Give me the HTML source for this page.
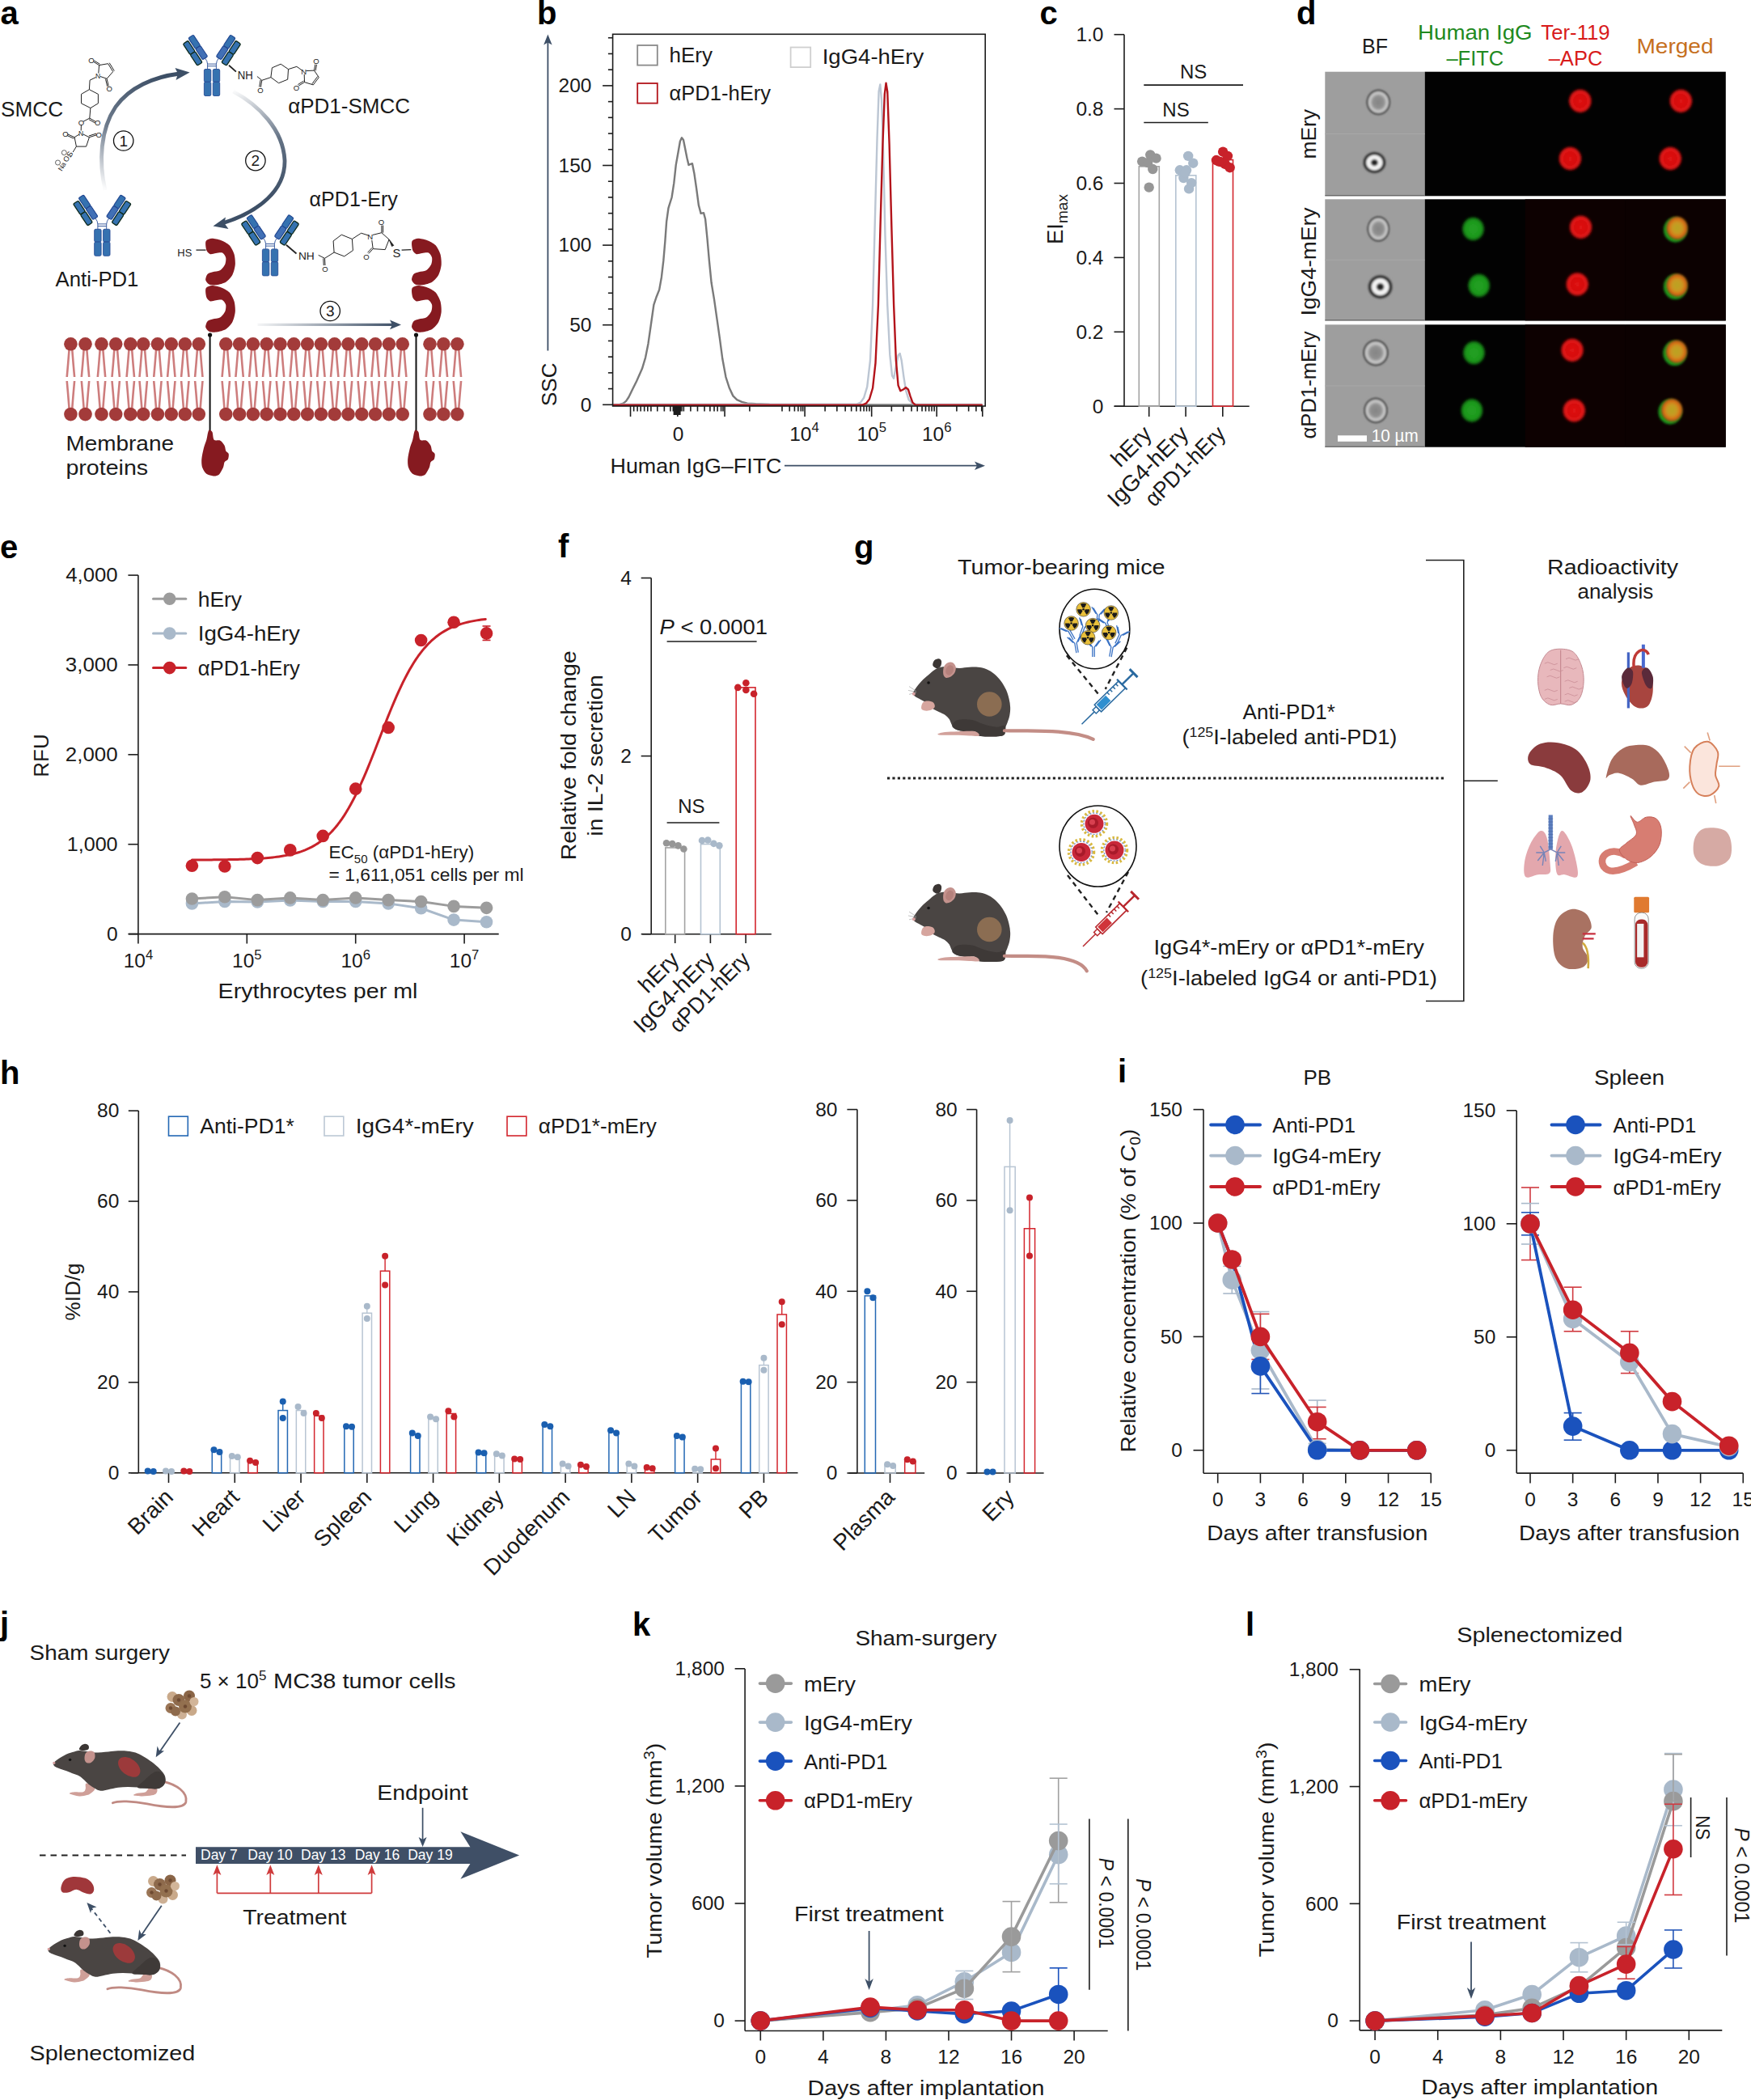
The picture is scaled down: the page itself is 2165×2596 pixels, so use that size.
<!DOCTYPE html>
<html><head><meta charset="utf-8"><title>Figure</title>
<style>html,body{margin:0;padding:0;background:#fff;}svg{display:block;}</style></head>
<body><svg width="2165" height="2596" viewBox="0 0 2165 2596" font-family="'Liberation Sans', Arial, sans-serif" fill="#1a1a1a">
<rect width="2165" height="2596" fill="#fff"/>
<text x="664" y="29.5" font-size="40" fill="#000" font-weight="bold">b</text>
<polyline points="758.98,500.34 766.52,500 770.63,498.63 774.06,495.89 777.48,490.75 781.94,481.49 787.08,471.21 793.93,455.79 798.05,442.08 801.47,424.95 804.9,400.96 808.33,376.97 811.75,366.69 815.18,358.12 817.92,342.7 820.32,322.14 822.38,298.15 824.09,274.16 826.49,257.03 830.6,244 833.34,226.18 835.74,203.91 838.49,188.49 840.88,174.78 842.94,170.32 845,173.06 847.05,183.34 849.45,195.34 851.51,203.91 853.91,202.88 855.96,202.19 858.36,214.19 861.1,233.04 863.85,253.6 866.59,263.88 870.01,263.19 872.07,270.73 874.47,294.72 876.87,322.14 879.61,349.55 883.04,370.12 886.46,394.11 889.89,418.09 893.32,443.8 897.43,466.07 901.88,479.78 906.34,489.38 911.14,494.17 917.31,496.92 924.16,498.63 934.44,499.31 951.58,500 1026.97,500.34 1213.74,500.34" fill="none" stroke="#7a7a7a" stroke-width="2.4" stroke-linejoin="round" stroke-linecap="round" />
<polyline points="758.98,500 1059.53,499.66 1063.98,497.6 1068.09,491.78 1072.21,478.07 1075.98,445.51 1079.06,376.97 1081.8,274.16 1084.54,171.35 1086.6,113.09 1088.31,104.52 1090.03,123.37 1092.08,188.49 1094.48,291.3 1097.22,376.97 1100.31,438.66 1103.05,464.36 1105.11,467.79 1107.85,452.36 1110.59,439.34 1112.65,436.94 1114.7,445.51 1117.44,466.07 1120.19,483.21 1123.61,494.17 1128.07,498.63 1133.21,500 1213.74,500" fill="none" stroke="#bcc6d3" stroke-width="2.4" stroke-linejoin="round" stroke-linecap="round" />
<polyline points="758.98,500.69 1066.38,500.69 1070.84,498.63 1074.95,493.49 1079.06,479.78 1082.49,448.94 1085.92,376.97 1088.66,274.16 1091.4,178.2 1093.8,116.52 1095.51,102.81 1097.22,113.09 1099.62,178.2 1102.36,281.01 1105.11,376.97 1107.85,445.51 1110.59,476.35 1113.33,483.21 1116.76,481.49 1120.19,479.1 1122.93,481.49 1125.67,490.06 1128.41,497.6 1131.49,500.34 1213.74,500.69" fill="none" stroke="#b3141b" stroke-width="2.4" stroke-linejoin="round" stroke-linecap="round" />
<rect x="757.6" y="42.3" width="460.6" height="459.7" fill="none" stroke="#1c1c1c" stroke-width="1.6" />
<line x1="745.1" y1="500.3" x2="757.6" y2="500.3" stroke="#1c1c1c" stroke-width="1.6" />
<text x="731.5" y="508.5" font-size="24.5" text-anchor="end">0</text>
<line x1="751.9" y1="480.58" x2="757.6" y2="480.58" stroke="#1c1c1c" stroke-width="1.6" />
<line x1="751.9" y1="460.86" x2="757.6" y2="460.86" stroke="#1c1c1c" stroke-width="1.6" />
<line x1="751.9" y1="441.14" x2="757.6" y2="441.14" stroke="#1c1c1c" stroke-width="1.6" />
<line x1="751.9" y1="421.42" x2="757.6" y2="421.42" stroke="#1c1c1c" stroke-width="1.6" />
<line x1="745.1" y1="401.7" x2="757.6" y2="401.7" stroke="#1c1c1c" stroke-width="1.6" />
<text x="731.5" y="409.9" font-size="24.5" text-anchor="end">50</text>
<line x1="751.9" y1="381.98" x2="757.6" y2="381.98" stroke="#1c1c1c" stroke-width="1.6" />
<line x1="751.9" y1="362.26" x2="757.6" y2="362.26" stroke="#1c1c1c" stroke-width="1.6" />
<line x1="751.9" y1="342.54" x2="757.6" y2="342.54" stroke="#1c1c1c" stroke-width="1.6" />
<line x1="751.9" y1="322.82" x2="757.6" y2="322.82" stroke="#1c1c1c" stroke-width="1.6" />
<line x1="745.1" y1="303.1" x2="757.6" y2="303.1" stroke="#1c1c1c" stroke-width="1.6" />
<text x="731.5" y="311.3" font-size="24.5" text-anchor="end">100</text>
<line x1="751.9" y1="283.38" x2="757.6" y2="283.38" stroke="#1c1c1c" stroke-width="1.6" />
<line x1="751.9" y1="263.66" x2="757.6" y2="263.66" stroke="#1c1c1c" stroke-width="1.6" />
<line x1="751.9" y1="243.94" x2="757.6" y2="243.94" stroke="#1c1c1c" stroke-width="1.6" />
<line x1="751.9" y1="224.22" x2="757.6" y2="224.22" stroke="#1c1c1c" stroke-width="1.6" />
<line x1="745.1" y1="204.5" x2="757.6" y2="204.5" stroke="#1c1c1c" stroke-width="1.6" />
<text x="731.5" y="212.7" font-size="24.5" text-anchor="end">150</text>
<line x1="751.9" y1="184.78" x2="757.6" y2="184.78" stroke="#1c1c1c" stroke-width="1.6" />
<line x1="751.9" y1="165.06" x2="757.6" y2="165.06" stroke="#1c1c1c" stroke-width="1.6" />
<line x1="751.9" y1="145.34" x2="757.6" y2="145.34" stroke="#1c1c1c" stroke-width="1.6" />
<line x1="751.9" y1="125.62" x2="757.6" y2="125.62" stroke="#1c1c1c" stroke-width="1.6" />
<line x1="745.1" y1="105.9" x2="757.6" y2="105.9" stroke="#1c1c1c" stroke-width="1.6" />
<text x="731.5" y="114.1" font-size="24.5" text-anchor="end">200</text>
<line x1="751.9" y1="86.18" x2="757.6" y2="86.18" stroke="#1c1c1c" stroke-width="1.6" />
<line x1="751.9" y1="66.46" x2="757.6" y2="66.46" stroke="#1c1c1c" stroke-width="1.6" />
<line x1="751.9" y1="46.74" x2="757.6" y2="46.74" stroke="#1c1c1c" stroke-width="1.6" />
<line x1="779.54" y1="502" x2="779.54" y2="515" stroke="#1c1c1c" stroke-width="1.6" />
<line x1="837.8" y1="502" x2="837.8" y2="515" stroke="#1c1c1c" stroke-width="1.6" />
<line x1="896.06" y1="502" x2="896.06" y2="515" stroke="#1c1c1c" stroke-width="1.6" />
<line x1="995.1" y1="502" x2="995.1" y2="515" stroke="#1c1c1c" stroke-width="1.6" />
<line x1="1077.69" y1="502" x2="1077.69" y2="515" stroke="#1c1c1c" stroke-width="1.6" />
<line x1="1158.22" y1="502" x2="1158.22" y2="515" stroke="#1c1c1c" stroke-width="1.6" />
<line x1="1214.77" y1="502" x2="1214.77" y2="515" stroke="#1c1c1c" stroke-width="1.6" />
<line x1="783.65" y1="502" x2="783.65" y2="508.5" stroke="#1c1c1c" stroke-width="1.6" />
<line x1="788.11" y1="502" x2="788.11" y2="508.5" stroke="#1c1c1c" stroke-width="1.6" />
<line x1="792.22" y1="502" x2="792.22" y2="508.5" stroke="#1c1c1c" stroke-width="1.6" />
<line x1="796.68" y1="502" x2="796.68" y2="508.5" stroke="#1c1c1c" stroke-width="1.6" />
<line x1="800.79" y1="502" x2="800.79" y2="508.5" stroke="#1c1c1c" stroke-width="1.6" />
<line x1="804.9" y1="502" x2="804.9" y2="508.5" stroke="#1c1c1c" stroke-width="1.6" />
<line x1="812.78" y1="502" x2="812.78" y2="508.5" stroke="#1c1c1c" stroke-width="1.6" />
<line x1="821.35" y1="502" x2="821.35" y2="508.5" stroke="#1c1c1c" stroke-width="1.6" />
<line x1="828.89" y1="502" x2="828.89" y2="508.5" stroke="#1c1c1c" stroke-width="1.6" />
<line x1="832.32" y1="502" x2="832.32" y2="508.5" stroke="#1c1c1c" stroke-width="1.6" />
<line x1="834.37" y1="502" x2="834.37" y2="508.5" stroke="#1c1c1c" stroke-width="1.6" />
<line x1="836.09" y1="502" x2="836.09" y2="508.5" stroke="#1c1c1c" stroke-width="1.6" />
<line x1="839.51" y1="502" x2="839.51" y2="508.5" stroke="#1c1c1c" stroke-width="1.6" />
<line x1="841.23" y1="502" x2="841.23" y2="508.5" stroke="#1c1c1c" stroke-width="1.6" />
<line x1="842.94" y1="502" x2="842.94" y2="508.5" stroke="#1c1c1c" stroke-width="1.6" />
<line x1="845.34" y1="502" x2="845.34" y2="508.5" stroke="#1c1c1c" stroke-width="1.6" />
<line x1="853.91" y1="502" x2="853.91" y2="508.5" stroke="#1c1c1c" stroke-width="1.6" />
<line x1="862.47" y1="502" x2="862.47" y2="508.5" stroke="#1c1c1c" stroke-width="1.6" />
<line x1="871.04" y1="502" x2="871.04" y2="508.5" stroke="#1c1c1c" stroke-width="1.6" />
<line x1="877.9" y1="502" x2="877.9" y2="508.5" stroke="#1c1c1c" stroke-width="1.6" />
<line x1="883.04" y1="502" x2="883.04" y2="508.5" stroke="#1c1c1c" stroke-width="1.6" />
<line x1="887.15" y1="502" x2="887.15" y2="508.5" stroke="#1c1c1c" stroke-width="1.6" />
<line x1="891.6" y1="502" x2="891.6" y2="508.5" stroke="#1c1c1c" stroke-width="1.6" />
<line x1="894" y1="502" x2="894" y2="508.5" stroke="#1c1c1c" stroke-width="1.6" />
<line x1="926.9" y1="502" x2="926.9" y2="508.5" stroke="#1c1c1c" stroke-width="1.6" />
<line x1="967" y1="502" x2="967" y2="508.5" stroke="#1c1c1c" stroke-width="1.6" />
<line x1="976.25" y1="502" x2="976.25" y2="508.5" stroke="#1c1c1c" stroke-width="1.6" />
<line x1="982.42" y1="502" x2="982.42" y2="508.5" stroke="#1c1c1c" stroke-width="1.6" />
<line x1="986.87" y1="502" x2="986.87" y2="508.5" stroke="#1c1c1c" stroke-width="1.6" />
<line x1="990.3" y1="502" x2="990.3" y2="508.5" stroke="#1c1c1c" stroke-width="1.6" />
<line x1="992.7" y1="502" x2="992.7" y2="508.5" stroke="#1c1c1c" stroke-width="1.6" />
<line x1="1020.12" y1="502" x2="1020.12" y2="508.5" stroke="#1c1c1c" stroke-width="1.6" />
<line x1="1034.85" y1="502" x2="1034.85" y2="508.5" stroke="#1c1c1c" stroke-width="1.6" />
<line x1="1045.13" y1="502" x2="1045.13" y2="508.5" stroke="#1c1c1c" stroke-width="1.6" />
<line x1="1052.67" y1="502" x2="1052.67" y2="508.5" stroke="#1c1c1c" stroke-width="1.6" />
<line x1="1058.84" y1="502" x2="1058.84" y2="508.5" stroke="#1c1c1c" stroke-width="1.6" />
<line x1="1063.98" y1="502" x2="1063.98" y2="508.5" stroke="#1c1c1c" stroke-width="1.6" />
<line x1="1068.09" y1="502" x2="1068.09" y2="508.5" stroke="#1c1c1c" stroke-width="1.6" />
<line x1="1071.52" y1="502" x2="1071.52" y2="508.5" stroke="#1c1c1c" stroke-width="1.6" />
<line x1="1074.95" y1="502" x2="1074.95" y2="508.5" stroke="#1c1c1c" stroke-width="1.6" />
<line x1="1102.36" y1="502" x2="1102.36" y2="508.5" stroke="#1c1c1c" stroke-width="1.6" />
<line x1="1117.1" y1="502" x2="1117.1" y2="508.5" stroke="#1c1c1c" stroke-width="1.6" />
<line x1="1127.04" y1="502" x2="1127.04" y2="508.5" stroke="#1c1c1c" stroke-width="1.6" />
<line x1="1134.24" y1="502" x2="1134.24" y2="508.5" stroke="#1c1c1c" stroke-width="1.6" />
<line x1="1140.06" y1="502" x2="1140.06" y2="508.5" stroke="#1c1c1c" stroke-width="1.6" />
<line x1="1144.52" y1="502" x2="1144.52" y2="508.5" stroke="#1c1c1c" stroke-width="1.6" />
<line x1="1148.63" y1="502" x2="1148.63" y2="508.5" stroke="#1c1c1c" stroke-width="1.6" />
<line x1="1152.06" y1="502" x2="1152.06" y2="508.5" stroke="#1c1c1c" stroke-width="1.6" />
<line x1="1155.14" y1="502" x2="1155.14" y2="508.5" stroke="#1c1c1c" stroke-width="1.6" />
<line x1="1182.9" y1="502" x2="1182.9" y2="508.5" stroke="#1c1c1c" stroke-width="1.6" />
<line x1="1197.64" y1="502" x2="1197.64" y2="508.5" stroke="#1c1c1c" stroke-width="1.6" />
<line x1="1206.89" y1="502" x2="1206.89" y2="508.5" stroke="#1c1c1c" stroke-width="1.6" />
<line x1="1213.74" y1="502" x2="1213.74" y2="508.5" stroke="#1c1c1c" stroke-width="1.6" />
<line x1="833.69" y1="502" x2="833.69" y2="513" stroke="#1c1c1c" stroke-width="2.2" />
<line x1="835.06" y1="502" x2="835.06" y2="513" stroke="#1c1c1c" stroke-width="2.2" />
<line x1="836.43" y1="502" x2="836.43" y2="513" stroke="#1c1c1c" stroke-width="2.2" />
<line x1="837.8" y1="502" x2="837.8" y2="513" stroke="#1c1c1c" stroke-width="2.2" />
<line x1="839.17" y1="502" x2="839.17" y2="513" stroke="#1c1c1c" stroke-width="2.2" />
<line x1="840.54" y1="502" x2="840.54" y2="513" stroke="#1c1c1c" stroke-width="2.2" />
<text x="838.5" y="544.5" font-size="24.5" text-anchor="middle">0</text>
<text x="994.4" y="544.5" font-size="24.5" text-anchor="middle">10<tspan font-size="16.66" dy="-10.29">4</tspan></text>
<text x="1077.7" y="544.5" font-size="24.5" text-anchor="middle">10<tspan font-size="16.66" dy="-10.29">5</tspan></text>
<text x="1158.2" y="544.5" font-size="24.5" text-anchor="middle">10<tspan font-size="16.66" dy="-10.29">6</tspan></text>
<text x="754.5" y="584.5" font-size="26" textLength="212" lengthAdjust="spacingAndGlyphs">Human IgG–FITC</text>
<line x1="970" y1="575.7" x2="1210" y2="575.7" stroke="#3d4f66" stroke-width="1.8" />
<path d="M1218,575.7 L1205,570.5 L1208,575.7 L1205,581 Z" fill="#3d4f66" />
<line x1="677.4" y1="433.5" x2="677.4" y2="52" stroke="#3d4f66" stroke-width="1.8" />
<path d="M677.4,42.5 L672.2,55.5 L677.4,52.5 L682.6,55.5 Z" fill="#3d4f66" />
<text x="687.5" y="502" font-size="26" transform="rotate(-90 687.5 502)">SSC</text>
<rect x="788.2" y="56" width="24.6" height="24.6" fill="none" stroke="#8a8a8a" stroke-width="1.8" />
<rect x="977.6" y="58.5" width="24.6" height="24.6" fill="none" stroke="#cfcfcf" stroke-width="1.8" />
<rect x="788.2" y="103" width="24.6" height="24.6" fill="none" stroke="#b3141b" stroke-width="1.8" />
<text x="827.5" y="76.5" font-size="26">hEry</text>
<text x="1016.7" y="78.5" font-size="26" textLength="125.5" lengthAdjust="spacingAndGlyphs">IgG4-hEry</text>
<text x="827.5" y="123.5" font-size="26" textLength="125.5" lengthAdjust="spacingAndGlyphs">αPD1-hEry</text>
<text x="1285.5" y="29.5" font-size="40" fill="#000" font-weight="bold">c</text>
<line x1="1390" y1="42.7" x2="1390" y2="502.2" stroke="#1c1c1c" stroke-width="1.6" />
<line x1="1377.5" y1="502.2" x2="1390" y2="502.2" stroke="#1c1c1c" stroke-width="1.6" />
<text x="1364.5" y="510.53" font-size="24.5" text-anchor="end">0</text>
<line x1="1377.5" y1="410.3" x2="1390" y2="410.3" stroke="#1c1c1c" stroke-width="1.6" />
<text x="1364.5" y="418.63" font-size="24.5" text-anchor="end">0.2</text>
<line x1="1377.5" y1="318.4" x2="1390" y2="318.4" stroke="#1c1c1c" stroke-width="1.6" />
<text x="1364.5" y="326.73" font-size="24.5" text-anchor="end">0.4</text>
<line x1="1377.5" y1="226.5" x2="1390" y2="226.5" stroke="#1c1c1c" stroke-width="1.6" />
<text x="1364.5" y="234.83" font-size="24.5" text-anchor="end">0.6</text>
<line x1="1377.5" y1="134.6" x2="1390" y2="134.6" stroke="#1c1c1c" stroke-width="1.6" />
<text x="1364.5" y="142.93" font-size="24.5" text-anchor="end">0.8</text>
<line x1="1377.5" y1="42.7" x2="1390" y2="42.7" stroke="#1c1c1c" stroke-width="1.6" />
<text x="1364.5" y="51.03" font-size="24.5" text-anchor="end">1.0</text>
<line x1="1377.7" y1="502.2" x2="1544.7" y2="502.2" stroke="#1c1c1c" stroke-width="1.6" />
<line x1="1420.7" y1="502.2" x2="1420.7" y2="515" stroke="#1c1c1c" stroke-width="1.6" />
<line x1="1466.1" y1="502.2" x2="1466.1" y2="515" stroke="#1c1c1c" stroke-width="1.6" />
<line x1="1511.8" y1="502.2" x2="1511.8" y2="515" stroke="#1c1c1c" stroke-width="1.6" />
<rect x="1408.3" y="205.82" width="25" height="296.38" fill="none" stroke="#a3a3a3" stroke-width="1.6" />
<rect x="1453.8" y="216.85" width="25" height="285.35" fill="none" stroke="#b4c3d2" stroke-width="1.6" />
<rect x="1499.5" y="197.55" width="25" height="304.65" fill="none" stroke="#d3262e" stroke-width="1.6" />
<circle cx="1412.17" cy="199.6" r="6.2" fill="#969696" />
<circle cx="1422.23" cy="191.37" r="6.2" fill="#969696" />
<circle cx="1429.54" cy="195.64" r="6.2" fill="#969696" />
<circle cx="1425.28" cy="209.04" r="6.2" fill="#969696" />
<circle cx="1420.7" cy="231.59" r="6.2" fill="#969696" />
<circle cx="1419.18" cy="201.12" r="6.2" fill="#969696" />
<circle cx="1469.16" cy="192.89" r="6.2" fill="#a9b9ca" />
<circle cx="1475.25" cy="201.73" r="6.2" fill="#a9b9ca" />
<circle cx="1458.8" cy="210.26" r="6.2" fill="#a9b9ca" />
<circle cx="1467.02" cy="210.26" r="6.2" fill="#a9b9ca" />
<circle cx="1463.37" cy="220.01" r="6.2" fill="#a9b9ca" />
<circle cx="1470.07" cy="233.42" r="6.2" fill="#a9b9ca" />
<circle cx="1473.12" cy="226.11" r="6.2" fill="#a9b9ca" />
<circle cx="1465.5" cy="213.31" r="6.2" fill="#a9b9ca" />
<circle cx="1503.9" cy="198.07" r="6.2" fill="#c8222a" />
<circle cx="1512.12" cy="187.71" r="6.2" fill="#c8222a" />
<circle cx="1517.91" cy="192.89" r="6.2" fill="#c8222a" />
<circle cx="1514.87" cy="202.95" r="6.2" fill="#c8222a" />
<circle cx="1520.66" cy="207.22" r="6.2" fill="#c8222a" />
<circle cx="1509.69" cy="200.21" r="6.2" fill="#c8222a" />
<circle cx="1506.94" cy="199.6" r="6.2" fill="#c8222a" />
<line x1="1414.3" y1="105.1" x2="1537" y2="105.1" stroke="#1c1c1c" stroke-width="1.6" />
<text x="1475.6" y="96.5" font-size="24" text-anchor="middle">NS</text>
<line x1="1414.3" y1="151.5" x2="1493.8" y2="151.5" stroke="#1c1c1c" stroke-width="1.6" />
<text x="1454" y="144.3" font-size="24" text-anchor="middle">NS</text>
<text x="1314" y="302" font-size="27.5" transform="rotate(-90 1314 302)">EI<tspan font-size="19" dy="6">max</tspan></text>
<text x="1425.7" y="538" font-size="28" text-anchor="end" transform="rotate(-45 1425.7 538)">hEry</text>
<text x="1471.1" y="538" font-size="28" text-anchor="end" transform="rotate(-45 1471.1 538)">IgG4-hEry</text>
<text x="1516.8" y="538" font-size="28" text-anchor="end" transform="rotate(-45 1516.8 538)" textLength="127" lengthAdjust="spacingAndGlyphs">αPD1-hEry</text>
<text x="0" y="690" font-size="40" fill="#000" font-weight="bold">e</text>
<line x1="170.9" y1="711.1" x2="170.9" y2="1154.6" stroke="#1c1c1c" stroke-width="1.6" />
<line x1="158.4" y1="1154.6" x2="170.9" y2="1154.6" stroke="#1c1c1c" stroke-width="1.6" />
<text x="145.6" y="1162.93" font-size="24.5" text-anchor="end">0</text>
<line x1="158.4" y1="1043.72" x2="170.9" y2="1043.72" stroke="#1c1c1c" stroke-width="1.6" />
<text x="145.6" y="1052.05" font-size="24.5" text-anchor="end" textLength="62.9" lengthAdjust="spacingAndGlyphs">1,000</text>
<line x1="158.4" y1="932.84" x2="170.9" y2="932.84" stroke="#1c1c1c" stroke-width="1.6" />
<text x="145.6" y="941.17" font-size="24.5" text-anchor="end" textLength="64.8" lengthAdjust="spacingAndGlyphs">2,000</text>
<line x1="158.4" y1="821.96" x2="170.9" y2="821.96" stroke="#1c1c1c" stroke-width="1.6" />
<text x="145.6" y="830.29" font-size="24.5" text-anchor="end" textLength="64.8" lengthAdjust="spacingAndGlyphs">3,000</text>
<line x1="158.4" y1="711.08" x2="170.9" y2="711.08" stroke="#1c1c1c" stroke-width="1.6" />
<text x="145.6" y="719.41" font-size="24.5" text-anchor="end" textLength="64.4" lengthAdjust="spacingAndGlyphs">4,000</text>
<line x1="159.2" y1="1154.6" x2="616.7" y2="1154.6" stroke="#1c1c1c" stroke-width="1.6" />
<line x1="170.9" y1="1154.6" x2="170.9" y2="1166.5" stroke="#1c1c1c" stroke-width="1.6" />
<text x="170.9" y="1196" font-size="24.5" text-anchor="middle">10<tspan font-size="16.66" dy="-10.29">4</tspan></text>
<line x1="305.3" y1="1154.6" x2="305.3" y2="1166.5" stroke="#1c1c1c" stroke-width="1.6" />
<text x="305.3" y="1196" font-size="24.5" text-anchor="middle">10<tspan font-size="16.66" dy="-10.29">5</tspan></text>
<line x1="439.7" y1="1154.6" x2="439.7" y2="1166.5" stroke="#1c1c1c" stroke-width="1.6" />
<text x="439.7" y="1196" font-size="24.5" text-anchor="middle">10<tspan font-size="16.66" dy="-10.29">6</tspan></text>
<line x1="574.1" y1="1154.6" x2="574.1" y2="1166.5" stroke="#1c1c1c" stroke-width="1.6" />
<text x="574.1" y="1196" font-size="24.5" text-anchor="middle">10<tspan font-size="16.66" dy="-10.29">7</tspan></text>
<text x="50.5" y="934" font-size="26" text-anchor="middle" transform="rotate(-90 50.5 934)" dy="9">RFU</text>
<text x="393" y="1234" font-size="26" text-anchor="middle" textLength="247" lengthAdjust="spacingAndGlyphs">Erythrocytes per ml</text>
<polyline points="237.41,1116.89 277.87,1114.56 318.32,1114.95 358.78,1113.01 399.24,1114.56 439.7,1114.56 480.16,1116.89 520.62,1122.72 561.08,1137.09 601.53,1139.81" fill="none" stroke="#a9b9ca" stroke-width="3" stroke-linejoin="round" stroke-linecap="round" />
<polyline points="237.41,1111.07 277.87,1108.74 318.32,1112.62 358.78,1109.9 399.24,1112.62 439.7,1109.9 480.16,1112.62 520.62,1114.56 561.08,1120.39 601.53,1122.33" fill="none" stroke="#9c9c9c" stroke-width="3" stroke-linejoin="round" stroke-linecap="round" />
<circle cx="237.41" cy="1116.89" r="7.8" fill="#a9b9ca" />
<circle cx="277.87" cy="1114.56" r="7.8" fill="#a9b9ca" />
<circle cx="318.32" cy="1114.95" r="7.8" fill="#a9b9ca" />
<circle cx="358.78" cy="1113.01" r="7.8" fill="#a9b9ca" />
<circle cx="399.24" cy="1114.56" r="7.8" fill="#a9b9ca" />
<circle cx="439.7" cy="1114.56" r="7.8" fill="#a9b9ca" />
<circle cx="480.16" cy="1116.89" r="7.8" fill="#a9b9ca" />
<circle cx="520.62" cy="1122.72" r="7.8" fill="#a9b9ca" />
<circle cx="561.08" cy="1137.09" r="7.8" fill="#a9b9ca" />
<circle cx="601.53" cy="1139.81" r="7.8" fill="#a9b9ca" />
<circle cx="237.41" cy="1111.07" r="7.8" fill="#9c9c9c" />
<circle cx="277.87" cy="1108.74" r="7.8" fill="#9c9c9c" />
<circle cx="318.32" cy="1112.62" r="7.8" fill="#9c9c9c" />
<circle cx="358.78" cy="1109.9" r="7.8" fill="#9c9c9c" />
<circle cx="399.24" cy="1112.62" r="7.8" fill="#9c9c9c" />
<circle cx="439.7" cy="1109.9" r="7.8" fill="#9c9c9c" />
<circle cx="480.16" cy="1112.62" r="7.8" fill="#9c9c9c" />
<circle cx="520.62" cy="1114.56" r="7.8" fill="#9c9c9c" />
<circle cx="561.08" cy="1120.39" r="7.8" fill="#9c9c9c" />
<circle cx="601.53" cy="1122.33" r="7.8" fill="#9c9c9c" />
<polyline points="237.41,1063.02 240.1,1063.01 242.78,1063 245.47,1062.98 248.16,1062.97 250.85,1062.95 253.54,1062.94 256.22,1062.92 258.91,1062.9 261.6,1062.88 264.29,1062.86 266.98,1062.83 269.66,1062.8 272.35,1062.77 275.04,1062.74 277.73,1062.7 280.42,1062.66 283.1,1062.61 285.79,1062.56 288.48,1062.51 291.17,1062.45 293.86,1062.39 296.54,1062.32 299.23,1062.24 301.92,1062.15 304.61,1062.06 307.3,1061.96 309.98,1061.85 312.67,1061.72 315.36,1061.59 318.05,1061.44 320.74,1061.28 323.42,1061.1 326.11,1060.91 328.8,1060.7 331.49,1060.47 334.18,1060.21 336.86,1059.93 339.55,1059.63 342.24,1059.3 344.93,1058.93 347.62,1058.54 350.3,1058.1 352.99,1057.62 355.68,1057.1 358.37,1056.54 361.06,1055.92 363.74,1055.24 366.43,1054.5 369.12,1053.69 371.81,1052.82 374.5,1051.86 377.18,1050.82 379.87,1049.68 382.56,1048.45 385.25,1047.11 387.94,1045.65 390.62,1044.07 393.31,1042.36 396,1040.51 398.69,1038.51 401.38,1036.34 404.06,1034.01 406.75,1031.49 409.44,1028.79 412.13,1025.89 414.82,1022.78 417.5,1019.45 420.19,1015.89 422.88,1012.11 425.57,1008.09 428.26,1003.82 430.94,999.32 433.63,994.56 436.32,989.56 439.01,984.32 441.7,978.85 444.38,973.15 447.07,967.23 449.76,961.12 452.45,954.82 455.14,948.35 457.82,941.74 460.51,935.02 463.2,928.2 465.89,921.31 468.58,914.39 471.26,907.46 473.95,900.55 476.64,893.69 479.33,886.92 482.02,880.24 484.7,873.7 487.39,867.31 490.08,861.1 492.77,855.08 495.46,849.27 498.14,843.67 500.83,838.31 503.52,833.19 506.21,828.31 508.9,823.68 511.58,819.29 514.27,815.14 516.96,811.23 519.65,807.56 522.34,804.12 525.02,800.9 527.71,797.89 530.4,795.08 533.09,792.47 535.78,790.05 538.46,787.8 541.15,785.71 543.84,783.78 546.53,782 549.22,780.35 551.9,778.84 554.59,777.44 557.28,776.15 559.97,774.97 562.66,773.88 565.34,772.88 568.03,771.96 570.72,771.11 573.41,770.34 576.1,769.63 578.78,768.98 581.47,768.39 584.16,767.85 586.85,767.35 589.54,766.89 592.22,766.48 594.91,766.09 597.6,765.75 600.29,765.43" fill="none" stroke="#c8222a" stroke-width="3" stroke-linejoin="round" stroke-linecap="round" />
<line x1="601.53" y1="773.98" x2="601.53" y2="791.46" stroke="#c8222a" stroke-width="1.6" />
<line x1="596.53" y1="773.98" x2="606.53" y2="773.98" stroke="#c8222a" stroke-width="1.6" />
<line x1="596.53" y1="791.46" x2="606.53" y2="791.46" stroke="#c8222a" stroke-width="1.6" />
<circle cx="237.41" cy="1070.29" r="7.8" fill="#c8222a" />
<circle cx="277.87" cy="1071.07" r="7.8" fill="#c8222a" />
<circle cx="318.32" cy="1060.58" r="7.8" fill="#c8222a" />
<circle cx="358.78" cy="1050.87" r="7.8" fill="#c8222a" />
<circle cx="399.24" cy="1033.4" r="7.8" fill="#c8222a" />
<circle cx="439.7" cy="975.15" r="7.8" fill="#c8222a" />
<circle cx="480.16" cy="899.42" r="7.8" fill="#c8222a" />
<circle cx="520.62" cy="791.46" r="7.8" fill="#c8222a" />
<circle cx="561.08" cy="769.32" r="7.8" fill="#c8222a" />
<circle cx="601.53" cy="782.91" r="7.8" fill="#c8222a" />
<line x1="189.5" y1="740.2" x2="229.8" y2="740.2" stroke="#9c9c9c" stroke-width="3" stroke-linecap="round"/>
<circle cx="209.7" cy="740.2" r="7.8" fill="#9c9c9c" />
<text x="244.7" y="749.5" font-size="26" textLength="54.4" lengthAdjust="spacingAndGlyphs">hEry</text>
<line x1="189.5" y1="783" x2="229.8" y2="783" stroke="#a9b9ca" stroke-width="3" stroke-linecap="round"/>
<circle cx="209.7" cy="783" r="7.8" fill="#a9b9ca" />
<text x="244.7" y="792.3" font-size="26" textLength="126.2" lengthAdjust="spacingAndGlyphs">IgG4-hEry</text>
<line x1="189.5" y1="825.6" x2="229.8" y2="825.6" stroke="#c8222a" stroke-width="3" stroke-linecap="round"/>
<circle cx="209.7" cy="825.6" r="7.8" fill="#c8222a" />
<text x="244.7" y="834.9" font-size="26" textLength="126.2" lengthAdjust="spacingAndGlyphs">αPD1-hEry</text>
<text x="406.6" y="1061.4" font-size="22.5">EC<tspan font-size="15" dy="6">50</tspan><tspan dy="-6"> (αPD1-hEry)</tspan></text>
<text x="406.6" y="1088.5" font-size="22.5" textLength="241" lengthAdjust="spacingAndGlyphs">= 1,611,051 cells per ml</text>
<text x="690" y="688.7" font-size="40" fill="#000" font-weight="bold">f</text>
<line x1="805.2" y1="714.5" x2="805.2" y2="1154.7" stroke="#1c1c1c" stroke-width="1.6" />
<line x1="792.7" y1="1154.7" x2="805.2" y2="1154.7" stroke="#1c1c1c" stroke-width="1.6" />
<text x="781" y="1163.03" font-size="24.5" text-anchor="end">0</text>
<line x1="792.7" y1="934.6" x2="805.2" y2="934.6" stroke="#1c1c1c" stroke-width="1.6" />
<text x="781" y="942.93" font-size="24.5" text-anchor="end">2</text>
<line x1="792.7" y1="714.5" x2="805.2" y2="714.5" stroke="#1c1c1c" stroke-width="1.6" />
<text x="781" y="722.83" font-size="24.5" text-anchor="end">4</text>
<line x1="794.2" y1="1154.7" x2="953.8" y2="1154.7" stroke="#1c1c1c" stroke-width="1.6" />
<line x1="834.7" y1="1154.7" x2="834.7" y2="1166" stroke="#1c1c1c" stroke-width="1.6" />
<line x1="878.4" y1="1154.7" x2="878.4" y2="1166" stroke="#1c1c1c" stroke-width="1.6" />
<line x1="922.1" y1="1154.7" x2="922.1" y2="1166" stroke="#1c1c1c" stroke-width="1.6" />
<rect x="822.8" y="1047.95" width="23.8" height="106.75" fill="none" stroke="#a3a3a3" stroke-width="1.6" />
<rect x="866.5" y="1043.55" width="23.8" height="111.15" fill="none" stroke="#b4c3d2" stroke-width="1.6" />
<rect x="910.2" y="849.86" width="23.8" height="304.84" fill="none" stroke="#d3262e" stroke-width="1.6" />
<circle cx="824.02" cy="1042.2" r="4.3" fill="#969696" />
<circle cx="831.25" cy="1043.14" r="4.3" fill="#969696" />
<circle cx="838.48" cy="1045.34" r="4.3" fill="#969696" />
<circle cx="845.39" cy="1049.43" r="4.3" fill="#969696" />
<circle cx="868.01" cy="1039.06" r="4.3" fill="#a9b9ca" />
<circle cx="875.24" cy="1038.43" r="4.3" fill="#a9b9ca" />
<circle cx="882.47" cy="1042.83" r="4.3" fill="#a9b9ca" />
<circle cx="889.38" cy="1045.34" r="4.3" fill="#a9b9ca" />
<circle cx="912.32" cy="849.9" r="4.3" fill="#c8222a" />
<circle cx="922.37" cy="844.24" r="4.3" fill="#c8222a" />
<circle cx="922.37" cy="853.04" r="4.3" fill="#c8222a" />
<circle cx="932.11" cy="857.75" r="4.3" fill="#c8222a" />
<text x="815.5" y="784" font-size="26" textLength="133.5" lengthAdjust="spacingAndGlyphs"><tspan font-style="italic">P</tspan> &lt; 0.0001</text>
<line x1="824.6" y1="793" x2="935.6" y2="793" stroke="#1c1c1c" stroke-width="1.6" />
<text x="854.8" y="1004.5" font-size="24" text-anchor="middle">NS</text>
<line x1="824.6" y1="1017" x2="889.4" y2="1017" stroke="#1c1c1c" stroke-width="1.6" />
<text x="712.5" y="933.8" font-size="26" text-anchor="middle" transform="rotate(-90 712.5 933.8)" textLength="259" lengthAdjust="spacingAndGlyphs">Relative fold change</text>
<text x="745" y="933.8" font-size="26" text-anchor="middle" transform="rotate(-90 745 933.8)" textLength="199.5" lengthAdjust="spacingAndGlyphs">in IL-2 secretion</text>
<text x="841.4" y="1188.2" font-size="28" text-anchor="end" transform="rotate(-45 841.4 1188.2)">hEry</text>
<text x="885.1" y="1188.2" font-size="28" text-anchor="end" transform="rotate(-45 885.1 1188.2)">IgG4-hEry</text>
<text x="928.8" y="1188.2" font-size="28" text-anchor="end" transform="rotate(-45 928.8 1188.2)" textLength="127" lengthAdjust="spacingAndGlyphs">αPD1-hEry</text>
<text x="0" y="1340" font-size="40" fill="#000" font-weight="bold">h</text>
<line x1="171.3" y1="1373.1" x2="171.3" y2="1820.8" stroke="#1c1c1c" stroke-width="1.6" />
<line x1="158.8" y1="1820.8" x2="171.3" y2="1820.8" stroke="#1c1c1c" stroke-width="1.6" />
<text x="147.3" y="1829.13" font-size="24.5" text-anchor="end">0</text>
<line x1="158.8" y1="1708.88" x2="171.3" y2="1708.88" stroke="#1c1c1c" stroke-width="1.6" />
<text x="147.3" y="1717.21" font-size="24.5" text-anchor="end">20</text>
<line x1="158.8" y1="1596.96" x2="171.3" y2="1596.96" stroke="#1c1c1c" stroke-width="1.6" />
<text x="147.3" y="1605.29" font-size="24.5" text-anchor="end">40</text>
<line x1="158.8" y1="1485.04" x2="171.3" y2="1485.04" stroke="#1c1c1c" stroke-width="1.6" />
<text x="147.3" y="1493.37" font-size="24.5" text-anchor="end">60</text>
<line x1="158.8" y1="1373.12" x2="171.3" y2="1373.12" stroke="#1c1c1c" stroke-width="1.6" />
<text x="147.3" y="1381.45" font-size="24.5" text-anchor="end">80</text>
<line x1="161.6" y1="1820.8" x2="986.5" y2="1820.8" stroke="#1c1c1c" stroke-width="1.6" />
<line x1="208.5" y1="1820.8" x2="208.5" y2="1833" stroke="#1c1c1c" stroke-width="1.6" />
<circle cx="182.7" cy="1818.56" r="4" fill="#1a5fb0" />
<circle cx="189.7" cy="1819.12" r="4" fill="#1a5fb0" />
<circle cx="205" cy="1818.56" r="4" fill="#a9b9ca" />
<circle cx="212" cy="1819.12" r="4" fill="#a9b9ca" />
<circle cx="227.3" cy="1818.56" r="4" fill="#c8222a" />
<circle cx="234.3" cy="1819.12" r="4" fill="#c8222a" />
<text x="215.7" y="1852.5" font-size="28" text-anchor="end" transform="rotate(-45 215.7 1852.5)">Brain</text>
<line x1="290.27" y1="1820.8" x2="290.27" y2="1833" stroke="#1c1c1c" stroke-width="1.6" />
<rect x="262.27" y="1793.38" width="11.4" height="27.42" fill="none" stroke="#2468b4" stroke-width="1.5" />
<circle cx="264.47" cy="1792.26" r="4" fill="#1a5fb0" />
<circle cx="271.47" cy="1795.06" r="4" fill="#1a5fb0" />
<rect x="284.57" y="1800.65" width="11.4" height="20.15" fill="none" stroke="#b8c5d3" stroke-width="1.5" />
<circle cx="286.77" cy="1800.09" r="4" fill="#a9b9ca" />
<circle cx="293.77" cy="1801.21" r="4" fill="#a9b9ca" />
<rect x="306.87" y="1806.81" width="11.4" height="13.99" fill="none" stroke="#d3262e" stroke-width="1.5" />
<circle cx="309.07" cy="1805.69" r="4" fill="#c8222a" />
<circle cx="316.07" cy="1807.93" r="4" fill="#c8222a" />
<text x="297.47" y="1852.5" font-size="28" text-anchor="end" transform="rotate(-45 297.47 1852.5)">Heart</text>
<line x1="372.04" y1="1820.8" x2="372.04" y2="1833" stroke="#1c1c1c" stroke-width="1.6" />
<rect x="344.04" y="1743.58" width="11.4" height="77.22" fill="none" stroke="#2468b4" stroke-width="1.5" />
<line x1="349.74" y1="1732.38" x2="349.74" y2="1743.58" stroke="#2468b4" stroke-width="1.4" />
<circle cx="349.74" cy="1732.38" r="4" fill="#1a5fb0" />
<circle cx="349.74" cy="1753.09" r="4" fill="#1a5fb0" />
<rect x="366.34" y="1743.58" width="11.4" height="77.22" fill="none" stroke="#b8c5d3" stroke-width="1.5" />
<circle cx="368.54" cy="1739.1" r="4" fill="#a9b9ca" />
<circle cx="375.54" cy="1746.93" r="4" fill="#a9b9ca" />
<rect x="388.64" y="1750.29" width="11.4" height="70.51" fill="none" stroke="#d3262e" stroke-width="1.5" />
<circle cx="390.84" cy="1746.93" r="4" fill="#c8222a" />
<circle cx="397.84" cy="1753.09" r="4" fill="#c8222a" />
<text x="379.24" y="1852.5" font-size="28" text-anchor="end" transform="rotate(-45 379.24 1852.5)">Liver</text>
<line x1="453.81" y1="1820.8" x2="453.81" y2="1833" stroke="#1c1c1c" stroke-width="1.6" />
<rect x="425.81" y="1763.72" width="11.4" height="57.08" fill="none" stroke="#2468b4" stroke-width="1.5" />
<circle cx="428.01" cy="1763.16" r="4" fill="#1a5fb0" />
<circle cx="435.01" cy="1763.72" r="4" fill="#1a5fb0" />
<rect x="448.11" y="1623.26" width="11.4" height="197.54" fill="none" stroke="#b8c5d3" stroke-width="1.5" />
<line x1="453.81" y1="1614.87" x2="453.81" y2="1623.26" stroke="#b8c5d3" stroke-width="1.4" />
<circle cx="453.81" cy="1614.87" r="4" fill="#a9b9ca" />
<circle cx="453.81" cy="1629.98" r="4" fill="#a9b9ca" />
<rect x="470.41" y="1571.22" width="11.4" height="249.58" fill="none" stroke="#d3262e" stroke-width="1.5" />
<line x1="476.11" y1="1552.75" x2="476.11" y2="1571.22" stroke="#d3262e" stroke-width="1.4" />
<circle cx="476.11" cy="1552.75" r="4" fill="#c8222a" />
<circle cx="476.11" cy="1588.57" r="4" fill="#c8222a" />
<text x="461.01" y="1852.5" font-size="28" text-anchor="end" transform="rotate(-45 461.01 1852.5)">Spleen</text>
<line x1="535.58" y1="1820.8" x2="535.58" y2="1833" stroke="#1c1c1c" stroke-width="1.6" />
<rect x="507.58" y="1773.23" width="11.4" height="47.57" fill="none" stroke="#2468b4" stroke-width="1.5" />
<circle cx="509.78" cy="1771.56" r="4" fill="#1a5fb0" />
<circle cx="516.78" cy="1774.91" r="4" fill="#1a5fb0" />
<rect x="529.88" y="1752.53" width="11.4" height="68.27" fill="none" stroke="#b8c5d3" stroke-width="1.5" />
<circle cx="532.08" cy="1751.41" r="4" fill="#a9b9ca" />
<circle cx="539.08" cy="1754.21" r="4" fill="#a9b9ca" />
<rect x="552.18" y="1747.49" width="11.4" height="73.31" fill="none" stroke="#d3262e" stroke-width="1.5" />
<circle cx="554.38" cy="1744.13" r="4" fill="#c8222a" />
<circle cx="561.38" cy="1751.41" r="4" fill="#c8222a" />
<text x="542.78" y="1852.5" font-size="28" text-anchor="end" transform="rotate(-45 542.78 1852.5)">Lung</text>
<line x1="617.35" y1="1820.8" x2="617.35" y2="1833" stroke="#1c1c1c" stroke-width="1.6" />
<rect x="589.35" y="1796.18" width="11.4" height="24.62" fill="none" stroke="#2468b4" stroke-width="1.5" />
<circle cx="591.55" cy="1795.62" r="4" fill="#1a5fb0" />
<circle cx="598.55" cy="1796.18" r="4" fill="#1a5fb0" />
<rect x="611.65" y="1798.42" width="11.4" height="22.38" fill="none" stroke="#b8c5d3" stroke-width="1.5" />
<circle cx="613.85" cy="1797.3" r="4" fill="#a9b9ca" />
<circle cx="620.85" cy="1799.54" r="4" fill="#a9b9ca" />
<rect x="633.95" y="1804.01" width="11.4" height="16.79" fill="none" stroke="#d3262e" stroke-width="1.5" />
<circle cx="636.15" cy="1803.45" r="4" fill="#c8222a" />
<circle cx="643.15" cy="1804.01" r="4" fill="#c8222a" />
<text x="624.55" y="1852.5" font-size="28" text-anchor="end" transform="rotate(-45 624.55 1852.5)">Kidney</text>
<line x1="699.12" y1="1820.8" x2="699.12" y2="1833" stroke="#1c1c1c" stroke-width="1.6" />
<rect x="671.12" y="1762.04" width="11.4" height="58.76" fill="none" stroke="#2468b4" stroke-width="1.5" />
<circle cx="673.32" cy="1760.92" r="4" fill="#1a5fb0" />
<circle cx="680.32" cy="1763.16" r="4" fill="#1a5fb0" />
<rect x="693.42" y="1810.73" width="11.4" height="10.07" fill="none" stroke="#b8c5d3" stroke-width="1.5" />
<circle cx="695.62" cy="1809.61" r="4" fill="#a9b9ca" />
<circle cx="702.62" cy="1812.41" r="4" fill="#a9b9ca" />
<rect x="715.72" y="1811.85" width="11.4" height="8.95" fill="none" stroke="#d3262e" stroke-width="1.5" />
<circle cx="717.92" cy="1810.73" r="4" fill="#c8222a" />
<circle cx="724.92" cy="1812.97" r="4" fill="#c8222a" />
<text x="706.32" y="1852.5" font-size="28" text-anchor="end" transform="rotate(-45 706.32 1852.5)">Duodenum</text>
<line x1="780.89" y1="1820.8" x2="780.89" y2="1833" stroke="#1c1c1c" stroke-width="1.6" />
<rect x="752.89" y="1769.88" width="11.4" height="50.92" fill="none" stroke="#2468b4" stroke-width="1.5" />
<circle cx="755.09" cy="1768.2" r="4" fill="#1a5fb0" />
<circle cx="762.09" cy="1771.56" r="4" fill="#1a5fb0" />
<rect x="775.19" y="1810.73" width="11.4" height="10.07" fill="none" stroke="#b8c5d3" stroke-width="1.5" />
<circle cx="777.39" cy="1809.61" r="4" fill="#a9b9ca" />
<circle cx="784.39" cy="1812.41" r="4" fill="#a9b9ca" />
<rect x="797.49" y="1814.64" width="11.4" height="6.16" fill="none" stroke="#d3262e" stroke-width="1.5" />
<circle cx="799.69" cy="1814.08" r="4" fill="#c8222a" />
<circle cx="806.69" cy="1815.2" r="4" fill="#c8222a" />
<text x="788.09" y="1852.5" font-size="28" text-anchor="end" transform="rotate(-45 788.09 1852.5)">LN</text>
<line x1="862.66" y1="1820.8" x2="862.66" y2="1833" stroke="#1c1c1c" stroke-width="1.6" />
<rect x="834.66" y="1776.03" width="11.4" height="44.77" fill="none" stroke="#2468b4" stroke-width="1.5" />
<circle cx="836.86" cy="1774.91" r="4" fill="#1a5fb0" />
<circle cx="843.86" cy="1776.59" r="4" fill="#1a5fb0" />
<rect x="856.96" y="1816.32" width="11.4" height="4.48" fill="none" stroke="#b8c5d3" stroke-width="1.5" />
<circle cx="859.16" cy="1815.76" r="4" fill="#a9b9ca" />
<circle cx="866.16" cy="1816.32" r="4" fill="#a9b9ca" />
<rect x="879.26" y="1804.01" width="11.4" height="16.79" fill="none" stroke="#d3262e" stroke-width="1.5" />
<line x1="884.96" y1="1790.58" x2="884.96" y2="1804.01" stroke="#d3262e" stroke-width="1.4" />
<circle cx="884.96" cy="1790.58" r="4" fill="#c8222a" />
<circle cx="884.96" cy="1815.2" r="4" fill="#c8222a" />
<text x="869.86" y="1852.5" font-size="28" text-anchor="end" transform="rotate(-45 869.86 1852.5)">Tumor</text>
<line x1="944.43" y1="1820.8" x2="944.43" y2="1833" stroke="#1c1c1c" stroke-width="1.6" />
<rect x="916.43" y="1708.32" width="11.4" height="112.48" fill="none" stroke="#2468b4" stroke-width="1.5" />
<circle cx="918.63" cy="1707.76" r="4" fill="#1a5fb0" />
<circle cx="925.63" cy="1708.32" r="4" fill="#1a5fb0" />
<rect x="938.73" y="1687.62" width="11.4" height="133.18" fill="none" stroke="#b8c5d3" stroke-width="1.5" />
<line x1="944.43" y1="1678.66" x2="944.43" y2="1687.62" stroke="#b8c5d3" stroke-width="1.4" />
<circle cx="944.43" cy="1678.66" r="4" fill="#a9b9ca" />
<circle cx="944.43" cy="1693.77" r="4" fill="#a9b9ca" />
<rect x="961.03" y="1624.94" width="11.4" height="195.86" fill="none" stroke="#d3262e" stroke-width="1.5" />
<line x1="966.73" y1="1609.27" x2="966.73" y2="1624.94" stroke="#d3262e" stroke-width="1.4" />
<circle cx="966.73" cy="1609.27" r="4" fill="#c8222a" />
<circle cx="966.73" cy="1637.25" r="4" fill="#c8222a" />
<text x="951.63" y="1852.5" font-size="28" text-anchor="end" transform="rotate(-45 951.63 1852.5)">PB</text>
<text x="90.2" y="1597" font-size="26" text-anchor="middle" transform="rotate(-90 90.2 1597)" dy="9">%ID/g</text>
<rect x="208.5" y="1380.2" width="23.8" height="23.8" fill="none" stroke="#2468b4" stroke-width="1.6" />
<text x="247.3" y="1400.5" font-size="26" textLength="116.5" lengthAdjust="spacingAndGlyphs">Anti-PD1*</text>
<rect x="401" y="1380.2" width="23.8" height="23.8" fill="none" stroke="#bcc8d5" stroke-width="1.6" />
<text x="439.8" y="1400.5" font-size="26" textLength="146" lengthAdjust="spacingAndGlyphs">IgG4*-mEry</text>
<rect x="627" y="1380.2" width="23.8" height="23.8" fill="none" stroke="#d3262e" stroke-width="1.6" />
<text x="665.8" y="1400.5" font-size="26" textLength="146" lengthAdjust="spacingAndGlyphs">αPD1*-mEry</text>
<line x1="1059.9" y1="1371.6" x2="1059.9" y2="1821" stroke="#1c1c1c" stroke-width="1.6" />
<line x1="1047.4" y1="1821" x2="1059.9" y2="1821" stroke="#1c1c1c" stroke-width="1.6" />
<text x="1035.4" y="1829.33" font-size="24.5" text-anchor="end">0</text>
<line x1="1047.4" y1="1708.64" x2="1059.9" y2="1708.64" stroke="#1c1c1c" stroke-width="1.6" />
<text x="1035.4" y="1716.97" font-size="24.5" text-anchor="end">20</text>
<line x1="1047.4" y1="1596.28" x2="1059.9" y2="1596.28" stroke="#1c1c1c" stroke-width="1.6" />
<text x="1035.4" y="1604.61" font-size="24.5" text-anchor="end">40</text>
<line x1="1047.4" y1="1483.92" x2="1059.9" y2="1483.92" stroke="#1c1c1c" stroke-width="1.6" />
<text x="1035.4" y="1492.25" font-size="24.5" text-anchor="end">60</text>
<line x1="1047.4" y1="1371.56" x2="1059.9" y2="1371.56" stroke="#1c1c1c" stroke-width="1.6" />
<text x="1035.4" y="1379.89" font-size="24.5" text-anchor="end">80</text>
<line x1="1049.6" y1="1821" x2="1143.2" y2="1821" stroke="#1c1c1c" stroke-width="1.6" />
<line x1="1100.5" y1="1821" x2="1100.5" y2="1833" stroke="#1c1c1c" stroke-width="1.6" />
<rect x="1069.3" y="1601.9" width="13.2" height="219.1" fill="none" stroke="#2468b4" stroke-width="1.5" />
<circle cx="1072.4" cy="1596.28" r="4" fill="#1a5fb0" />
<circle cx="1079.4" cy="1604.15" r="4" fill="#1a5fb0" />
<rect x="1094" y="1812.01" width="13.2" height="8.99" fill="none" stroke="#b8c5d3" stroke-width="1.5" />
<circle cx="1097.1" cy="1810.33" r="4" fill="#a9b9ca" />
<circle cx="1104.1" cy="1812.01" r="4" fill="#a9b9ca" />
<rect x="1118.7" y="1806.39" width="13.2" height="14.61" fill="none" stroke="#d3262e" stroke-width="1.5" />
<circle cx="1121.8" cy="1804.15" r="4" fill="#c8222a" />
<circle cx="1128.8" cy="1806.39" r="4" fill="#c8222a" />
<text x="1107.7" y="1852.5" font-size="28" text-anchor="end" transform="rotate(-45 1107.7 1852.5)">Plasma</text>
<line x1="1207.6" y1="1371.6" x2="1207.6" y2="1821" stroke="#1c1c1c" stroke-width="1.6" />
<line x1="1195.1" y1="1821" x2="1207.6" y2="1821" stroke="#1c1c1c" stroke-width="1.6" />
<text x="1183.7" y="1829.33" font-size="24.5" text-anchor="end">0</text>
<line x1="1195.1" y1="1708.64" x2="1207.6" y2="1708.64" stroke="#1c1c1c" stroke-width="1.6" />
<text x="1183.7" y="1716.97" font-size="24.5" text-anchor="end">20</text>
<line x1="1195.1" y1="1596.28" x2="1207.6" y2="1596.28" stroke="#1c1c1c" stroke-width="1.6" />
<text x="1183.7" y="1604.61" font-size="24.5" text-anchor="end">40</text>
<line x1="1195.1" y1="1483.92" x2="1207.6" y2="1483.92" stroke="#1c1c1c" stroke-width="1.6" />
<text x="1183.7" y="1492.25" font-size="24.5" text-anchor="end">60</text>
<line x1="1195.1" y1="1371.56" x2="1207.6" y2="1371.56" stroke="#1c1c1c" stroke-width="1.6" />
<text x="1183.7" y="1379.89" font-size="24.5" text-anchor="end">80</text>
<line x1="1197.2" y1="1821" x2="1290.6" y2="1821" stroke="#1c1c1c" stroke-width="1.6" />
<line x1="1248.5" y1="1821" x2="1248.5" y2="1833" stroke="#1c1c1c" stroke-width="1.6" />
<circle cx="1220.5" cy="1819.5" r="4" fill="#1a5fb0" />
<circle cx="1227.5" cy="1819.5" r="4" fill="#1a5fb0" />
<rect x="1242" y="1442.35" width="13.2" height="378.65" fill="none" stroke="#b8c5d3" stroke-width="1.5" />
<line x1="1248.6" y1="1385.04" x2="1248.6" y2="1496.28" stroke="#b8c5d3" stroke-width="1.5" />
<circle cx="1248.6" cy="1385.04" r="4" fill="#a9b9ca" />
<circle cx="1248.6" cy="1496.28" r="4" fill="#a9b9ca" />
<rect x="1266.4" y="1518.75" width="13.2" height="302.25" fill="none" stroke="#d3262e" stroke-width="1.5" />
<line x1="1273" y1="1480.55" x2="1273" y2="1552.46" stroke="#d3262e" stroke-width="1.5" />
<circle cx="1273" cy="1480.55" r="4" fill="#c8222a" />
<circle cx="1273" cy="1552.46" r="4" fill="#c8222a" />
<text x="1255.7" y="1852.5" font-size="28" text-anchor="end" transform="rotate(-45 1255.7 1852.5)">Ery</text>
<text x="1382" y="1338" font-size="40" fill="#000" font-weight="bold">i</text>
<line x1="1488" y1="1371.6" x2="1488" y2="1821.2" stroke="#1c1c1c" stroke-width="1.6" />
<line x1="1475.5" y1="1792.8" x2="1488" y2="1792.8" stroke="#1c1c1c" stroke-width="1.6" />
<text x="1462" y="1801.13" font-size="24.5" text-anchor="end">0</text>
<line x1="1475.5" y1="1652.4" x2="1488" y2="1652.4" stroke="#1c1c1c" stroke-width="1.6" />
<text x="1462" y="1660.73" font-size="24.5" text-anchor="end">50</text>
<line x1="1475.5" y1="1512" x2="1488" y2="1512" stroke="#1c1c1c" stroke-width="1.6" />
<text x="1462" y="1520.33" font-size="24.5" text-anchor="end">100</text>
<line x1="1475.5" y1="1371.6" x2="1488" y2="1371.6" stroke="#1c1c1c" stroke-width="1.6" />
<text x="1462" y="1379.93" font-size="24.5" text-anchor="end">150</text>
<line x1="1488" y1="1821.2" x2="1769.3" y2="1821.2" stroke="#1c1c1c" stroke-width="1.6" />
<line x1="1505.7" y1="1821.2" x2="1505.7" y2="1833.4" stroke="#1c1c1c" stroke-width="1.6" />
<text x="1505.7" y="1862.3" font-size="24.5" text-anchor="middle">0</text>
<line x1="1558.41" y1="1821.2" x2="1558.41" y2="1833.4" stroke="#1c1c1c" stroke-width="1.6" />
<text x="1558.41" y="1862.3" font-size="24.5" text-anchor="middle">3</text>
<line x1="1611.12" y1="1821.2" x2="1611.12" y2="1833.4" stroke="#1c1c1c" stroke-width="1.6" />
<text x="1611.12" y="1862.3" font-size="24.5" text-anchor="middle">6</text>
<line x1="1663.83" y1="1821.2" x2="1663.83" y2="1833.4" stroke="#1c1c1c" stroke-width="1.6" />
<text x="1663.83" y="1862.3" font-size="24.5" text-anchor="middle">9</text>
<line x1="1716.54" y1="1821.2" x2="1716.54" y2="1833.4" stroke="#1c1c1c" stroke-width="1.6" />
<text x="1716.54" y="1862.3" font-size="24.5" text-anchor="middle">12</text>
<line x1="1769.25" y1="1821.2" x2="1769.25" y2="1833.4" stroke="#1c1c1c" stroke-width="1.6" />
<text x="1769.25" y="1862.3" font-size="24.5" text-anchor="middle">15</text>
<text x="1628.8" y="1903.5" font-size="26" text-anchor="middle" textLength="273" lengthAdjust="spacingAndGlyphs">Days after transfusion</text>
<text x="1628.8" y="1341.1" font-size="26" text-anchor="middle">PB</text>
<line x1="1875.2" y1="1373.1" x2="1875.2" y2="1821.1" stroke="#1c1c1c" stroke-width="1.6" />
<line x1="1862.7" y1="1792.8" x2="1875.2" y2="1792.8" stroke="#1c1c1c" stroke-width="1.6" />
<text x="1849.3" y="1801.13" font-size="24.5" text-anchor="end">0</text>
<line x1="1862.7" y1="1652.8" x2="1875.2" y2="1652.8" stroke="#1c1c1c" stroke-width="1.6" />
<text x="1849.3" y="1661.13" font-size="24.5" text-anchor="end">50</text>
<line x1="1862.7" y1="1512.8" x2="1875.2" y2="1512.8" stroke="#1c1c1c" stroke-width="1.6" />
<text x="1849.3" y="1521.13" font-size="24.5" text-anchor="end">100</text>
<line x1="1862.7" y1="1372.8" x2="1875.2" y2="1372.8" stroke="#1c1c1c" stroke-width="1.6" />
<text x="1849.3" y="1381.13" font-size="24.5" text-anchor="end">150</text>
<line x1="1875.2" y1="1821.1" x2="2155.2" y2="1821.1" stroke="#1c1c1c" stroke-width="1.6" />
<line x1="1892" y1="1821.1" x2="1892" y2="1833.4" stroke="#1c1c1c" stroke-width="1.6" />
<text x="1892" y="1862.3" font-size="24.5" text-anchor="middle">0</text>
<line x1="1944.65" y1="1821.1" x2="1944.65" y2="1833.4" stroke="#1c1c1c" stroke-width="1.6" />
<text x="1944.65" y="1862.3" font-size="24.5" text-anchor="middle">3</text>
<line x1="1997.3" y1="1821.1" x2="1997.3" y2="1833.4" stroke="#1c1c1c" stroke-width="1.6" />
<text x="1997.3" y="1862.3" font-size="24.5" text-anchor="middle">6</text>
<line x1="2049.95" y1="1821.1" x2="2049.95" y2="1833.4" stroke="#1c1c1c" stroke-width="1.6" />
<text x="2049.95" y="1862.3" font-size="24.5" text-anchor="middle">9</text>
<line x1="2102.6" y1="1821.1" x2="2102.6" y2="1833.4" stroke="#1c1c1c" stroke-width="1.6" />
<text x="2102.6" y="1862.3" font-size="24.5" text-anchor="middle">12</text>
<line x1="2155.25" y1="1821.1" x2="2155.25" y2="1833.4" stroke="#1c1c1c" stroke-width="1.6" />
<text x="2155.25" y="1862.3" font-size="24.5" text-anchor="middle">15</text>
<text x="2014.5" y="1903.5" font-size="26" text-anchor="middle" textLength="273" lengthAdjust="spacingAndGlyphs">Days after transfusion</text>
<text x="2014.5" y="1341.1" font-size="26" text-anchor="middle" textLength="87.2" lengthAdjust="spacingAndGlyphs">Spleen</text>
<text x="1404" y="1595.6" font-size="26" text-anchor="middle" transform="rotate(-90 1404 1595.6)" textLength="400" lengthAdjust="spacingAndGlyphs">Relative concentration (% of <tspan font-style="italic">C</tspan><tspan font-size="18" dy="6">0</tspan><tspan dy="-6">)</tspan></text>
<line x1="1523.27" y1="1565.35" x2="1523.27" y2="1599.05" stroke="#a9b9ca" stroke-width="1.6" />
<line x1="1512.27" y1="1565.35" x2="1534.27" y2="1565.35" stroke="#a9b9ca" stroke-width="1.6" />
<line x1="1512.27" y1="1599.05" x2="1534.27" y2="1599.05" stroke="#a9b9ca" stroke-width="1.6" />
<line x1="1558.41" y1="1621.51" x2="1558.41" y2="1716.98" stroke="#a9b9ca" stroke-width="1.6" />
<line x1="1547.41" y1="1621.51" x2="1569.41" y2="1621.51" stroke="#a9b9ca" stroke-width="1.6" />
<line x1="1547.41" y1="1716.98" x2="1569.41" y2="1716.98" stroke="#a9b9ca" stroke-width="1.6" />
<line x1="1558.41" y1="1722.6" x2="1558.41" y2="1655.21" stroke="#2456b8" stroke-width="1.6" />
<line x1="1547.41" y1="1722.6" x2="1569.41" y2="1722.6" stroke="#2456b8" stroke-width="1.6" />
<line x1="1547.41" y1="1655.21" x2="1569.41" y2="1655.21" stroke="#2456b8" stroke-width="1.6" />
<line x1="1558.41" y1="1624.32" x2="1558.41" y2="1680.48" stroke="#d03a40" stroke-width="1.6" />
<line x1="1547.41" y1="1624.32" x2="1569.41" y2="1624.32" stroke="#d03a40" stroke-width="1.6" />
<line x1="1547.41" y1="1680.48" x2="1569.41" y2="1680.48" stroke="#d03a40" stroke-width="1.6" />
<line x1="1628.69" y1="1731.02" x2="1628.69" y2="1784.38" stroke="#a9b9ca" stroke-width="1.6" />
<line x1="1617.69" y1="1731.02" x2="1639.69" y2="1731.02" stroke="#a9b9ca" stroke-width="1.6" />
<line x1="1617.69" y1="1784.38" x2="1639.69" y2="1784.38" stroke="#a9b9ca" stroke-width="1.6" />
<line x1="1628.69" y1="1739.45" x2="1628.69" y2="1778.76" stroke="#d03a40" stroke-width="1.6" />
<line x1="1617.69" y1="1739.45" x2="1639.69" y2="1739.45" stroke="#d03a40" stroke-width="1.6" />
<line x1="1617.69" y1="1778.76" x2="1639.69" y2="1778.76" stroke="#d03a40" stroke-width="1.6" />
<polyline points="1505.7,1512 1523.27,1582.2 1558.41,1669.25 1628.69,1791.4 1681.4,1792.8 1751.68,1792.8" fill="none" stroke="#a9b9ca" stroke-width="3.8" stroke-linejoin="round" stroke-linecap="round" />
<polyline points="1505.7,1512 1523.27,1556.93 1558.41,1688.9 1628.69,1792.8 1681.4,1792.8 1751.68,1792.8" fill="none" stroke="#1a52bd" stroke-width="3.8" stroke-linejoin="round" stroke-linecap="round" />
<circle cx="1505.7" cy="1512" r="11.8" fill="#a9b9ca" />
<circle cx="1523.27" cy="1582.2" r="11.8" fill="#a9b9ca" />
<circle cx="1558.41" cy="1669.25" r="11.8" fill="#a9b9ca" />
<circle cx="1628.69" cy="1791.4" r="11.8" fill="#a9b9ca" />
<circle cx="1681.4" cy="1792.8" r="11.8" fill="#a9b9ca" />
<circle cx="1751.68" cy="1792.8" r="11.8" fill="#a9b9ca" />
<circle cx="1558.41" cy="1688.9" r="11.8" fill="#1a52bd" />
<circle cx="1628.69" cy="1792.8" r="11.8" fill="#1a52bd" />
<circle cx="1681.4" cy="1792.8" r="11.8" fill="#1a52bd" />
<circle cx="1751.68" cy="1792.8" r="11.8" fill="#1a52bd" />
<polyline points="1505.7,1512 1523.27,1556.93 1558.41,1652.4 1628.69,1757.7 1681.4,1792.8 1751.68,1792.8" fill="none" stroke="#c8222a" stroke-width="3.8" stroke-linejoin="round" stroke-linecap="round" />
<circle cx="1505.7" cy="1512" r="11.8" fill="#c8222a" />
<circle cx="1523.27" cy="1556.93" r="11.8" fill="#c8222a" />
<circle cx="1558.41" cy="1652.4" r="11.8" fill="#c8222a" />
<circle cx="1628.69" cy="1757.7" r="11.8" fill="#c8222a" />
<circle cx="1681.4" cy="1792.8" r="11.8" fill="#c8222a" />
<circle cx="1751.68" cy="1792.8" r="11.8" fill="#c8222a" />
<line x1="1892" y1="1468" x2="1892" y2="1557.6" stroke="#d03a40" stroke-width="1.6" />
<line x1="1881" y1="1468" x2="1903" y2="1468" stroke="#d03a40" stroke-width="1.6" />
<line x1="1881" y1="1557.6" x2="1903" y2="1557.6" stroke="#d03a40" stroke-width="1.6" />
<line x1="1892" y1="1487.6" x2="1892" y2="1538" stroke="#a9b9ca" stroke-width="1.6" />
<line x1="1881" y1="1487.6" x2="1903" y2="1487.6" stroke="#a9b9ca" stroke-width="1.6" />
<line x1="1881" y1="1538" x2="1903" y2="1538" stroke="#a9b9ca" stroke-width="1.6" />
<line x1="1892" y1="1498.8" x2="1892" y2="1526.8" stroke="#2456b8" stroke-width="1.6" />
<line x1="1881" y1="1498.8" x2="1903" y2="1498.8" stroke="#2456b8" stroke-width="1.6" />
<line x1="1881" y1="1526.8" x2="1903" y2="1526.8" stroke="#2456b8" stroke-width="1.6" />
<line x1="1944.65" y1="1591.2" x2="1944.65" y2="1645.8" stroke="#d03a40" stroke-width="1.6" />
<line x1="1933.65" y1="1591.2" x2="1955.65" y2="1591.2" stroke="#d03a40" stroke-width="1.6" />
<line x1="1933.65" y1="1645.8" x2="1955.65" y2="1645.8" stroke="#d03a40" stroke-width="1.6" />
<line x1="1944.65" y1="1746.6" x2="1944.65" y2="1780.2" stroke="#2456b8" stroke-width="1.6" />
<line x1="1933.65" y1="1746.6" x2="1955.65" y2="1746.6" stroke="#2456b8" stroke-width="1.6" />
<line x1="1933.65" y1="1780.2" x2="1955.65" y2="1780.2" stroke="#2456b8" stroke-width="1.6" />
<line x1="2014.85" y1="1645.8" x2="2014.85" y2="1697.6" stroke="#d03a40" stroke-width="1.6" />
<line x1="2003.85" y1="1645.8" x2="2025.85" y2="1645.8" stroke="#d03a40" stroke-width="1.6" />
<line x1="2003.85" y1="1697.6" x2="2025.85" y2="1697.6" stroke="#d03a40" stroke-width="1.6" />
<polyline points="1892,1512.8 1944.65,1763.12 2014.85,1792.8 2067.5,1792.8 2137.7,1792.8" fill="none" stroke="#1a52bd" stroke-width="3.8" stroke-linejoin="round" stroke-linecap="round" />
<circle cx="1892" cy="1512.8" r="11.8" fill="#1a52bd" />
<circle cx="1944.65" cy="1763.12" r="11.8" fill="#1a52bd" />
<circle cx="2014.85" cy="1792.8" r="11.8" fill="#1a52bd" />
<circle cx="2067.5" cy="1792.8" r="11.8" fill="#1a52bd" />
<circle cx="2137.7" cy="1792.8" r="11.8" fill="#1a52bd" />
<polyline points="1892,1512.8 1944.65,1630.4 2014.85,1683.6 2067.5,1772.64 2137.7,1788.6" fill="none" stroke="#a9b9ca" stroke-width="3.8" stroke-linejoin="round" stroke-linecap="round" />
<circle cx="1892" cy="1512.8" r="11.8" fill="#a9b9ca" />
<circle cx="1944.65" cy="1630.4" r="11.8" fill="#a9b9ca" />
<circle cx="2014.85" cy="1683.6" r="11.8" fill="#a9b9ca" />
<circle cx="2067.5" cy="1772.64" r="11.8" fill="#a9b9ca" />
<circle cx="2137.7" cy="1788.6" r="11.8" fill="#a9b9ca" />
<polyline points="1892,1512.8 1944.65,1619.2 2014.85,1672.4 2067.5,1732.6 2137.7,1787.2" fill="none" stroke="#c8222a" stroke-width="3.8" stroke-linejoin="round" stroke-linecap="round" />
<circle cx="1892" cy="1512.8" r="11.8" fill="#c8222a" />
<circle cx="1944.65" cy="1619.2" r="11.8" fill="#c8222a" />
<circle cx="2014.85" cy="1672.4" r="11.8" fill="#c8222a" />
<circle cx="2067.5" cy="1732.6" r="11.8" fill="#c8222a" />
<circle cx="2137.7" cy="1787.2" r="11.8" fill="#c8222a" />
<line x1="1497.1" y1="1390.5" x2="1558.1" y2="1390.5" stroke="#1a52bd" stroke-width="3.8" stroke-linecap="round"/>
<circle cx="1527" cy="1390.5" r="11.8" fill="#1a52bd" />
<text x="1573.3" y="1400" font-size="26" textLength="102.7" lengthAdjust="spacingAndGlyphs">Anti-PD1</text>
<line x1="1497.1" y1="1428.6" x2="1558.1" y2="1428.6" stroke="#a9b9ca" stroke-width="3.8" stroke-linecap="round"/>
<circle cx="1527" cy="1428.6" r="11.8" fill="#a9b9ca" />
<text x="1573.3" y="1438.1" font-size="26" textLength="134" lengthAdjust="spacingAndGlyphs">IgG4-mEry</text>
<line x1="1497.1" y1="1467" x2="1558.1" y2="1467" stroke="#c8222a" stroke-width="3.8" stroke-linecap="round"/>
<circle cx="1527" cy="1467" r="11.8" fill="#c8222a" />
<text x="1573.3" y="1476.5" font-size="26" textLength="133.2" lengthAdjust="spacingAndGlyphs">αPD1-mEry</text>
<line x1="1918.5" y1="1390.5" x2="1978.5" y2="1390.5" stroke="#1a52bd" stroke-width="3.8" stroke-linecap="round"/>
<circle cx="1948" cy="1390.5" r="11.8" fill="#1a52bd" />
<text x="1994.6" y="1400" font-size="26" textLength="102.7" lengthAdjust="spacingAndGlyphs">Anti-PD1</text>
<line x1="1918.5" y1="1428.6" x2="1978.5" y2="1428.6" stroke="#a9b9ca" stroke-width="3.8" stroke-linecap="round"/>
<circle cx="1948" cy="1428.6" r="11.8" fill="#a9b9ca" />
<text x="1994.6" y="1438.1" font-size="26" textLength="134" lengthAdjust="spacingAndGlyphs">IgG4-mEry</text>
<line x1="1918.5" y1="1467" x2="1978.5" y2="1467" stroke="#c8222a" stroke-width="3.8" stroke-linecap="round"/>
<circle cx="1948" cy="1467" r="11.8" fill="#c8222a" />
<text x="1994.6" y="1476.5" font-size="26" textLength="133.2" lengthAdjust="spacingAndGlyphs">αPD1-mEry</text>
<text x="782" y="2022" font-size="40" fill="#000" font-weight="bold">k</text>
<line x1="921.1" y1="2063.1" x2="921.1" y2="2510.5" stroke="#1c1c1c" stroke-width="1.6" />
<line x1="908.6" y1="2498.1" x2="921.1" y2="2498.1" stroke="#1c1c1c" stroke-width="1.6" />
<text x="895.9" y="2506.43" font-size="24.5" text-anchor="end">0</text>
<line x1="908.6" y1="2353" x2="921.1" y2="2353" stroke="#1c1c1c" stroke-width="1.6" />
<text x="895.9" y="2361.33" font-size="24.5" text-anchor="end">600</text>
<line x1="908.6" y1="2207.9" x2="921.1" y2="2207.9" stroke="#1c1c1c" stroke-width="1.6" />
<text x="895.9" y="2216.23" font-size="24.5" text-anchor="end">1,200</text>
<line x1="908.6" y1="2062.81" x2="921.1" y2="2062.81" stroke="#1c1c1c" stroke-width="1.6" />
<text x="895.9" y="2071.14" font-size="24.5" text-anchor="end">1,800</text>
<line x1="921.1" y1="2510.5" x2="1369.7" y2="2510.5" stroke="#1c1c1c" stroke-width="1.6" />
<line x1="940.3" y1="2510.5" x2="940.3" y2="2522.5" stroke="#1c1c1c" stroke-width="1.6" />
<text x="940.3" y="2551" font-size="24.5" text-anchor="middle">0</text>
<line x1="1017.86" y1="2510.5" x2="1017.86" y2="2522.5" stroke="#1c1c1c" stroke-width="1.6" />
<text x="1017.86" y="2551" font-size="24.5" text-anchor="middle">4</text>
<line x1="1095.42" y1="2510.5" x2="1095.42" y2="2522.5" stroke="#1c1c1c" stroke-width="1.6" />
<text x="1095.42" y="2551" font-size="24.5" text-anchor="middle">8</text>
<line x1="1172.98" y1="2510.5" x2="1172.98" y2="2522.5" stroke="#1c1c1c" stroke-width="1.6" />
<text x="1172.98" y="2551" font-size="24.5" text-anchor="middle">12</text>
<line x1="1250.54" y1="2510.5" x2="1250.54" y2="2522.5" stroke="#1c1c1c" stroke-width="1.6" />
<text x="1250.54" y="2551" font-size="24.5" text-anchor="middle">16</text>
<line x1="1328.1" y1="2510.5" x2="1328.1" y2="2522.5" stroke="#1c1c1c" stroke-width="1.6" />
<text x="1328.1" y="2551" font-size="24.5" text-anchor="middle">20</text>
<text x="1145" y="2589.7" font-size="26" text-anchor="middle" textLength="293" lengthAdjust="spacingAndGlyphs">Days after implantation</text>
<text x="1145" y="2034" font-size="26" text-anchor="middle" textLength="175" lengthAdjust="spacingAndGlyphs">Sham-surgery</text>
<text x="818" y="2287.8" font-size="26" text-anchor="middle" transform="rotate(-90 818 2287.8)" textLength="266" lengthAdjust="spacingAndGlyphs">Tumor volume (mm<tspan font-size="18" dy="-9">3</tspan><tspan dy="9">)</tspan></text>
<polyline points="940.3,2498.1 1076.03,2486.01 1134.2,2478.75 1192.37,2449.73 1250.54,2413.46 1308.71,2292.54" fill="none" stroke="#a9b9ca" stroke-width="3.6" stroke-linejoin="round" stroke-linecap="round" />
<circle cx="940.3" cy="2498.1" r="11.8" fill="#a9b9ca" />
<circle cx="1076.03" cy="2486.01" r="11.8" fill="#a9b9ca" />
<circle cx="1134.2" cy="2478.75" r="11.8" fill="#a9b9ca" />
<circle cx="1192.37" cy="2449.73" r="11.8" fill="#a9b9ca" />
<circle cx="1250.54" cy="2413.46" r="11.8" fill="#a9b9ca" />
<circle cx="1308.71" cy="2292.54" r="11.8" fill="#a9b9ca" />
<polyline points="940.3,2498.1 1076.03,2487.7 1134.2,2482.38 1192.37,2458.2 1250.54,2394.11 1308.71,2275.62" fill="none" stroke="#9a9a9a" stroke-width="3.6" stroke-linejoin="round" stroke-linecap="round" />
<circle cx="940.3" cy="2498.1" r="11.8" fill="#9a9a9a" />
<circle cx="1076.03" cy="2487.7" r="11.8" fill="#9a9a9a" />
<circle cx="1134.2" cy="2482.38" r="11.8" fill="#9a9a9a" />
<circle cx="1192.37" cy="2458.2" r="11.8" fill="#9a9a9a" />
<circle cx="1250.54" cy="2394.11" r="11.8" fill="#9a9a9a" />
<circle cx="1308.71" cy="2275.62" r="11.8" fill="#9a9a9a" />
<line x1="1308.71" y1="2198.23" x2="1308.71" y2="2351.79" stroke="#a0a0a0" stroke-width="1.6" />
<line x1="1297.71" y1="2198.23" x2="1319.71" y2="2198.23" stroke="#a0a0a0" stroke-width="1.6" />
<line x1="1297.71" y1="2351.79" x2="1319.71" y2="2351.79" stroke="#a0a0a0" stroke-width="1.6" />
<line x1="1308.71" y1="2255.06" x2="1308.71" y2="2328.82" stroke="#b4c3d2" stroke-width="1.6" />
<line x1="1297.71" y1="2255.06" x2="1319.71" y2="2255.06" stroke="#b4c3d2" stroke-width="1.6" />
<line x1="1297.71" y1="2328.82" x2="1319.71" y2="2328.82" stroke="#b4c3d2" stroke-width="1.6" />
<line x1="1250.54" y1="2350.58" x2="1250.54" y2="2437.64" stroke="#a0a0a0" stroke-width="1.6" />
<line x1="1239.54" y1="2350.58" x2="1261.54" y2="2350.58" stroke="#a0a0a0" stroke-width="1.6" />
<line x1="1239.54" y1="2437.64" x2="1261.54" y2="2437.64" stroke="#a0a0a0" stroke-width="1.6" />
<line x1="1192.37" y1="2436.43" x2="1192.37" y2="2471.5" stroke="#b4c3d2" stroke-width="1.6" />
<line x1="1181.37" y1="2436.43" x2="1203.37" y2="2436.43" stroke="#b4c3d2" stroke-width="1.6" />
<line x1="1181.37" y1="2471.5" x2="1203.37" y2="2471.5" stroke="#b4c3d2" stroke-width="1.6" />
<line x1="1308.71" y1="2432.81" x2="1308.71" y2="2498.1" stroke="#1a52bd" stroke-width="1.6" />
<line x1="1297.71" y1="2432.81" x2="1319.71" y2="2432.81" stroke="#1a52bd" stroke-width="1.6" />
<polyline points="940.3,2498.1 1076.03,2482.38 1134.2,2486.01 1192.37,2489.64 1250.54,2486.01 1308.71,2465.45" fill="none" stroke="#1a52bd" stroke-width="3.6" stroke-linejoin="round" stroke-linecap="round" />
<circle cx="940.3" cy="2498.1" r="11.8" fill="#1a52bd" />
<circle cx="1076.03" cy="2482.38" r="11.8" fill="#1a52bd" />
<circle cx="1134.2" cy="2486.01" r="11.8" fill="#1a52bd" />
<circle cx="1192.37" cy="2489.64" r="11.8" fill="#1a52bd" />
<circle cx="1250.54" cy="2486.01" r="11.8" fill="#1a52bd" />
<circle cx="1308.71" cy="2465.45" r="11.8" fill="#1a52bd" />
<polyline points="940.3,2498.1 1076.03,2481.17 1134.2,2484.8 1192.37,2484.8 1250.54,2498.1 1308.71,2498.1" fill="none" stroke="#c8222a" stroke-width="3.6" stroke-linejoin="round" stroke-linecap="round" />
<circle cx="940.3" cy="2498.1" r="11.8" fill="#c8222a" />
<circle cx="1076.03" cy="2481.17" r="11.8" fill="#c8222a" />
<circle cx="1134.2" cy="2484.8" r="11.8" fill="#c8222a" />
<circle cx="1192.37" cy="2484.8" r="11.8" fill="#c8222a" />
<circle cx="1250.54" cy="2498.1" r="11.8" fill="#c8222a" />
<circle cx="1308.71" cy="2498.1" r="11.8" fill="#c8222a" />
<line x1="939.4" y1="2081.1" x2="978.4" y2="2081.1" stroke="#9a9a9a" stroke-width="3.6" stroke-linecap="round"/>
<circle cx="958.7" cy="2081.1" r="11.8" fill="#9a9a9a" />
<text x="993.9" y="2090.6" font-size="26" textLength="64" lengthAdjust="spacingAndGlyphs">mEry</text>
<line x1="939.4" y1="2129.1" x2="978.4" y2="2129.1" stroke="#a9b9ca" stroke-width="3.6" stroke-linecap="round"/>
<circle cx="958.7" cy="2129.1" r="11.8" fill="#a9b9ca" />
<text x="993.9" y="2138.6" font-size="26" textLength="134" lengthAdjust="spacingAndGlyphs">IgG4-mEry</text>
<line x1="939.4" y1="2177.1" x2="978.4" y2="2177.1" stroke="#1a52bd" stroke-width="3.6" stroke-linecap="round"/>
<circle cx="958.7" cy="2177.1" r="11.8" fill="#1a52bd" />
<text x="993.9" y="2186.6" font-size="26" textLength="103.5" lengthAdjust="spacingAndGlyphs">Anti-PD1</text>
<line x1="939.4" y1="2225.8" x2="978.4" y2="2225.8" stroke="#c8222a" stroke-width="3.6" stroke-linecap="round"/>
<circle cx="958.7" cy="2225.8" r="11.8" fill="#c8222a" />
<text x="993.9" y="2235.3" font-size="26" textLength="134" lengthAdjust="spacingAndGlyphs">αPD1-mEry</text>
<text x="981.9" y="2374.6" font-size="26" textLength="184.7" lengthAdjust="spacingAndGlyphs">First treatment</text>
<line x1="1074.6" y1="2387" x2="1074.6" y2="2452" stroke="#3d4f66" stroke-width="1.8" />
<path d="M1074.6,2460 L1069.4,2446 L1074.6,2450 L1079.8,2446 Z" fill="#3d4f66" />
<line x1="1346.9" y1="2248.6" x2="1346.9" y2="2459.7" stroke="#1c1c1c" stroke-width="1.6" />
<line x1="1394.8" y1="2248.6" x2="1394.8" y2="2510.5" stroke="#1c1c1c" stroke-width="1.6" />
<text x="1358" y="2353.8" font-size="26" textLength="112" lengthAdjust="spacingAndGlyphs" text-anchor="middle" transform="rotate(90 1359 2353.8)"><tspan font-style="italic">P</tspan> &lt; 0.0001</text>
<text x="1404.5" y="2379.8" font-size="26" textLength="114" lengthAdjust="spacingAndGlyphs" text-anchor="middle" transform="rotate(90 1405 2379.8)"><tspan font-style="italic">P</tspan> &lt; 0.0001</text>
<text x="1540" y="2022" font-size="40" fill="#000" font-weight="bold">l</text>
<line x1="1681.2" y1="2063.3" x2="1681.2" y2="2509.9" stroke="#1c1c1c" stroke-width="1.6" />
<line x1="1668.7" y1="2498.1" x2="1681.2" y2="2498.1" stroke="#1c1c1c" stroke-width="1.6" />
<text x="1655" y="2506.43" font-size="24.5" text-anchor="end">0</text>
<line x1="1668.7" y1="2353.32" x2="1681.2" y2="2353.32" stroke="#1c1c1c" stroke-width="1.6" />
<text x="1655" y="2361.65" font-size="24.5" text-anchor="end">600</text>
<line x1="1668.7" y1="2208.54" x2="1681.2" y2="2208.54" stroke="#1c1c1c" stroke-width="1.6" />
<text x="1655" y="2216.87" font-size="24.5" text-anchor="end">1,200</text>
<line x1="1668.7" y1="2063.76" x2="1681.2" y2="2063.76" stroke="#1c1c1c" stroke-width="1.6" />
<text x="1655" y="2072.09" font-size="24.5" text-anchor="end">1,800</text>
<line x1="1681.2" y1="2509.9" x2="2129.3" y2="2509.9" stroke="#1c1c1c" stroke-width="1.6" />
<line x1="1700.1" y1="2509.9" x2="1700.1" y2="2521.9" stroke="#1c1c1c" stroke-width="1.6" />
<text x="1700.1" y="2550.6" font-size="24.5" text-anchor="middle">0</text>
<line x1="1777.74" y1="2509.9" x2="1777.74" y2="2521.9" stroke="#1c1c1c" stroke-width="1.6" />
<text x="1777.74" y="2550.6" font-size="24.5" text-anchor="middle">4</text>
<line x1="1855.38" y1="2509.9" x2="1855.38" y2="2521.9" stroke="#1c1c1c" stroke-width="1.6" />
<text x="1855.38" y="2550.6" font-size="24.5" text-anchor="middle">8</text>
<line x1="1933.02" y1="2509.9" x2="1933.02" y2="2521.9" stroke="#1c1c1c" stroke-width="1.6" />
<text x="1933.02" y="2550.6" font-size="24.5" text-anchor="middle">12</text>
<line x1="2010.66" y1="2509.9" x2="2010.66" y2="2521.9" stroke="#1c1c1c" stroke-width="1.6" />
<text x="2010.66" y="2550.6" font-size="24.5" text-anchor="middle">16</text>
<line x1="2088.3" y1="2509.9" x2="2088.3" y2="2521.9" stroke="#1c1c1c" stroke-width="1.6" />
<text x="2088.3" y="2550.6" font-size="24.5" text-anchor="middle">20</text>
<text x="1903.7" y="2588.5" font-size="26" text-anchor="middle" textLength="293" lengthAdjust="spacingAndGlyphs">Days after implantation</text>
<text x="1903.7" y="2030.3" font-size="26" text-anchor="middle" textLength="205" lengthAdjust="spacingAndGlyphs">Splenectomized</text>
<text x="1574.6" y="2286.6" font-size="26" text-anchor="middle" transform="rotate(-90 1574.6 2286.6)" textLength="266" lengthAdjust="spacingAndGlyphs">Tumor volume (mm<tspan font-size="18" dy="-9">3</tspan><tspan dy="9">)</tspan></text>
<polyline points="1700.1,2498.1 1835.97,2484.83 1894.2,2465.52 1952.43,2419.68 2010.66,2393.13 2068.89,2212.16" fill="none" stroke="#a9b9ca" stroke-width="3.6" stroke-linejoin="round" stroke-linecap="round" />
<circle cx="1700.1" cy="2498.1" r="11.8" fill="#a9b9ca" />
<circle cx="1835.97" cy="2484.83" r="11.8" fill="#a9b9ca" />
<circle cx="1894.2" cy="2465.52" r="11.8" fill="#a9b9ca" />
<circle cx="1952.43" cy="2419.68" r="11.8" fill="#a9b9ca" />
<circle cx="2010.66" cy="2393.13" r="11.8" fill="#a9b9ca" />
<circle cx="2068.89" cy="2212.16" r="11.8" fill="#a9b9ca" />
<polyline points="1700.1,2498.1 1835.97,2490.86 1894.2,2482.42 1952.43,2455.87 2010.66,2407.61 2068.89,2226.64" fill="none" stroke="#9a9a9a" stroke-width="3.6" stroke-linejoin="round" stroke-linecap="round" />
<circle cx="1700.1" cy="2498.1" r="11.8" fill="#9a9a9a" />
<circle cx="1835.97" cy="2490.86" r="11.8" fill="#9a9a9a" />
<circle cx="1894.2" cy="2482.42" r="11.8" fill="#9a9a9a" />
<circle cx="1952.43" cy="2455.87" r="11.8" fill="#9a9a9a" />
<circle cx="2010.66" cy="2407.61" r="11.8" fill="#9a9a9a" />
<circle cx="2068.89" cy="2226.64" r="11.8" fill="#9a9a9a" />
<line x1="2068.89" y1="2167.52" x2="2068.89" y2="2256.8" stroke="#b4c3d2" stroke-width="1.6" />
<line x1="2057.89" y1="2167.52" x2="2079.89" y2="2167.52" stroke="#b4c3d2" stroke-width="1.6" />
<line x1="2057.89" y1="2256.8" x2="2079.89" y2="2256.8" stroke="#b4c3d2" stroke-width="1.6" />
<line x1="2068.89" y1="2168.73" x2="2068.89" y2="2226.64" stroke="#a0a0a0" stroke-width="1.6" />
<line x1="2057.89" y1="2168.73" x2="2079.89" y2="2168.73" stroke="#a0a0a0" stroke-width="1.6" />
<line x1="2057.89" y1="2226.64" x2="2079.89" y2="2226.64" stroke="#a0a0a0" stroke-width="1.6" />
<line x1="2068.89" y1="2230.26" x2="2068.89" y2="2342.46" stroke="#d03a40" stroke-width="1.6" />
<line x1="2057.89" y1="2230.26" x2="2079.89" y2="2230.26" stroke="#d03a40" stroke-width="1.6" />
<line x1="2057.89" y1="2342.46" x2="2079.89" y2="2342.46" stroke="#d03a40" stroke-width="1.6" />
<line x1="2068.89" y1="2385.9" x2="2068.89" y2="2432.95" stroke="#2456b8" stroke-width="1.6" />
<line x1="2057.89" y1="2385.9" x2="2079.89" y2="2385.9" stroke="#2456b8" stroke-width="1.6" />
<line x1="2057.89" y1="2432.95" x2="2079.89" y2="2432.95" stroke="#2456b8" stroke-width="1.6" />
<line x1="2010.66" y1="2376.24" x2="2010.66" y2="2403.99" stroke="#b4c3d2" stroke-width="1.6" />
<line x1="1999.66" y1="2376.24" x2="2021.66" y2="2376.24" stroke="#b4c3d2" stroke-width="1.6" />
<line x1="1999.66" y1="2403.99" x2="2021.66" y2="2403.99" stroke="#b4c3d2" stroke-width="1.6" />
<line x1="2010.66" y1="2406.41" x2="2010.66" y2="2446.22" stroke="#d03a40" stroke-width="1.6" />
<line x1="1999.66" y1="2406.41" x2="2021.66" y2="2406.41" stroke="#d03a40" stroke-width="1.6" />
<line x1="1999.66" y1="2446.22" x2="2021.66" y2="2446.22" stroke="#d03a40" stroke-width="1.6" />
<line x1="1952.43" y1="2401.58" x2="1952.43" y2="2437.78" stroke="#b4c3d2" stroke-width="1.6" />
<line x1="1941.43" y1="2401.58" x2="1963.43" y2="2401.58" stroke="#b4c3d2" stroke-width="1.6" />
<line x1="1941.43" y1="2437.78" x2="1963.43" y2="2437.78" stroke="#b4c3d2" stroke-width="1.6" />
<polyline points="1700.1,2498.1 1835.97,2493.27 1894.2,2488.45 1952.43,2464.32 2010.66,2460.7 2068.89,2410.03" fill="none" stroke="#1a52bd" stroke-width="3.6" stroke-linejoin="round" stroke-linecap="round" />
<circle cx="1700.1" cy="2498.1" r="11.8" fill="#1a52bd" />
<circle cx="1835.97" cy="2493.27" r="11.8" fill="#1a52bd" />
<circle cx="1894.2" cy="2488.45" r="11.8" fill="#1a52bd" />
<circle cx="1952.43" cy="2464.32" r="11.8" fill="#1a52bd" />
<circle cx="2010.66" cy="2460.7" r="11.8" fill="#1a52bd" />
<circle cx="2068.89" cy="2410.03" r="11.8" fill="#1a52bd" />
<polyline points="1700.1,2498.1 1835.97,2492.07 1894.2,2488.45 1952.43,2454.67 2010.66,2428.12 2068.89,2285.76" fill="none" stroke="#c8222a" stroke-width="3.6" stroke-linejoin="round" stroke-linecap="round" />
<circle cx="1700.1" cy="2498.1" r="11.8" fill="#c8222a" />
<circle cx="1835.97" cy="2492.07" r="11.8" fill="#c8222a" />
<circle cx="1894.2" cy="2488.45" r="11.8" fill="#c8222a" />
<circle cx="1952.43" cy="2454.67" r="11.8" fill="#c8222a" />
<circle cx="2010.66" cy="2428.12" r="11.8" fill="#c8222a" />
<circle cx="2068.89" cy="2285.76" r="11.8" fill="#c8222a" />
<line x1="1699.7" y1="2081.5" x2="1738.5" y2="2081.5" stroke="#9a9a9a" stroke-width="3.6" stroke-linecap="round"/>
<circle cx="1719.1" cy="2081.5" r="11.8" fill="#9a9a9a" />
<text x="1754.4" y="2091" font-size="26" textLength="64" lengthAdjust="spacingAndGlyphs">mEry</text>
<line x1="1699.7" y1="2129" x2="1738.5" y2="2129" stroke="#a9b9ca" stroke-width="3.6" stroke-linecap="round"/>
<circle cx="1719.1" cy="2129" r="11.8" fill="#a9b9ca" />
<text x="1754.4" y="2138.5" font-size="26" textLength="134" lengthAdjust="spacingAndGlyphs">IgG4-mEry</text>
<line x1="1699.7" y1="2176.5" x2="1738.5" y2="2176.5" stroke="#1a52bd" stroke-width="3.6" stroke-linecap="round"/>
<circle cx="1719.1" cy="2176.5" r="11.8" fill="#1a52bd" />
<text x="1754.4" y="2186" font-size="26" textLength="103.5" lengthAdjust="spacingAndGlyphs">Anti-PD1</text>
<line x1="1699.7" y1="2225.8" x2="1738.5" y2="2225.8" stroke="#c8222a" stroke-width="3.6" stroke-linecap="round"/>
<circle cx="1719.1" cy="2225.8" r="11.8" fill="#c8222a" />
<text x="1754.4" y="2235.3" font-size="26" textLength="134" lengthAdjust="spacingAndGlyphs">αPD1-mEry</text>
<text x="1726.7" y="2385.4" font-size="26" textLength="184.7" lengthAdjust="spacingAndGlyphs">First treatment</text>
<line x1="1819" y1="2400.5" x2="1819" y2="2463" stroke="#3d4f66" stroke-width="1.8" />
<path d="M1819,2471 L1813.8,2457 L1819,2461 L1824.2,2457 Z" fill="#3d4f66" />
<line x1="2090.6" y1="2222" x2="2090.6" y2="2296" stroke="#1c1c1c" stroke-width="1.6" />
<line x1="2135" y1="2222" x2="2135" y2="2417.6" stroke="#1c1c1c" stroke-width="1.6" />
<text x="2097" y="2259.3" font-size="24" text-anchor="middle" textLength="30" lengthAdjust="spacingAndGlyphs" transform="rotate(90 2097 2259.3)">NS</text>
<text x="2144.5" y="2318.9" font-size="26" textLength="118" lengthAdjust="spacingAndGlyphs" text-anchor="middle" transform="rotate(90 2145 2318.9)"><tspan font-style="italic">P</tspan> &lt; 0.0001</text>
<text x="1603" y="29.5" font-size="40" fill="#000" font-weight="bold">d</text>
<defs>
<radialGradient id="bf1" cx="0.5" cy="0.5" r="0.5">
 <stop offset="0" stop-color="#858585"/><stop offset="0.45" stop-color="#909090"/>
 <stop offset="0.68" stop-color="#c8c8c8"/><stop offset="0.78" stop-color="#bdbdbd"/>
 <stop offset="0.88" stop-color="#323232"/><stop offset="0.95" stop-color="#636363"/><stop offset="1" stop-color="#9e9e9e"/>
</radialGradient>
<radialGradient id="bf2" cx="0.5" cy="0.5" r="0.5">
 <stop offset="0" stop-color="#1a1a1a"/><stop offset="0.2" stop-color="#2a2a2a"/>
 <stop offset="0.36" stop-color="#f5f5f5"/><stop offset="0.62" stop-color="#eeeeee"/>
 <stop offset="0.76" stop-color="#1a1a1a"/><stop offset="0.9" stop-color="#4a4a4a"/><stop offset="1" stop-color="#9e9e9e"/>
</radialGradient>
<radialGradient id="gC" cx="0.5" cy="0.5" r="0.5">
 <stop offset="0" stop-color="#22a022"/><stop offset="0.6" stop-color="#1e9a1e"/><stop offset="0.82" stop-color="#128012"/><stop offset="1" stop-color="#000" stop-opacity="0"/>
</radialGradient>
<radialGradient id="rC" cx="0.5" cy="0.5" r="0.5">
 <stop offset="0" stop-color="#e01212"/><stop offset="0.55" stop-color="#d41010"/><stop offset="0.75" stop-color="#ec1c1c"/><stop offset="0.9" stop-color="#900808"/><stop offset="1" stop-color="#000" stop-opacity="0"/>
</radialGradient>
<radialGradient id="mC" cx="0.5" cy="0.5" r="0.5">
 <stop offset="0" stop-color="#b8a424"/><stop offset="0.45" stop-color="#c89a22"/><stop offset="0.7" stop-color="#d87418"/><stop offset="0.88" stop-color="#c05010"/><stop offset="1" stop-color="#000" stop-opacity="0"/>
</radialGradient>
<filter id="blur1" x="-50%" y="-50%" width="200%" height="200%"><feGaussianBlur stdDeviation="1.6"/></filter>
<filter id="blur05" x="-50%" y="-50%" width="200%" height="200%"><feGaussianBlur stdDeviation="0.8"/></filter>
</defs>
<rect x="1638.3" y="88.7" width="123.4" height="153.6" fill="#9e9e9e" />
<rect x="1761.7" y="88.7" width="372.1" height="153.6" fill="#020202" />
<line x1="1638.3" y1="165.5" x2="1761.7" y2="165.5" stroke="#a8a8a8" stroke-width="1" />
<line x1="1638.3" y1="241.8" x2="1761.7" y2="241.8" stroke="#555" stroke-width="1" />
<rect x="1638.3" y="246.3" width="123.4" height="150.1" fill="#9e9e9e" />
<rect x="1761.7" y="246.3" width="372.1" height="150.1" fill="#020202" />
<line x1="1638.3" y1="321.35" x2="1761.7" y2="321.35" stroke="#a8a8a8" stroke-width="1" />
<line x1="1638.3" y1="395.9" x2="1761.7" y2="395.9" stroke="#555" stroke-width="1" />
<rect x="1638.3" y="401.3" width="123.4" height="151.4" fill="#9e9e9e" />
<rect x="1761.7" y="401.3" width="372.1" height="151.4" fill="#020202" />
<line x1="1638.3" y1="477" x2="1761.7" y2="477" stroke="#a8a8a8" stroke-width="1" />
<line x1="1638.3" y1="552.2" x2="1761.7" y2="552.2" stroke="#555" stroke-width="1" />
<rect x="1885.7" y="246.3" width="124" height="150.1" fill="#0d0101" />
<rect x="2009.7" y="246.3" width="124" height="150.1" fill="#0c0101" />
<rect x="1885.7" y="401.3" width="124" height="151.4" fill="#0d0101" />
<rect x="2009.7" y="401.3" width="124" height="151.4" fill="#0c0101" />
<ellipse cx="1704.3" cy="126.4" rx="15.5" ry="16.5" fill="url(#bf1)" filter="url(#blur05)"/>
<ellipse cx="1699.4" cy="201" rx="15" ry="14" fill="url(#bf2)" filter="url(#blur05)"/>
<ellipse cx="1704.3" cy="283" rx="14.5" ry="16.5" fill="url(#bf1)" filter="url(#blur05)"/>
<ellipse cx="1706.6" cy="354.6" rx="16" ry="15.5" fill="url(#bf2)" filter="url(#blur05)"/>
<ellipse cx="1701" cy="436.1" rx="16.5" ry="17" fill="url(#bf1)" filter="url(#blur05)"/>
<ellipse cx="1701" cy="507.4" rx="15.5" ry="16.5" fill="url(#bf1)" filter="url(#blur05)"/>
<ellipse cx="1821.5" cy="283" rx="15" ry="16" fill="url(#gC)" filter="url(#blur1)"/>
<ellipse cx="1828.7" cy="353" rx="15" ry="16" fill="url(#gC)" filter="url(#blur1)"/>
<ellipse cx="1822.5" cy="436.1" rx="15" ry="16" fill="url(#gC)" filter="url(#blur1)"/>
<ellipse cx="1819.9" cy="507.4" rx="15" ry="16" fill="url(#gC)" filter="url(#blur1)"/>
<ellipse cx="1953.8" cy="124.8" rx="15" ry="15.5" fill="url(#rC)" filter="url(#blur1)"/>
<ellipse cx="1941.4" cy="196" rx="15" ry="15.5" fill="url(#rC)" filter="url(#blur1)"/>
<ellipse cx="1954.5" cy="280.8" rx="15" ry="15.5" fill="url(#rC)" filter="url(#blur1)"/>
<ellipse cx="1950.2" cy="351.4" rx="15" ry="15.5" fill="url(#rC)" filter="url(#blur1)"/>
<ellipse cx="1944" cy="432.8" rx="15" ry="15.5" fill="url(#rC)" filter="url(#blur1)"/>
<ellipse cx="1946.3" cy="507.4" rx="15" ry="15.5" fill="url(#rC)" filter="url(#blur1)"/>
<ellipse cx="2078.3" cy="124.8" rx="15" ry="15.5" fill="url(#rC)" filter="url(#blur1)"/>
<ellipse cx="2065.2" cy="196" rx="15" ry="15.5" fill="url(#rC)" filter="url(#blur1)"/>
<ellipse cx="2071.5" cy="283.9" rx="14.5" ry="15.5" fill="#1c9c1c" filter="url(#blur1)"/>
<ellipse cx="2073.7" cy="281.9" rx="14" ry="15" fill="url(#mC)" filter="url(#blur1)"/>
<ellipse cx="2071.5" cy="354.5" rx="14.5" ry="15.5" fill="#1c9c1c" filter="url(#blur1)"/>
<ellipse cx="2073.7" cy="352.5" rx="14" ry="15" fill="url(#mC)" filter="url(#blur1)"/>
<ellipse cx="2070.8" cy="436.6" rx="14.5" ry="15.5" fill="#1c9c1c" filter="url(#blur1)"/>
<ellipse cx="2073" cy="434.6" rx="14" ry="15" fill="url(#mC)" filter="url(#blur1)"/>
<ellipse cx="2065" cy="508.9" rx="14.5" ry="15.5" fill="#1c9c1c" filter="url(#blur1)"/>
<ellipse cx="2067.2" cy="506.9" rx="14" ry="15" fill="url(#mC)" filter="url(#blur1)"/>
<rect x="1654" y="538.3" width="36" height="7.5" fill="#fff" />
<text x="1695.7" y="546" font-size="22" fill="#fff" textLength="58" lengthAdjust="spacingAndGlyphs">10 µm</text>
<text x="1700" y="65.7" font-size="25" text-anchor="middle">BF</text>
<text x="1823.8" y="49.3" font-size="25.5" text-anchor="middle" fill="#1f8a1f" textLength="141.5" lengthAdjust="spacingAndGlyphs">Human IgG</text>
<text x="1823.8" y="80.5" font-size="25.5" text-anchor="middle" fill="#1f8a1f">–FITC</text>
<text x="1948" y="49.3" font-size="25.5" text-anchor="middle" fill="#d81b1b" textLength="85.4" lengthAdjust="spacingAndGlyphs">Ter-119</text>
<text x="1948" y="80.5" font-size="25.5" text-anchor="middle" fill="#d81b1b">–APC</text>
<text x="2071" y="65.7" font-size="25.5" text-anchor="middle" fill="#c6701e" textLength="95.2" lengthAdjust="spacingAndGlyphs">Merged</text>
<text x="1627" y="165.8" font-size="26" text-anchor="middle" transform="rotate(-90 1627 165.8)" textLength="61.5" lengthAdjust="spacingAndGlyphs">mEry</text>
<text x="1627" y="323.5" font-size="26" text-anchor="middle" transform="rotate(-90 1627 323.5)" textLength="134" lengthAdjust="spacingAndGlyphs">IgG4-mEry</text>
<text x="1627" y="476" font-size="26" text-anchor="middle" transform="rotate(-90 1627 476)" textLength="133" lengthAdjust="spacingAndGlyphs">αPD1-mEry</text>
<text x="0.5" y="29.5" font-size="40" fill="#000" font-weight="bold">a</text>
<g transform="translate(126.3 316.5) scale(1)"><rect x="-9.6" y="-33.2" width="8.4" height="15.8" rx="1.6" fill="#3572b0" stroke="#284d96" stroke-width="0.9"/><rect x="-9.6" y="-17.4" width="8.4" height="17.2" rx="1.6" fill="#3572b0" stroke="#284d96" stroke-width="0.9"/><rect x="1.3" y="-33.2" width="8.4" height="15.8" rx="1.6" fill="#3572b0" stroke="#284d96" stroke-width="0.9"/><rect x="1.3" y="-17.4" width="8.4" height="17.2" rx="1.6" fill="#3572b0" stroke="#284d96" stroke-width="0.9"/><path d="M-5.4,-33.2 V-39.5 Q-5.6,-43.5 -8.3,-46.5 M5.4,-33.2 V-39.5 Q5.6,-43.5 8.3,-46.5 M-5.4,-37 H5.4 M-5.4,-39.6 H5.4" stroke="#284d96" stroke-width="0.9" fill="none"/><g transform="translate(-8.3 -46.8) rotate(-33.5)"><rect x="-3.7" y="-32.2" width="7.4" height="16" rx="1.6" fill="#3572b0" stroke="#1f4590" stroke-width="1.1"/><rect x="-3.7" y="-16.2" width="7.4" height="16.2" rx="1.6" fill="#4170b6" stroke="#1f4590" stroke-width="1.1"/><rect x="-13.2" y="-29.8" width="7.4" height="16" rx="1.6" fill="#3572b0" stroke="#0e2a1c" stroke-width="1.3"/><rect x="-13.2" y="-13.8" width="7.4" height="16.2" rx="1.6" fill="#3572b0" stroke="#0e2a1c" stroke-width="1.3"/></g><g transform="translate(8.3 -46.8) rotate(33.5)"><rect x="-3.7" y="-32.2" width="7.4" height="16" rx="1.6" fill="#3572b0" stroke="#1f4590" stroke-width="1.1"/><rect x="-3.7" y="-16.2" width="7.4" height="16.2" rx="1.6" fill="#4170b6" stroke="#1f4590" stroke-width="1.1"/><rect x="5.8" y="-29.8" width="7.4" height="16" rx="1.6" fill="#3572b0" stroke="#0e2a1c" stroke-width="1.3"/><rect x="5.8" y="-13.8" width="7.4" height="16.2" rx="1.6" fill="#3572b0" stroke="#0e2a1c" stroke-width="1.3"/></g></g>
<g transform="translate(262 118.7) scale(1)"><rect x="-9.6" y="-33.2" width="8.4" height="15.8" rx="1.6" fill="#3572b0" stroke="#284d96" stroke-width="0.9"/><rect x="-9.6" y="-17.4" width="8.4" height="17.2" rx="1.6" fill="#3572b0" stroke="#284d96" stroke-width="0.9"/><rect x="1.3" y="-33.2" width="8.4" height="15.8" rx="1.6" fill="#3572b0" stroke="#284d96" stroke-width="0.9"/><rect x="1.3" y="-17.4" width="8.4" height="17.2" rx="1.6" fill="#3572b0" stroke="#284d96" stroke-width="0.9"/><path d="M-5.4,-33.2 V-39.5 Q-5.6,-43.5 -8.3,-46.5 M5.4,-33.2 V-39.5 Q5.6,-43.5 8.3,-46.5 M-5.4,-37 H5.4 M-5.4,-39.6 H5.4" stroke="#284d96" stroke-width="0.9" fill="none"/><g transform="translate(-8.3 -46.8) rotate(-33.5)"><rect x="-3.7" y="-32.2" width="7.4" height="16" rx="1.6" fill="#3572b0" stroke="#1f4590" stroke-width="1.1"/><rect x="-3.7" y="-16.2" width="7.4" height="16.2" rx="1.6" fill="#4170b6" stroke="#1f4590" stroke-width="1.1"/><rect x="-13.2" y="-29.8" width="7.4" height="16" rx="1.6" fill="#3572b0" stroke="#0e2a1c" stroke-width="1.3"/><rect x="-13.2" y="-13.8" width="7.4" height="16.2" rx="1.6" fill="#3572b0" stroke="#0e2a1c" stroke-width="1.3"/></g><g transform="translate(8.3 -46.8) rotate(33.5)"><rect x="-3.7" y="-32.2" width="7.4" height="16" rx="1.6" fill="#3572b0" stroke="#1f4590" stroke-width="1.1"/><rect x="-3.7" y="-16.2" width="7.4" height="16.2" rx="1.6" fill="#4170b6" stroke="#1f4590" stroke-width="1.1"/><rect x="5.8" y="-29.8" width="7.4" height="16" rx="1.6" fill="#3572b0" stroke="#0e2a1c" stroke-width="1.3"/><rect x="5.8" y="-13.8" width="7.4" height="16.2" rx="1.6" fill="#3572b0" stroke="#0e2a1c" stroke-width="1.3"/></g></g>
<g transform="translate(334 341.1) scale(1)"><rect x="-9.6" y="-33.2" width="8.4" height="15.8" rx="1.6" fill="#3572b0" stroke="#284d96" stroke-width="0.9"/><rect x="-9.6" y="-17.4" width="8.4" height="17.2" rx="1.6" fill="#3572b0" stroke="#284d96" stroke-width="0.9"/><rect x="1.3" y="-33.2" width="8.4" height="15.8" rx="1.6" fill="#3572b0" stroke="#284d96" stroke-width="0.9"/><rect x="1.3" y="-17.4" width="8.4" height="17.2" rx="1.6" fill="#3572b0" stroke="#284d96" stroke-width="0.9"/><path d="M-5.4,-33.2 V-39.5 Q-5.6,-43.5 -8.3,-46.5 M5.4,-33.2 V-39.5 Q5.6,-43.5 8.3,-46.5 M-5.4,-37 H5.4 M-5.4,-39.6 H5.4" stroke="#284d96" stroke-width="0.9" fill="none"/><g transform="translate(-8.3 -46.8) rotate(-33.5)"><rect x="-3.7" y="-32.2" width="7.4" height="16" rx="1.6" fill="#3572b0" stroke="#1f4590" stroke-width="1.1"/><rect x="-3.7" y="-16.2" width="7.4" height="16.2" rx="1.6" fill="#4170b6" stroke="#1f4590" stroke-width="1.1"/><rect x="-13.2" y="-29.8" width="7.4" height="16" rx="1.6" fill="#3572b0" stroke="#0e2a1c" stroke-width="1.3"/><rect x="-13.2" y="-13.8" width="7.4" height="16.2" rx="1.6" fill="#3572b0" stroke="#0e2a1c" stroke-width="1.3"/></g><g transform="translate(8.3 -46.8) rotate(33.5)"><rect x="-3.7" y="-32.2" width="7.4" height="16" rx="1.6" fill="#3572b0" stroke="#1f4590" stroke-width="1.1"/><rect x="-3.7" y="-16.2" width="7.4" height="16.2" rx="1.6" fill="#4170b6" stroke="#1f4590" stroke-width="1.1"/><rect x="5.8" y="-29.8" width="7.4" height="16" rx="1.6" fill="#3572b0" stroke="#0e2a1c" stroke-width="1.3"/><rect x="5.8" y="-13.8" width="7.4" height="16.2" rx="1.6" fill="#3572b0" stroke="#0e2a1c" stroke-width="1.3"/></g></g>
<defs>
<linearGradient id="ga1" gradientUnits="userSpaceOnUse" x1="128" y1="232" x2="200" y2="95"><stop offset="0" stop-color="#3d4f66" stop-opacity="0.02"/><stop offset="0.45" stop-color="#3d4f66" stop-opacity="0.75"/><stop offset="1" stop-color="#3d4f66"/></linearGradient>
<linearGradient id="ga2" gradientUnits="userSpaceOnUse" x1="290" y1="112" x2="330" y2="250"><stop offset="0" stop-color="#3d4f66" stop-opacity="0.02"/><stop offset="0.5" stop-color="#3d4f66" stop-opacity="0.8"/><stop offset="1" stop-color="#3d4f66"/></linearGradient>
<linearGradient id="ga3" gradientUnits="userSpaceOnUse" x1="318" y1="0" x2="490" y2="0"><stop offset="0" stop-color="#3d4f66" stop-opacity="0.05"/><stop offset="1" stop-color="#3d4f66"/></linearGradient>
</defs>
<path d="M130,235 C122,200 124,160 143,132 C160,108 190,95 222,91" fill="none" stroke="url(#ga1)" stroke-width="4.8" stroke-linecap="butt"/>
<path d="M234.6,89.5 L216.5,84 L220,91 L217.5,99 Z" fill="#3d4f66" />
<path d="M288.3,113 C320,130 350,160 352,198 C353,235 320,262 275,276" fill="none" stroke="url(#ga2)" stroke-width="4.8" />
<path d="M263.5,279.5 L279,268.5 L277.5,276 L282.5,283 Z" fill="#3d4f66" />
<path d="M318.5,401.4 L486,401.4" fill="none" stroke="url(#ga3)" stroke-width="3.4" />
<path d="M496,401.4 L482,395.5 L485,401.4 L482,407.3 Z" fill="#3d4f66" />
<circle cx="152.7" cy="174" r="12.2" fill="none" stroke="#111" stroke-width="1.3"/>
<text x="152.7" y="180.8" font-size="19" text-anchor="middle">1</text>
<circle cx="315.9" cy="198.6" r="12.2" fill="none" stroke="#111" stroke-width="1.3"/>
<text x="315.9" y="205.4" font-size="19" text-anchor="middle">2</text>
<circle cx="408.2" cy="384.5" r="12.2" fill="none" stroke="#111" stroke-width="1.3"/>
<text x="408.2" y="391.3" font-size="19" text-anchor="middle">3</text>
<path d="M85.48,433 Q84.2,450 82.72,466 M85.48,504 Q84.2,487 82.72,471 M89.32,433 Q90.6,450 92.08,466 M89.32,504 Q90.6,487 92.08,471 M103.58,433 Q102.3,450 100.82,466 M103.58,504 Q102.3,487 100.82,471 M107.42,433 Q108.7,450 110.18,466 M107.42,504 Q108.7,487 110.18,471 M123.58,433 Q122.3,450 120.82,466 M123.58,504 Q122.3,487 120.82,471 M127.42,433 Q128.7,450 130.18,466 M127.42,504 Q128.7,487 130.18,471 M141.28,433 Q140,450 138.52,466 M141.28,504 Q140,487 138.52,471 M145.12,433 Q146.4,450 147.88,466 M145.12,504 Q146.4,487 147.88,471 M159.38,433 Q158.1,450 156.62,466 M159.38,504 Q158.1,487 156.62,471 M163.22,433 Q164.5,450 165.98,466 M163.22,504 Q164.5,487 165.98,471 M175.28,433 Q174,450 172.52,466 M175.28,504 Q174,487 172.52,471 M179.12,433 Q180.4,450 181.88,466 M179.12,504 Q180.4,487 181.88,471 M192.98,433 Q191.7,450 190.22,466 M192.98,504 Q191.7,487 190.22,471 M196.82,433 Q198.1,450 199.58,466 M196.82,504 Q198.1,487 199.58,471 M209.88,433 Q208.6,450 207.12,466 M209.88,504 Q208.6,487 207.12,471 M213.72,433 Q215,450 216.48,466 M213.72,504 Q215,487 216.48,471 M226.88,433 Q225.6,450 224.12,466 M226.88,504 Q225.6,487 224.12,471 M230.72,433 Q232,450 233.48,466 M230.72,504 Q232,487 233.48,471 M243.88,433 Q242.6,450 241.12,466 M243.88,504 Q242.6,487 241.12,471 M247.72,433 Q249,450 250.48,466 M247.72,504 Q249,487 250.48,471 M277.38,433 Q276.1,450 274.62,466 M277.38,504 Q276.1,487 274.62,471 M281.22,433 Q282.5,450 283.98,466 M281.22,504 Q282.5,487 283.98,471 M294.18,433 Q292.9,450 291.42,466 M294.18,504 Q292.9,487 291.42,471 M298.02,433 Q299.3,450 300.78,466 M298.02,504 Q299.3,487 300.78,471 M310.98,433 Q309.7,450 308.22,466 M310.98,504 Q309.7,487 308.22,471 M314.82,433 Q316.1,450 317.58,466 M314.82,504 Q316.1,487 317.58,471 M327.78,433 Q326.5,450 325.02,466 M327.78,504 Q326.5,487 325.02,471 M331.62,433 Q332.9,450 334.38,466 M331.62,504 Q332.9,487 334.38,471 M344.58,433 Q343.3,450 341.82,466 M344.58,504 Q343.3,487 341.82,471 M348.42,433 Q349.7,450 351.18,466 M348.42,504 Q349.7,487 351.18,471 M361.38,433 Q360.1,450 358.62,466 M361.38,504 Q360.1,487 358.62,471 M365.22,433 Q366.5,450 367.98,466 M365.22,504 Q366.5,487 367.98,471 M378.18,433 Q376.9,450 375.42,466 M378.18,504 Q376.9,487 375.42,471 M382.02,433 Q383.3,450 384.78,466 M382.02,504 Q383.3,487 384.78,471 M394.98,433 Q393.7,450 392.22,466 M394.98,504 Q393.7,487 392.22,471 M398.82,433 Q400.1,450 401.58,466 M398.82,504 Q400.1,487 401.58,471 M411.78,433 Q410.5,450 409.02,466 M411.78,504 Q410.5,487 409.02,471 M415.62,433 Q416.9,450 418.38,466 M415.62,504 Q416.9,487 418.38,471 M428.58,433 Q427.3,450 425.82,466 M428.58,504 Q427.3,487 425.82,471 M432.42,433 Q433.7,450 435.18,466 M432.42,504 Q433.7,487 435.18,471 M445.38,433 Q444.1,450 442.62,466 M445.38,504 Q444.1,487 442.62,471 M449.22,433 Q450.5,450 451.98,466 M449.22,504 Q450.5,487 451.98,471 M462.18,433 Q460.9,450 459.42,466 M462.18,504 Q460.9,487 459.42,471 M466.02,433 Q467.3,450 468.78,466 M466.02,504 Q467.3,487 468.78,471 M478.98,433 Q477.7,450 476.22,466 M478.98,504 Q477.7,487 476.22,471 M482.82,433 Q484.1,450 485.58,466 M482.82,504 Q484.1,487 485.58,471 M495.78,433 Q494.5,450 493.02,466 M495.78,504 Q494.5,487 493.02,471 M499.62,433 Q500.9,450 502.38,466 M499.62,504 Q500.9,487 502.38,471 M529.58,433 Q528.3,450 526.82,466 M529.58,504 Q528.3,487 526.82,471 M533.42,433 Q534.7,450 536.18,466 M533.42,504 Q534.7,487 536.18,471 M546.48,433 Q545.2,450 543.72,466 M546.48,504 Q545.2,487 543.72,471 M550.32,433 Q551.6,450 553.08,466 M550.32,504 Q551.6,487 553.08,471 M563.48,433 Q562.2,450 560.72,466 M563.48,504 Q562.2,487 560.72,471 M567.32,433 Q568.6,450 570.08,466 M567.32,504 Q568.6,487 570.08,471" fill="none" stroke="#cd7d7d" stroke-width="2.6" />
<circle cx="87.4" cy="425.3" r="8.3" fill="#a33b3a" />
<circle cx="87.4" cy="512.1" r="8.3" fill="#a33b3a" />
<circle cx="105.5" cy="425.3" r="8.3" fill="#a33b3a" />
<circle cx="105.5" cy="512.1" r="8.3" fill="#a33b3a" />
<circle cx="125.5" cy="425.3" r="8.3" fill="#a33b3a" />
<circle cx="125.5" cy="512.1" r="8.3" fill="#a33b3a" />
<circle cx="143.2" cy="425.3" r="8.3" fill="#a33b3a" />
<circle cx="143.2" cy="512.1" r="8.3" fill="#a33b3a" />
<circle cx="161.3" cy="425.3" r="8.3" fill="#a33b3a" />
<circle cx="161.3" cy="512.1" r="8.3" fill="#a33b3a" />
<circle cx="177.2" cy="425.3" r="8.3" fill="#a33b3a" />
<circle cx="177.2" cy="512.1" r="8.3" fill="#a33b3a" />
<circle cx="194.9" cy="425.3" r="8.3" fill="#a33b3a" />
<circle cx="194.9" cy="512.1" r="8.3" fill="#a33b3a" />
<circle cx="211.8" cy="425.3" r="8.3" fill="#a33b3a" />
<circle cx="211.8" cy="512.1" r="8.3" fill="#a33b3a" />
<circle cx="228.8" cy="425.3" r="8.3" fill="#a33b3a" />
<circle cx="228.8" cy="512.1" r="8.3" fill="#a33b3a" />
<circle cx="245.8" cy="425.3" r="8.3" fill="#a33b3a" />
<circle cx="245.8" cy="512.1" r="8.3" fill="#a33b3a" />
<circle cx="279.3" cy="425.3" r="8.3" fill="#a33b3a" />
<circle cx="279.3" cy="512.1" r="8.3" fill="#a33b3a" />
<circle cx="296.1" cy="425.3" r="8.3" fill="#a33b3a" />
<circle cx="296.1" cy="512.1" r="8.3" fill="#a33b3a" />
<circle cx="312.9" cy="425.3" r="8.3" fill="#a33b3a" />
<circle cx="312.9" cy="512.1" r="8.3" fill="#a33b3a" />
<circle cx="329.7" cy="425.3" r="8.3" fill="#a33b3a" />
<circle cx="329.7" cy="512.1" r="8.3" fill="#a33b3a" />
<circle cx="346.5" cy="425.3" r="8.3" fill="#a33b3a" />
<circle cx="346.5" cy="512.1" r="8.3" fill="#a33b3a" />
<circle cx="363.3" cy="425.3" r="8.3" fill="#a33b3a" />
<circle cx="363.3" cy="512.1" r="8.3" fill="#a33b3a" />
<circle cx="380.1" cy="425.3" r="8.3" fill="#a33b3a" />
<circle cx="380.1" cy="512.1" r="8.3" fill="#a33b3a" />
<circle cx="396.9" cy="425.3" r="8.3" fill="#a33b3a" />
<circle cx="396.9" cy="512.1" r="8.3" fill="#a33b3a" />
<circle cx="413.7" cy="425.3" r="8.3" fill="#a33b3a" />
<circle cx="413.7" cy="512.1" r="8.3" fill="#a33b3a" />
<circle cx="430.5" cy="425.3" r="8.3" fill="#a33b3a" />
<circle cx="430.5" cy="512.1" r="8.3" fill="#a33b3a" />
<circle cx="447.3" cy="425.3" r="8.3" fill="#a33b3a" />
<circle cx="447.3" cy="512.1" r="8.3" fill="#a33b3a" />
<circle cx="464.1" cy="425.3" r="8.3" fill="#a33b3a" />
<circle cx="464.1" cy="512.1" r="8.3" fill="#a33b3a" />
<circle cx="480.9" cy="425.3" r="8.3" fill="#a33b3a" />
<circle cx="480.9" cy="512.1" r="8.3" fill="#a33b3a" />
<circle cx="497.7" cy="425.3" r="8.3" fill="#a33b3a" />
<circle cx="497.7" cy="512.1" r="8.3" fill="#a33b3a" />
<circle cx="531.5" cy="425.3" r="8.3" fill="#a33b3a" />
<circle cx="531.5" cy="512.1" r="8.3" fill="#a33b3a" />
<circle cx="548.4" cy="425.3" r="8.3" fill="#a33b3a" />
<circle cx="548.4" cy="512.1" r="8.3" fill="#a33b3a" />
<circle cx="565.4" cy="425.3" r="8.3" fill="#a33b3a" />
<circle cx="565.4" cy="512.1" r="8.3" fill="#a33b3a" />
<line x1="259.6" y1="414" x2="259.6" y2="534" stroke="#111" stroke-width="2" />
<circle cx="259.6" cy="414" r="2.6" fill="#111" />
<path d="M255,297.5 C256.04,296.41 259.6,294.87 262,294.8 C264.4,294.73 270.13,295.91 273,297 C275.87,298.09 281.3,300.73 283.5,303 C285.7,305.27 288.53,310.8 289.5,314 C290.47,317.2 291.07,323.6 290.8,327 C290.53,330.4 289.01,336.63 287.5,339.5 C285.99,342.37 282.1,346.79 279.5,348.5 C276.9,350.21 270.8,351.9 268,352.3 C265.2,352.7 260.34,352.34 258.5,351.5 C256.66,350.66 254.47,347.67 254.2,346 C253.93,344.33 255.33,340.29 256.5,339 C257.67,337.71 260.93,336.93 263,336.3 C265.07,335.67 269.97,335.54 272,334.3 C274.03,333.06 277.24,329.11 278.2,327 C279.16,324.89 279.63,320.42 279.2,318.5 C278.77,316.58 276.63,313.33 275,312.6 C273.37,311.87 269,312.79 267,313 C265,313.21 261.52,314.6 260,314.2 C258.48,313.8 256.37,311.49 255.6,310 C254.83,308.51 254.28,304.67 254.2,303 C254.12,301.33 253.96,298.59 255,297.5 Z" fill="#861a20" />
<path d="M255,355.8 C256.04,354.71 259.6,353.17 262,353.1 C264.4,353.03 270.13,354.21 273,355.3 C275.87,356.39 281.3,359.03 283.5,361.3 C285.7,363.57 288.53,369.1 289.5,372.3 C290.47,375.5 291.07,381.9 290.8,385.3 C290.53,388.7 289.01,394.93 287.5,397.8 C285.99,400.67 282.1,405.09 279.5,406.8 C276.9,408.51 270.8,410.2 268,410.6 C265.2,411 260.34,410.64 258.5,409.8 C256.66,408.96 254.47,405.97 254.2,404.3 C253.93,402.63 255.33,398.59 256.5,397.3 C257.67,396.01 260.93,395.23 263,394.6 C265.07,393.97 269.97,393.84 272,392.6 C274.03,391.36 277.24,387.41 278.2,385.3 C279.16,383.19 279.63,378.72 279.2,376.8 C278.77,374.88 276.63,371.63 275,370.9 C273.37,370.17 269,371.09 267,371.3 C265,371.51 261.52,372.9 260,372.5 C258.48,372.1 256.37,369.79 255.6,368.3 C254.83,366.81 254.28,362.97 254.2,361.3 C254.12,359.63 253.96,356.89 255,355.8 Z" fill="#861a20" />
<path d="M258.7,531.5 C259.52,531.31 261.6,532.15 262.5,534 C263.4,535.85 263.21,542.19 264.7,543.8 C266.19,545.4 270.46,543.67 272.4,544.7 C274.33,545.74 276.56,548.78 277.6,550.7 C278.64,552.62 278.54,555.96 279.3,557.5 C280.06,559.04 282.31,559.46 282.7,561 C283.09,562.54 282.66,566.27 281.9,567.8 C281.13,569.33 278.5,569.66 277.6,571.2 C276.7,572.75 276.94,575.77 275.9,578.1 C274.86,580.43 272.5,585.16 270.7,586.7 C268.9,588.25 266.21,588.53 263.9,588.4 C261.59,588.26 257.36,587.34 255.3,585.8 C253.25,584.25 251.1,580.8 250.2,578.1 C249.3,575.4 249.05,571.4 249.3,567.8 C249.56,564.2 251,557.7 251.9,554.1 C252.8,550.5 254.54,546.62 255.3,543.8 C256.06,540.98 256.49,537.14 257,535.3 C257.51,533.45 257.88,531.69 258.7,531.5 Z" fill="#861a20" />
<line x1="514.5" y1="414" x2="514.5" y2="534" stroke="#111" stroke-width="2" />
<circle cx="514.5" cy="414" r="2.6" fill="#111" />
<path d="M509.9,297.5 C510.94,296.41 514.5,294.87 516.9,294.8 C519.3,294.73 525.03,295.91 527.9,297 C530.77,298.09 536.2,300.73 538.4,303 C540.6,305.27 543.43,310.8 544.4,314 C545.37,317.2 545.97,323.6 545.7,327 C545.43,330.4 543.91,336.63 542.4,339.5 C540.89,342.37 537,346.79 534.4,348.5 C531.8,350.21 525.7,351.9 522.9,352.3 C520.1,352.7 515.24,352.34 513.4,351.5 C511.56,350.66 509.37,347.67 509.1,346 C508.83,344.33 510.23,340.29 511.4,339 C512.57,337.71 515.83,336.93 517.9,336.3 C519.97,335.67 524.87,335.54 526.9,334.3 C528.93,333.06 532.14,329.11 533.1,327 C534.06,324.89 534.53,320.42 534.1,318.5 C533.67,316.58 531.53,313.33 529.9,312.6 C528.27,311.87 523.9,312.79 521.9,313 C519.9,313.21 516.42,314.6 514.9,314.2 C513.38,313.8 511.27,311.49 510.5,310 C509.73,308.51 509.18,304.67 509.1,303 C509.02,301.33 508.86,298.59 509.9,297.5 Z" fill="#861a20" />
<path d="M509.9,355.8 C510.94,354.71 514.5,353.17 516.9,353.1 C519.3,353.03 525.03,354.21 527.9,355.3 C530.77,356.39 536.2,359.03 538.4,361.3 C540.6,363.57 543.43,369.1 544.4,372.3 C545.37,375.5 545.97,381.9 545.7,385.3 C545.43,388.7 543.91,394.93 542.4,397.8 C540.89,400.67 537,405.09 534.4,406.8 C531.8,408.51 525.7,410.2 522.9,410.6 C520.1,411 515.24,410.64 513.4,409.8 C511.56,408.96 509.37,405.97 509.1,404.3 C508.83,402.63 510.23,398.59 511.4,397.3 C512.57,396.01 515.83,395.23 517.9,394.6 C519.97,393.97 524.87,393.84 526.9,392.6 C528.93,391.36 532.14,387.41 533.1,385.3 C534.06,383.19 534.53,378.72 534.1,376.8 C533.67,374.88 531.53,371.63 529.9,370.9 C528.27,370.17 523.9,371.09 521.9,371.3 C519.9,371.51 516.42,372.9 514.9,372.5 C513.38,372.1 511.27,369.79 510.5,368.3 C509.73,366.81 509.18,362.97 509.1,361.3 C509.02,359.63 508.86,356.89 509.9,355.8 Z" fill="#861a20" />
<path d="M513.6,531.5 C514.43,531.31 516.5,532.15 517.4,534 C518.3,535.85 518.12,542.19 519.6,543.8 C521.09,545.4 525.37,543.67 527.3,544.7 C529.23,545.74 531.47,548.78 532.5,550.7 C533.53,552.62 533.44,555.96 534.2,557.5 C534.97,559.04 537.21,559.46 537.6,561 C537.99,562.54 537.56,566.27 536.8,567.8 C536.03,569.33 533.4,569.66 532.5,571.2 C531.6,572.75 531.83,575.77 530.8,578.1 C529.76,580.43 527.4,585.16 525.6,586.7 C523.8,588.25 521.11,588.53 518.8,588.4 C516.49,588.26 512.25,587.34 510.2,585.8 C508.15,584.25 506,580.8 505.1,578.1 C504.2,575.4 503.95,571.4 504.2,567.8 C504.46,564.2 505.9,557.7 506.8,554.1 C507.7,550.5 509.44,546.62 510.2,543.8 C510.97,540.98 511.39,537.14 511.9,535.3 C512.41,533.45 512.77,531.69 513.6,531.5 Z" fill="#861a20" />
<text x="219.3" y="316.8" font-size="13.5" textLength="18" lengthAdjust="spacingAndGlyphs">HS</text>
<line x1="242.5" y1="309.1" x2="254.5" y2="309.1" stroke="#222" stroke-width="1.3" />
<path d="M121.8,90.5 L122.6,80.6 L133.6,78.7" fill="none" stroke="#222" stroke-width="1" />
<path d="M139.7,88.6 L132.1,97.3 L124,94.5" fill="none" stroke="#222" stroke-width="1" />
<path d="M133.6,78.7 L139.7,88.6" fill="none" stroke="#222" stroke-width="1" />
<path d="M135.21,77.71 L141.31,87.61" fill="none" stroke="#222" stroke-width="1" />
<path d="M122.6,80.6 L115.5,76.3" fill="none" stroke="#222" stroke-width="1" />
<path d="M123.44,79.21 L116.34,74.91" fill="none" stroke="#222" stroke-width="1" />
<text x="113" y="77.92" font-size="9.5" text-anchor="middle" fill="#222">O</text>
<path d="M132.1,97.3 L134.3,106.5" fill="none" stroke="#222" stroke-width="1" />
<path d="M130.52,97.68 L132.72,106.88" fill="none" stroke="#222" stroke-width="1" />
<text x="135.1" y="112.52" font-size="9.5" text-anchor="middle" fill="#222">O</text>
<text x="121" y="96.56" font-size="8.5" text-anchor="middle" fill="#222">N</text>
<path d="M118.5,95.5 L111.1,99.2 L110.4,110.7" fill="none" stroke="#222" stroke-width="1" />
<path d="M110.4,110.7 L121.4,116.4 L121.4,127.8 L111.9,133.5 L100.5,127.8 L100.5,116.4 Z" fill="none" stroke="#222" stroke-width="1" />
<path d="M111.9,133.5 L110.8,146.1" fill="none" stroke="#222" stroke-width="1" />
<path d="M110.8,146.1 L118.5,150.5" fill="none" stroke="#222" stroke-width="1" />
<path d="M109.93,147.62 L117.63,152.02" fill="none" stroke="#222" stroke-width="1" />
<text x="120.7" y="155.22" font-size="9.5" text-anchor="middle" fill="#222">O</text>
<path d="M110.8,146.1 L103,150.2" fill="none" stroke="#222" stroke-width="1" />
<text x="100.5" y="154.82" font-size="9.5" text-anchor="middle" fill="#222">O</text>
<path d="M100.4,154.5 L100.2,161.5" fill="none" stroke="#222" stroke-width="1" />
<text x="100.1" y="167.66" font-size="8.5" text-anchor="middle" fill="#222">N</text>
<path d="M98,166 L92.1,169.7 L94.4,181.1 L106.6,181.1 L110.4,169.7 L102.5,165.8" fill="none" stroke="#222" stroke-width="1" />
<path d="M92.1,169.7 L83.5,165.8" fill="none" stroke="#222" stroke-width="1" />
<path d="M91.38,171.3 L82.78,167.4" fill="none" stroke="#222" stroke-width="1" />
<text x="81" y="168.92" font-size="9.5" text-anchor="middle" fill="#222">O</text>
<path d="M110.4,169.7 L119.5,166.8" fill="none" stroke="#222" stroke-width="1" />
<path d="M109.87,168.03 L118.97,165.13" fill="none" stroke="#222" stroke-width="1" />
<text x="122.2" y="170.12" font-size="9.5" text-anchor="middle" fill="#222">O</text>
<path d="M94.4,181.1 L90.2,188" fill="none" stroke="#222" stroke-width="1" />
<text x="87.5" y="195" font-size="9.5" fill="#222" transform="rotate(-60 87.5 195)">S</text>
<text x="83" y="201" font-size="9" fill="#222" transform="rotate(-60 83 201)">O₃</text>
<text x="76.5" y="212" font-size="8.5" fill="#222" transform="rotate(-60 76.5 212)">Na</text>
<circle cx="79.3" cy="188.7" r="3" fill="none" stroke="#222" stroke-width="0.7"/>
<circle cx="71.5" cy="201" r="3" fill="none" stroke="#222" stroke-width="0.7"/>
<path d="M283,80.8 L291.9,88.6" fill="none" stroke="#222" stroke-width="1.8" />
<text x="293.7" y="97.9" font-size="14.5" fill="#222" textLength="19" lengthAdjust="spacingAndGlyphs">NH</text>
<path d="M317.9,94.5 L323.8,99.3 L334.9,95.6" fill="none" stroke="#222" stroke-width="1" />
<path d="M323.8,99.3 L322.4,107.8" fill="none" stroke="#222" stroke-width="1" />
<path d="M322.07,99.01 L320.67,107.51" fill="none" stroke="#222" stroke-width="1" />
<text x="322" y="114.62" font-size="9.5" text-anchor="middle" fill="#222">O</text>
<path d="M334.9,95.6 L336.4,83.8 L347.2,79.2 L356.5,85.6 L355.7,98.2 L344.6,102.7 Z" fill="none" stroke="#222" stroke-width="1" />
<path d="M356.5,85.6 L366.9,82.3 L373.5,87" fill="none" stroke="#222" stroke-width="1" />
<text x="375.8" y="92.02" font-size="9.5" text-anchor="middle" fill="#222">N</text>
<path d="M378.5,87.6 L388.4,87.1 L394.3,95.6" fill="none" stroke="#222" stroke-width="1" />
<path d="M387.3,104.9 L376.5,101.6 L376.2,92" fill="none" stroke="#222" stroke-width="1" />
<path d="M394.3,95.6 L387.3,104.9" fill="none" stroke="#222" stroke-width="1" />
<path d="M392.79,94.46 L385.79,103.76" fill="none" stroke="#222" stroke-width="1" />
<path d="M388.4,87.1 L389.8,79.5" fill="none" stroke="#222" stroke-width="1" />
<path d="M390.13,87.42 L391.53,79.82" fill="none" stroke="#222" stroke-width="1" />
<text x="391" y="79.02" font-size="9.5" text-anchor="middle" fill="#222">O</text>
<path d="M376.5,101.6 L369.3,106" fill="none" stroke="#222" stroke-width="1" />
<path d="M375.58,100.1 L368.38,104.5" fill="none" stroke="#222" stroke-width="1" />
<text x="366.5" y="112.42" font-size="9.5" text-anchor="middle" fill="#222">O</text>
<path d="M353.9,302.8 L366.5,313.5" fill="none" stroke="#222" stroke-width="1.8" />
<text x="368.9" y="321.2" font-size="13.5" fill="#222" textLength="19.9" lengthAdjust="spacingAndGlyphs">NH</text>
<path d="M393.7,315.4 L401.5,319.3 L413.1,312" fill="none" stroke="#222" stroke-width="1" />
<path d="M401.5,319.3 L402,328" fill="none" stroke="#222" stroke-width="1" />
<path d="M399.75,319.4 L400.25,328.1" fill="none" stroke="#222" stroke-width="1" />
<text x="402" y="336.32" font-size="9.5" text-anchor="middle" fill="#222">O</text>
<path d="M413.1,312 L412.1,297.9 L422.3,290.2 L435.4,295.5 L436.4,309.6 L425.7,316.9 Z" fill="none" stroke="#222" stroke-width="1" />
<path d="M435.4,295.5 L446.6,288.2 L455.5,291" fill="none" stroke="#222" stroke-width="1" />
<text x="457.8" y="296.42" font-size="9.5" text-anchor="middle" fill="#222">N</text>
<path d="M460.5,290.5 L471.8,287.7 L481.1,296 L476.2,308.6 L461.2,307.6 L459.8,297" fill="none" stroke="#222" stroke-width="1" />
<path d="M471.8,287.7 L471.8,278.5" fill="none" stroke="#222" stroke-width="1" />
<path d="M473.56,287.7 L473.56,278.5" fill="none" stroke="#222" stroke-width="1" />
<text x="471.4" y="278.02" font-size="9.5" text-anchor="middle" fill="#222">O</text>
<path d="M461.2,307.6 L455.8,313.5" fill="none" stroke="#222" stroke-width="1" />
<path d="M459.91,306.42 L454.51,312.32" fill="none" stroke="#222" stroke-width="1" />
<text x="452.9" y="320.72" font-size="9.5" text-anchor="middle" fill="#222">O</text>
<path d="M481.1,296 L484.5,304.5 L486.8,303.4 Z" fill="#222" stroke="#222" stroke-width="0.8" />
<text x="485.5" y="317.8" font-size="14.8" fill="#222">S</text>
<path d="M496.6,309.1 L508.3,308.6" fill="none" stroke="#222" stroke-width="1.3" />
<text x="0.9" y="144" font-size="26" textLength="77.3" lengthAdjust="spacingAndGlyphs">SMCC</text>
<text x="356.2" y="139.5" font-size="26" textLength="150.8" lengthAdjust="spacingAndGlyphs">αPD1-SMCC</text>
<text x="68.6" y="354" font-size="26" textLength="102.8" lengthAdjust="spacingAndGlyphs">Anti-PD1</text>
<text x="382.6" y="254.6" font-size="26" textLength="109.3" lengthAdjust="spacingAndGlyphs">αPD1-Ery</text>
<text x="81.4" y="556.7" font-size="26" textLength="133.6" lengthAdjust="spacingAndGlyphs">Membrane</text>
<text x="81.4" y="586.5" font-size="26" textLength="101.7" lengthAdjust="spacingAndGlyphs">proteins</text>
<text x="1056" y="690" font-size="40" fill="#000" font-weight="bold">g</text>
<path d="M1129.12,856.69 C1129.27,855.06 1130.45,853.44 1132.13,851.02 C1133.81,848.6 1136.56,844.97 1139.21,842.17 C1141.87,839.36 1145.32,836.56 1148.07,834.2 C1150.81,831.84 1153.17,829.57 1155.68,828 C1158.19,826.44 1160.11,825.41 1163.12,824.82 C1166.13,824.23 1169.9,824.28 1173.74,824.46 C1177.58,824.64 1182,825.82 1186.13,825.88 C1190.26,825.94 1194.69,824.99 1198.53,824.82 C1202.36,824.64 1205.61,824.4 1209.15,824.82 C1212.69,825.23 1216.38,825.88 1219.77,827.29 C1223.17,828.71 1226.5,830.84 1229.51,833.31 C1232.52,835.79 1235.41,838.92 1237.83,842.17 C1240.25,845.41 1242.41,849.19 1244.03,852.79 C1245.65,856.39 1246.72,860.17 1247.57,863.77 C1248.43,867.37 1249.05,870.91 1249.16,874.39 C1249.28,877.87 1248.87,881.53 1248.28,884.66 C1247.69,887.79 1246.48,890.65 1245.62,893.16 C1244.77,895.67 1243.73,897.29 1243.14,899.71 C1242.55,902.13 1243.62,905.94 1242.08,907.68 C1240.55,909.42 1237.95,909.68 1233.94,910.16 C1229.92,910.63 1222.13,910.69 1218,910.51 C1213.87,910.33 1211.22,910.16 1209.15,909.09 C1207.08,908.03 1208.26,904.96 1205.61,904.14 C1202.95,903.31 1197.05,904.49 1193.22,904.14 C1189.38,903.78 1185.31,903.34 1182.59,902.01 C1179.88,900.68 1178.4,898.32 1176.93,896.17 C1175.45,894.01 1175.16,891.15 1173.74,889.09 C1172.32,887.02 1170.49,885.25 1168.43,883.77 C1166.36,882.3 1163.71,881.41 1161.35,880.23 C1158.98,879.05 1156.48,878.02 1154.26,876.69 C1152.05,875.36 1149.84,873.74 1148.07,872.27 C1146.3,870.79 1145.56,869.26 1143.64,867.84 C1141.72,866.42 1138.62,864.95 1136.56,863.77 C1134.49,862.59 1132.49,861.94 1131.25,860.76 C1130.01,859.58 1128.97,858.31 1129.12,856.69 Z" fill="#4a4543" />
<path d="M1177.28,897.05 C1177.58,895.05 1180.23,891.15 1184.36,889.97 C1188.49,888.79 1196.76,889.09 1202.07,889.97 C1207.38,890.86 1211.22,893.81 1216.23,895.28 C1221.25,896.76 1227.8,898.53 1232.17,898.82 C1236.53,899.12 1240.78,895.58 1242.44,897.05 C1244.09,898.53 1243.5,905.49 1242.08,907.68 C1240.67,909.86 1237.95,909.68 1233.94,910.16 C1229.92,910.63 1222.13,910.69 1218,910.51 C1213.87,910.33 1211.22,910.16 1209.15,909.09 C1207.08,908.03 1208.26,904.96 1205.61,904.14 C1202.95,903.31 1197.05,904.49 1193.22,904.14 C1189.38,903.78 1185.25,903.19 1182.59,902.01 C1179.94,900.83 1176.99,899.06 1177.28,897.05 Z" fill="#3e3937" />
<path d="M1153.38,822.69 C1152.79,821.07 1153.97,817.91 1155.15,816.49 C1156.33,815.08 1158.98,814.1 1160.46,814.19 C1161.94,814.28 1163.56,815.46 1164,817.03 C1164.44,818.59 1164,822.04 1163.12,823.58 C1162.23,825.11 1160.31,826.38 1158.69,826.23 C1157.07,826.08 1153.97,824.31 1153.38,822.69 Z" fill="#3b3634" />
<path d="M1166.3,833.31 C1165.92,831.1 1166.07,826.82 1167.01,824.46 C1167.96,822.1 1170.11,820.04 1171.97,819.15 C1173.83,818.26 1176.54,818.26 1178.17,819.15 C1179.79,820.04 1181.32,822.4 1181.71,824.46 C1182.09,826.53 1181.5,829.54 1180.47,831.54 C1179.43,833.55 1177.37,835.47 1175.51,836.5 C1173.65,837.53 1170.85,838.27 1169.31,837.74 C1167.78,837.21 1166.69,835.53 1166.3,833.31 Z" fill="#c4928d" />
<path d="M1169.31,831.54 C1168.78,829.98 1169.67,826.88 1170.55,825.35 C1171.44,823.81 1173.27,822.43 1174.62,822.34 C1175.98,822.25 1178.11,823.43 1178.7,824.82 C1179.29,826.2 1178.99,829.01 1178.17,830.66 C1177.34,832.31 1175.21,834.58 1173.74,834.73 C1172.26,834.88 1169.84,833.11 1169.31,831.54 Z" fill="#b5817c" />
<path d="M1139.21,873.15 C1139.51,871.59 1140.39,868.93 1141.87,867.84 C1143.35,866.75 1146,866.45 1148.07,866.6 C1150.13,866.75 1152.99,867.49 1154.26,868.73 C1155.53,869.96 1156.12,872.56 1155.68,874.04 C1155.24,875.51 1153.32,876.81 1151.61,877.58 C1149.9,878.35 1147.33,878.7 1145.41,878.64 C1143.49,878.58 1141.13,878.14 1140.1,877.22 C1139.07,876.31 1138.92,874.72 1139.21,873.15 Z" fill="#d6a59e" />
<path d="M1159.58,907.32 C1160.46,906.7 1164.3,905.55 1168.43,905.02 C1172.56,904.49 1178.76,904.34 1184.36,904.14 C1189.97,903.93 1197.94,903.49 1202.07,903.78 C1206.2,904.08 1207.82,904.9 1209.15,905.91 C1210.48,906.91 1211.81,909.21 1210.04,909.8 C1208.26,910.39 1203.4,909.62 1198.53,909.45 C1193.66,909.27 1186.72,908.86 1180.82,908.74 C1174.92,908.62 1166.66,908.98 1163.12,908.74 C1159.58,908.5 1158.69,907.94 1159.58,907.32 Z" fill="#d2a19b" />
<path d="M1241.91,903.25 C1269.35,904.14 1322.46,900.59 1351.68,913.87" fill="none" stroke="#c38d86" stroke-width="4.2" stroke-linecap="round"/>
<circle cx="1223.31" cy="870.5" r="15.3" fill="#8b6d52" />
<circle cx="1148.07" cy="843.94" r="1.8" fill="#111" />
<path d="M1133.02,854.56 l-9,-6 M1133.02,855.45 l-10,-2 M1133.02,856.33 l-9,2" fill="none" stroke="#999" stroke-width="0.6" />
<circle cx="1129.83" cy="857.75" r="2" fill="#d8a0a0" />
<path d="M1129.12,1135.19 C1129.27,1133.56 1130.45,1131.94 1132.13,1129.52 C1133.81,1127.1 1136.56,1123.47 1139.21,1120.67 C1141.87,1117.86 1145.32,1115.06 1148.07,1112.7 C1150.81,1110.34 1153.17,1108.07 1155.68,1106.5 C1158.19,1104.94 1160.11,1103.91 1163.12,1103.32 C1166.13,1102.73 1169.9,1102.78 1173.74,1102.96 C1177.58,1103.14 1182,1104.32 1186.13,1104.38 C1190.26,1104.44 1194.69,1103.49 1198.53,1103.32 C1202.36,1103.14 1205.61,1102.9 1209.15,1103.32 C1212.69,1103.73 1216.38,1104.38 1219.77,1105.79 C1223.17,1107.21 1226.5,1109.34 1229.51,1111.81 C1232.52,1114.29 1235.41,1117.42 1237.83,1120.67 C1240.25,1123.91 1242.41,1127.69 1244.03,1131.29 C1245.65,1134.89 1246.72,1138.67 1247.57,1142.27 C1248.43,1145.87 1249.05,1149.41 1249.16,1152.89 C1249.28,1156.37 1248.87,1160.03 1248.28,1163.16 C1247.69,1166.29 1246.48,1169.15 1245.62,1171.66 C1244.77,1174.17 1243.73,1175.79 1243.14,1178.21 C1242.55,1180.63 1243.62,1184.44 1242.08,1186.18 C1240.55,1187.92 1237.95,1188.18 1233.94,1188.66 C1229.92,1189.13 1222.13,1189.19 1218,1189.01 C1213.87,1188.83 1211.22,1188.66 1209.15,1187.59 C1207.08,1186.53 1208.26,1183.46 1205.61,1182.64 C1202.95,1181.81 1197.05,1182.99 1193.22,1182.64 C1189.38,1182.28 1185.31,1181.84 1182.59,1180.51 C1179.88,1179.18 1178.4,1176.82 1176.93,1174.67 C1175.45,1172.51 1175.16,1169.65 1173.74,1167.59 C1172.32,1165.52 1170.49,1163.75 1168.43,1162.27 C1166.36,1160.8 1163.71,1159.91 1161.35,1158.73 C1158.98,1157.55 1156.48,1156.52 1154.26,1155.19 C1152.05,1153.86 1149.84,1152.24 1148.07,1150.77 C1146.3,1149.29 1145.56,1147.76 1143.64,1146.34 C1141.72,1144.92 1138.62,1143.45 1136.56,1142.27 C1134.49,1141.09 1132.49,1140.44 1131.25,1139.26 C1130.01,1138.08 1128.97,1136.81 1129.12,1135.19 Z" fill="#4a4543" />
<path d="M1177.28,1175.55 C1177.58,1173.55 1180.23,1169.65 1184.36,1168.47 C1188.49,1167.29 1196.76,1167.59 1202.07,1168.47 C1207.38,1169.36 1211.22,1172.31 1216.23,1173.78 C1221.25,1175.26 1227.8,1177.03 1232.17,1177.32 C1236.53,1177.62 1240.78,1174.08 1242.44,1175.55 C1244.09,1177.03 1243.5,1183.99 1242.08,1186.18 C1240.67,1188.36 1237.95,1188.18 1233.94,1188.66 C1229.92,1189.13 1222.13,1189.19 1218,1189.01 C1213.87,1188.83 1211.22,1188.66 1209.15,1187.59 C1207.08,1186.53 1208.26,1183.46 1205.61,1182.64 C1202.95,1181.81 1197.05,1182.99 1193.22,1182.64 C1189.38,1182.28 1185.25,1181.69 1182.59,1180.51 C1179.94,1179.33 1176.99,1177.56 1177.28,1175.55 Z" fill="#3e3937" />
<path d="M1153.38,1101.19 C1152.79,1099.57 1153.97,1096.41 1155.15,1094.99 C1156.33,1093.58 1158.98,1092.6 1160.46,1092.69 C1161.94,1092.78 1163.56,1093.96 1164,1095.53 C1164.44,1097.09 1164,1100.54 1163.12,1102.08 C1162.23,1103.61 1160.31,1104.88 1158.69,1104.73 C1157.07,1104.58 1153.97,1102.81 1153.38,1101.19 Z" fill="#3b3634" />
<path d="M1166.3,1111.81 C1165.92,1109.6 1166.07,1105.32 1167.01,1102.96 C1167.96,1100.6 1170.11,1098.54 1171.97,1097.65 C1173.83,1096.76 1176.54,1096.76 1178.17,1097.65 C1179.79,1098.54 1181.32,1100.9 1181.71,1102.96 C1182.09,1105.03 1181.5,1108.04 1180.47,1110.04 C1179.43,1112.05 1177.37,1113.97 1175.51,1115 C1173.65,1116.03 1170.85,1116.77 1169.31,1116.24 C1167.78,1115.71 1166.69,1114.03 1166.3,1111.81 Z" fill="#c4928d" />
<path d="M1169.31,1110.04 C1168.78,1108.48 1169.67,1105.38 1170.55,1103.85 C1171.44,1102.31 1173.27,1100.93 1174.62,1100.84 C1175.98,1100.75 1178.11,1101.93 1178.7,1103.32 C1179.29,1104.7 1178.99,1107.51 1178.17,1109.16 C1177.34,1110.81 1175.21,1113.08 1173.74,1113.23 C1172.26,1113.38 1169.84,1111.61 1169.31,1110.04 Z" fill="#b5817c" />
<path d="M1139.21,1151.65 C1139.51,1150.09 1140.39,1147.43 1141.87,1146.34 C1143.35,1145.25 1146,1144.95 1148.07,1145.1 C1150.13,1145.25 1152.99,1145.99 1154.26,1147.23 C1155.53,1148.46 1156.12,1151.06 1155.68,1152.54 C1155.24,1154.01 1153.32,1155.31 1151.61,1156.08 C1149.9,1156.85 1147.33,1157.2 1145.41,1157.14 C1143.49,1157.08 1141.13,1156.64 1140.1,1155.72 C1139.07,1154.81 1138.92,1153.22 1139.21,1151.65 Z" fill="#d6a59e" />
<path d="M1159.58,1185.82 C1160.46,1185.2 1164.3,1184.05 1168.43,1183.52 C1172.56,1182.99 1178.76,1182.84 1184.36,1182.64 C1189.97,1182.43 1197.94,1181.99 1202.07,1182.28 C1206.2,1182.58 1207.82,1183.4 1209.15,1184.41 C1210.48,1185.41 1211.81,1187.71 1210.04,1188.3 C1208.26,1188.89 1203.4,1188.12 1198.53,1187.95 C1193.66,1187.77 1186.72,1187.36 1180.82,1187.24 C1174.92,1187.12 1166.66,1187.48 1163.12,1187.24 C1159.58,1187 1158.69,1186.44 1159.58,1185.82 Z" fill="#d2a19b" />
<path d="M1241.91,1181.75 C1269.35,1182.64 1331.32,1177.32 1343.71,1200.34" fill="none" stroke="#c38d86" stroke-width="4.2" stroke-linecap="round"/>
<circle cx="1223.31" cy="1149" r="15.3" fill="#8b6d52" />
<circle cx="1148.07" cy="1122.44" r="1.8" fill="#111" />
<path d="M1133.02,1133.06 l-9,-6 M1133.02,1133.95 l-10,-2 M1133.02,1134.83 l-9,2" fill="none" stroke="#999" stroke-width="0.6" />
<circle cx="1129.83" cy="1136.25" r="2" fill="#d8a0a0" />
<g transform="translate(1337.5 895.3) rotate(-44.6)" fill="none" stroke="#2a6aa0" stroke-width="1.5"><line x1="0" y1="0" x2="22" y2="0"/><rect x="22" y="-3" width="6" height="6" fill="#fff"/><rect x="28" y="-6" width="42" height="12" fill="#fff"/><rect x="30" y="-4.5" width="16" height="9" fill="#2f8fd0" stroke="none"/><path d="M50,-6 v4 M55,-6 v4 M60,-6 v4 M65,-6 v4"/><line x1="70" y1="-9" x2="70" y2="9" stroke-width="2.2"/><line x1="70" y1="0" x2="90" y2="0" stroke-width="2.4"/><line x1="90" y1="-7" x2="90" y2="7" stroke-width="3"/></g>
<g transform="translate(1339 1170) rotate(-44.6)" fill="none" stroke="#b8272d" stroke-width="1.5"><line x1="0" y1="0" x2="22" y2="0"/><rect x="22" y="-3" width="6" height="6" fill="#fff"/><rect x="28" y="-6" width="42" height="12" fill="#fff"/><rect x="30" y="-4.5" width="16" height="9" fill="#d0343a" stroke="none"/><path d="M50,-6 v4 M55,-6 v4 M60,-6 v4 M65,-6 v4"/><line x1="70" y1="-9" x2="70" y2="9" stroke-width="2.2"/><line x1="70" y1="0" x2="90" y2="0" stroke-width="2.4"/><line x1="90" y1="-7" x2="90" y2="7" stroke-width="3"/></g>
<path d="M1318.9,810.3 L1359.6,859.9 M1393.3,800.6 L1366.7,851.9" fill="none" stroke="#222" stroke-width="2.4" stroke-dasharray="6 5"/>
<path d="M1320,1082 L1360,1134 M1395,1078 L1368,1128" fill="none" stroke="#222" stroke-width="2.4" stroke-dasharray="6 5"/>
<ellipse cx="1353.4" cy="777.5" rx="43.4" ry="49.2" fill="#fff" stroke="#111" stroke-width="1.6"/>
<ellipse cx="1357.5" cy="1046" rx="47.5" ry="50" fill="#fff" stroke="#111" stroke-width="1.6"/>
<g transform="translate(1330 795) rotate(-10)"><path d="M-1.2,12 V0 L-7,-8 M1.2,12 V0 L7,-8 M-3,-1 L-9,-9 M3,-1 L9,-9" fill="none" stroke="#3a72c4" stroke-width="1.3"/></g><g transform="translate(1352 800) rotate(0)"><path d="M-1.2,12 V0 L-7,-8 M1.2,12 V0 L7,-8 M-3,-1 L-9,-9 M3,-1 L9,-9" fill="none" stroke="#3a72c4" stroke-width="1.3"/></g><g transform="translate(1375 800) rotate(10)"><path d="M-1.2,12 V0 L-7,-8 M1.2,12 V0 L7,-8 M-3,-1 L-9,-9 M3,-1 L9,-9" fill="none" stroke="#3a72c4" stroke-width="1.3"/></g><g transform="translate(1340 775) rotate(20)"><path d="M-1.2,12 V0 L-7,-8 M1.2,12 V0 L7,-8 M-3,-1 L-9,-9 M3,-1 L9,-9" fill="none" stroke="#3a72c4" stroke-width="1.3"/></g><g transform="translate(1368 770) rotate(-20)"><path d="M-1.2,12 V0 L-7,-8 M1.2,12 V0 L7,-8 M-3,-1 L-9,-9 M3,-1 L9,-9" fill="none" stroke="#3a72c4" stroke-width="1.3"/></g><g transform="translate(1322 780) rotate(-30)"><path d="M-1.2,12 V0 L-7,-8 M1.2,12 V0 L7,-8 M-3,-1 L-9,-9 M3,-1 L9,-9" fill="none" stroke="#3a72c4" stroke-width="1.3"/></g><g transform="translate(1385 785) rotate(25)"><path d="M-1.2,12 V0 L-7,-8 M1.2,12 V0 L7,-8 M-3,-1 L-9,-9 M3,-1 L9,-9" fill="none" stroke="#3a72c4" stroke-width="1.3"/></g><g transform="translate(1358 760) rotate(5)"><path d="M-1.2,12 V0 L-7,-8 M1.2,12 V0 L7,-8 M-3,-1 L-9,-9 M3,-1 L9,-9" fill="none" stroke="#3a72c4" stroke-width="1.3"/></g>
<circle cx="1339.6" cy="753.3" r="8.8" fill="#e8bf3a" stroke="#333" stroke-width="0.6"/>
<path d="M1338.5,751.39 L1335.86,746.82 A7.48,7.48 0 0 1 1343.34,746.82 L1340.7,751.39 A2.2,2.2 0 0 0 1338.5,751.39 Z" fill="#1a1a1a" />
<path d="M1341.8,753.3 L1347.08,753.3 A7.48,7.48 0 0 1 1343.34,759.78 L1340.7,755.21 A2.2,2.2 0 0 0 1341.8,753.3 Z" fill="#1a1a1a" />
<path d="M1338.5,755.21 L1335.86,759.78 A7.48,7.48 0 0 1 1332.12,753.3 L1337.4,753.3 A2.2,2.2 0 0 0 1338.5,755.21 Z" fill="#1a1a1a" />
<circle cx="1339.6" cy="753.3" r="1.32" fill="#1a1a1a" />
<circle cx="1373.8" cy="757.5" r="8.8" fill="#e8bf3a" stroke="#333" stroke-width="0.6"/>
<path d="M1372.7,755.59 L1370.06,751.02 A7.48,7.48 0 0 1 1377.54,751.02 L1374.9,755.59 A2.2,2.2 0 0 0 1372.7,755.59 Z" fill="#1a1a1a" />
<path d="M1376,757.5 L1381.28,757.5 A7.48,7.48 0 0 1 1377.54,763.98 L1374.9,759.41 A2.2,2.2 0 0 0 1376,757.5 Z" fill="#1a1a1a" />
<path d="M1372.7,759.41 L1370.06,763.98 A7.48,7.48 0 0 1 1366.32,757.5 L1371.6,757.5 A2.2,2.2 0 0 0 1372.7,759.41 Z" fill="#1a1a1a" />
<circle cx="1373.8" cy="757.5" r="1.32" fill="#1a1a1a" />
<circle cx="1324.6" cy="770.5" r="8.8" fill="#e8bf3a" stroke="#333" stroke-width="0.6"/>
<path d="M1323.5,768.59 L1320.86,764.02 A7.48,7.48 0 0 1 1328.34,764.02 L1325.7,768.59 A2.2,2.2 0 0 0 1323.5,768.59 Z" fill="#1a1a1a" />
<path d="M1326.8,770.5 L1332.08,770.5 A7.48,7.48 0 0 1 1328.34,776.98 L1325.7,772.41 A2.2,2.2 0 0 0 1326.8,770.5 Z" fill="#1a1a1a" />
<path d="M1323.5,772.41 L1320.86,776.98 A7.48,7.48 0 0 1 1317.12,770.5 L1322.4,770.5 A2.2,2.2 0 0 0 1323.5,772.41 Z" fill="#1a1a1a" />
<circle cx="1324.6" cy="770.5" r="1.32" fill="#1a1a1a" />
<circle cx="1351.1" cy="773.1" r="8.8" fill="#e8bf3a" stroke="#333" stroke-width="0.6"/>
<path d="M1350,771.19 L1347.36,766.62 A7.48,7.48 0 0 1 1354.84,766.62 L1352.2,771.19 A2.2,2.2 0 0 0 1350,771.19 Z" fill="#1a1a1a" />
<path d="M1353.3,773.1 L1358.58,773.1 A7.48,7.48 0 0 1 1354.84,779.58 L1352.2,775.01 A2.2,2.2 0 0 0 1353.3,773.1 Z" fill="#1a1a1a" />
<path d="M1350,775.01 L1347.36,779.58 A7.48,7.48 0 0 1 1343.62,773.1 L1348.9,773.1 A2.2,2.2 0 0 0 1350,775.01 Z" fill="#1a1a1a" />
<circle cx="1351.1" cy="773.1" r="1.32" fill="#1a1a1a" />
<circle cx="1345.1" cy="788.2" r="8.8" fill="#e8bf3a" stroke="#333" stroke-width="0.6"/>
<path d="M1344,786.29 L1341.36,781.72 A7.48,7.48 0 0 1 1348.84,781.72 L1346.2,786.29 A2.2,2.2 0 0 0 1344,786.29 Z" fill="#1a1a1a" />
<path d="M1347.3,788.2 L1352.58,788.2 A7.48,7.48 0 0 1 1348.84,794.68 L1346.2,790.11 A2.2,2.2 0 0 0 1347.3,788.2 Z" fill="#1a1a1a" />
<path d="M1344,790.11 L1341.36,794.68 A7.48,7.48 0 0 1 1337.62,788.2 L1342.9,788.2 A2.2,2.2 0 0 0 1344,790.11 Z" fill="#1a1a1a" />
<circle cx="1345.1" cy="788.2" r="1.32" fill="#1a1a1a" />
<circle cx="1371.2" cy="782" r="8.8" fill="#e8bf3a" stroke="#333" stroke-width="0.6"/>
<path d="M1370.1,780.09 L1367.46,775.52 A7.48,7.48 0 0 1 1374.94,775.52 L1372.3,780.09 A2.2,2.2 0 0 0 1370.1,780.09 Z" fill="#1a1a1a" />
<path d="M1373.4,782 L1378.68,782 A7.48,7.48 0 0 1 1374.94,788.48 L1372.3,783.91 A2.2,2.2 0 0 0 1373.4,782 Z" fill="#1a1a1a" />
<path d="M1370.1,783.91 L1367.46,788.48 A7.48,7.48 0 0 1 1363.72,782 L1369,782 A2.2,2.2 0 0 0 1370.1,783.91 Z" fill="#1a1a1a" />
<circle cx="1371.2" cy="782" r="1.32" fill="#1a1a1a" />
<circle cx="1353" cy="1018.3" r="15.5" fill="none" stroke="#d8b840" stroke-width="3.5" stroke-dasharray="2.5 2.5"/>
<circle cx="1353" cy="1018.3" r="13.2" fill="none" stroke="#6a8ad0" stroke-width="1.2" stroke-dasharray="2 2"/>
<circle cx="1353" cy="1018.3" r="11.5" fill="#c8283a" />
<circle cx="1351.5" cy="1017.3" r="6.5" fill="#a81a2a" />
<circle cx="1350.5" cy="1016.3" r="3.5" fill="#d84050" />
<circle cx="1337" cy="1053.4" r="15.5" fill="none" stroke="#d8b840" stroke-width="3.5" stroke-dasharray="2.5 2.5"/>
<circle cx="1337" cy="1053.4" r="13.2" fill="none" stroke="#6a8ad0" stroke-width="1.2" stroke-dasharray="2 2"/>
<circle cx="1337" cy="1053.4" r="11.5" fill="#c8283a" />
<circle cx="1335.5" cy="1052.4" r="6.5" fill="#a81a2a" />
<circle cx="1334.5" cy="1051.4" r="3.5" fill="#d84050" />
<circle cx="1378" cy="1051" r="15.5" fill="none" stroke="#d8b840" stroke-width="3.5" stroke-dasharray="2.5 2.5"/>
<circle cx="1378" cy="1051" r="13.2" fill="none" stroke="#6a8ad0" stroke-width="1.2" stroke-dasharray="2 2"/>
<circle cx="1378" cy="1051" r="11.5" fill="#c8283a" />
<circle cx="1376.5" cy="1050" r="6.5" fill="#a81a2a" />
<circle cx="1375.5" cy="1049" r="3.5" fill="#d84050" />
<text x="1312.3" y="709.9" font-size="26" text-anchor="middle" textLength="256.7" lengthAdjust="spacingAndGlyphs">Tumor-bearing mice</text>
<text x="1593.7" y="889" font-size="26" text-anchor="middle" textLength="114.2" lengthAdjust="spacingAndGlyphs">Anti-PD1*</text>
<text x="1594.4" y="920" font-size="26" text-anchor="middle" textLength="266" lengthAdjust="spacingAndGlyphs">(<tspan font-size="17" dy="-9">125</tspan><tspan dy="9">I-labeled anti-PD1)</tspan></text>
<text x="1593.7" y="1180.4" font-size="26" text-anchor="middle" textLength="334.4" lengthAdjust="spacingAndGlyphs">IgG4*-mEry or αPD1*-mEry</text>
<text x="1593.5" y="1218" font-size="26" text-anchor="middle" textLength="367" lengthAdjust="spacingAndGlyphs">(<tspan font-size="17" dy="-9">125</tspan><tspan dy="9">I-labeled IgG4 or anti-PD1)</tspan></text>
<line x1="1097" y1="962" x2="1787" y2="962" stroke="#222" stroke-width="3.2" stroke-dasharray="3.2 3.2"/>
<path d="M1763,692.5 H1809.8 V1237.5 H1763 M1809.8,965.2 H1851.8" fill="none" stroke="#222" stroke-width="1.6" />
<text x="1994" y="709.7" font-size="26" text-anchor="middle" textLength="162" lengthAdjust="spacingAndGlyphs">Radioactivity</text>
<text x="1997.4" y="740" font-size="26" text-anchor="middle">analysis</text>
<path d="M1929.14,802.23 C1934.43,802.23 1941.34,802.92 1945.71,806.38 C1950.08,809.83 1953.3,816.96 1955.38,822.95 C1957.45,828.93 1958.37,835.84 1958.14,842.28 C1957.91,848.72 1956.53,856.78 1953.99,861.61 C1951.46,866.45 1947,869.9 1942.95,871.28 C1938.9,872.66 1934.06,869.9 1929.69,869.9 C1925.32,869.9 1920.71,872.66 1916.71,871.28 C1912.71,869.9 1908.19,866.45 1905.66,861.61 C1903.13,856.78 1901.75,848.72 1901.52,842.28 C1901.29,835.84 1902.21,828.93 1904.28,822.95 C1906.35,816.96 1909.81,809.83 1913.95,806.38 C1918.09,802.92 1923.84,802.23 1929.14,802.23 Z" fill="#e8b8bc" stroke="#c48a92" stroke-width="1" />
<path d="M1929.69,803.61 L1929.69,869.9" fill="none" stroke="#c07f88" stroke-width="1" />
<path d="M1909.81,820.19 q4,-3 8,0 t8,0 M1912.57,836.76 q4,-3 8,0 t8,0 M1909.81,853.33 q4,-3 8,0 t8,0 M1933.28,825.71 q4,-3 8,0 t8,0 M1934.66,842.28 q4,-3 8,0 t8,0 M1934.66,858.85 q4,-3 8,0 t8,0 M1916.71,828.47 q4,-3 8,0 t8,0 M1936.04,814.66 q4,-3 8,0 t8,0 M1940.19,850.57 q4,-3 8,0 t8,0 M1909.81,864.37 q4,-3 8,0 t8,0 M1934.66,867.14 q4,-3 8,0 t8,0" fill="none" stroke="#c98d95" stroke-width="0.8" />
<path d="M2014.75,825.71 C2018.67,822.49 2024.19,822.03 2028.56,822.95 C2032.94,823.87 2038.46,826.17 2040.99,831.23 C2043.52,836.3 2043.98,846.88 2043.75,853.33 C2043.52,859.77 2041.68,866.22 2039.61,869.9 C2037.54,873.58 2034.55,874.96 2031.33,875.42 C2028.1,875.88 2023.96,875.42 2020.28,872.66 C2016.6,869.9 2011.76,863.91 2009.23,858.85 C2006.7,853.79 2004.17,847.8 2005.09,842.28 C2006.01,836.76 2010.84,828.93 2014.75,825.71 Z" fill="#a8453f" />
<path d="M2013.37,806.38 V875.42" fill="none" stroke="#4464c4" stroke-width="3.2" />
<path d="M2031.88,796.71 V825.71" fill="none" stroke="#4a6ad0" stroke-width="4" />
<path d="M2020.28,825.71 C2017.52,803.61 2034.09,798.09 2038.23,809.14" fill="none" stroke="#c03a36" stroke-width="3.5" />
<path d="M2005.09,836.76 C2005.32,832.61 2009.69,826.86 2011.99,825.71 C2014.29,824.56 2017.98,826.63 2018.9,829.85 C2019.82,833.07 2018.9,841.59 2017.52,845.04 C2016.14,848.49 2012.68,851.95 2010.61,850.57 C2008.54,849.18 2004.86,840.9 2005.09,836.76 Z" fill="#5a2a3a" />
<path d="M2029.94,831.23 C2030.17,827.55 2034.55,824.79 2036.85,825.71 C2039.15,826.63 2042.83,832.61 2043.75,836.76 C2044.67,840.9 2043.75,848.72 2042.37,850.57 C2040.99,852.41 2037.54,851.03 2035.47,847.8 C2033.4,844.58 2029.71,834.92 2029.94,831.23 Z" fill="#5a2a3a" />
<path d="M1890.47,932.04 C1892.54,927.9 1898.3,921.91 1904.28,919.61 C1910.27,917.31 1919.01,917.08 1926.38,918.23 C1933.74,919.38 1942.49,922.14 1948.47,926.52 C1954.46,930.89 1959.29,938.25 1962.28,944.47 C1965.27,950.68 1967.34,958.05 1966.42,963.8 C1965.5,969.55 1960.67,976.69 1956.76,978.99 C1952.84,981.29 1947.55,981.06 1942.95,977.61 C1938.34,974.16 1934.66,963.11 1929.14,958.28 C1923.61,953.44 1916.02,950.91 1909.81,948.61 C1903.59,946.31 1895.08,947.23 1891.85,944.47 C1888.63,941.71 1888.4,936.18 1890.47,932.04 Z" fill="#8a3b3d" />
<path d="M1985.76,961.04 C1986.22,957.82 1989.21,944.93 1992.66,938.94 C1996.11,932.96 2001.41,928.13 2006.47,925.13 C2011.53,922.14 2017.52,921.45 2023.04,920.99 C2028.56,920.53 2034.55,920.3 2039.61,922.37 C2044.67,924.44 2049.51,928.36 2053.42,933.42 C2057.33,938.48 2061.71,947.69 2063.09,952.75 C2064.47,957.82 2064.7,961.5 2061.71,963.8 C2058.71,966.1 2050.66,965.41 2045.13,966.56 C2039.61,967.71 2033.17,971.4 2028.56,970.7 C2023.96,970.01 2022.12,964.95 2017.52,962.42 C2012.91,959.89 2005.55,956.21 2000.95,955.51 C1996.34,954.82 1992.43,957.36 1989.9,958.28 C1987.37,959.2 1985.3,964.26 1985.76,961.04 Z" fill="#a86a5c" />
<path d="M2111.42,916.85 C2116.25,917.54 2122.01,924.67 2123.85,929.28 C2125.69,933.88 2122.93,939.63 2122.47,944.47 C2122.01,949.3 2120.62,953.67 2121.08,958.28 C2121.55,962.88 2126.38,967.94 2125.23,972.09 C2124.08,976.23 2118.32,981.52 2114.18,983.13 C2110.04,984.74 2104.05,984.05 2100.37,981.75 C2096.69,979.45 2093.93,975.08 2092.09,969.32 C2090.24,963.57 2088.86,954.59 2089.32,947.23 C2089.78,939.86 2091.17,930.2 2094.85,925.13 C2098.53,920.07 2106.59,916.16 2111.42,916.85 Z" fill="#fbe5dc" stroke="#d6805a" stroke-width="2" />
<path d="M2125.23,947.23 H2151.46 M2090.7,930.66 l-8,-8 M2089.32,966.56 l-8,8 M2114.18,915.47 l-3,-10 M2119.7,983.13 l2,10" fill="none" stroke="#e0a080" stroke-width="1.6" />
<path d="M1904.28,1027.32 C1907.73,1025.94 1910.5,1028.7 1912.57,1035.61 C1914.64,1042.51 1916.25,1061.38 1916.71,1068.75 C1917.17,1076.11 1917.86,1077.73 1915.33,1079.8 C1912.8,1081.87 1906.35,1080.49 1901.52,1081.18 C1896.69,1081.87 1889.09,1086.47 1886.33,1083.94 C1883.57,1081.41 1884.03,1072.66 1884.95,1065.99 C1885.87,1059.31 1888.63,1050.34 1891.85,1043.89 C1895.08,1037.45 1900.83,1028.7 1904.28,1027.32 Z" fill="#e3a7ad" />
<path d="M1930.52,1027.32 C1933.51,1025.48 1938.48,1034.69 1941.57,1041.13 C1944.65,1047.58 1947.64,1058.85 1949.02,1065.99 C1950.4,1073.12 1952.25,1081.41 1949.85,1083.94 C1947.46,1086.47 1938.8,1081.87 1934.66,1081.18 C1930.52,1080.49 1926.84,1084.63 1925,1079.8 C1923.15,1074.96 1922.69,1060.92 1923.61,1052.18 C1924.54,1043.43 1927.53,1029.16 1930.52,1027.32 Z" fill="#e3a7ad" />
<path d="M1917.26,1007.44 V1049.97" fill="none" stroke="#5d7fbf" stroke-width="5.2" />
<path d="M1914.26,1012.13 h6 M1914.26,1016 h6 M1914.26,1019.87 h6 M1914.26,1023.73 h6 M1914.26,1027.6 h6 M1914.26,1031.46 h6 M1914.26,1035.33 h6 M1914.26,1039.2 h6 M1914.26,1043.06 h6 M1914.26,1046.93 h6" fill="none" stroke="#4a6aa8" stroke-width="0.7" />
<path d="M1917.26,1049.97 L1909.26,1053.97 M1909.26,1053.97 l-5,-8 M1909.26,1053.97 l-10,0 M1909.26,1053.97 l-8,10 M1909.26,1053.97 l-2,16 M1909.26,1053.97 l2,11 M1917.26,1049.97 L1925.26,1053.97 M1925.26,1053.97 l5,-8 M1925.26,1053.97 l10,0 M1925.26,1053.97 l8,10 M1925.26,1053.97 l2,16 M1925.26,1053.97 l-2,11" fill="none" stroke="#7784b8" stroke-width="1.4" />
<path d="M2010.61,1057.7 C1992.66,1045.27 1974.71,1057.7 1982.99,1071.51 C1991.28,1082.56 2009.23,1074.27 2023.04,1065.99" fill="none" stroke="#d77d72" stroke-width="8.5" />
<path d="M2016.14,1008.54 C2016.83,1008.08 2021.2,1016 2024.42,1016.27 C2027.64,1016.55 2031.56,1010.89 2035.47,1010.2 C2039.38,1009.51 2044.81,1009.74 2047.9,1012.13 C2050.98,1014.53 2053.28,1019.27 2053.97,1024.56 C2054.66,1029.85 2054.2,1038.14 2052.04,1043.89 C2049.88,1049.65 2045.6,1055.31 2040.99,1059.08 C2036.39,1062.86 2029.48,1066.08 2024.42,1066.54 C2019.36,1067 2014.29,1064.47 2010.61,1061.84 C2006.93,1059.22 2002.33,1054.02 2002.33,1050.8 C2002.33,1047.58 2007.16,1045.73 2010.61,1042.51 C2014.06,1039.29 2021.43,1035.38 2023.04,1031.46 C2024.65,1027.55 2021.43,1022.86 2020.28,1019.04 C2019.13,1015.22 2015.45,1009 2016.14,1008.54 Z" fill="#d77d72" stroke="#c26058" stroke-width="1" />
<path d="M2116.94,1023.18 C2122.01,1023.41 2129.6,1024.33 2133.51,1027.32 C2137.43,1030.31 2139.5,1035.61 2140.42,1041.13 C2141.34,1046.65 2141.57,1055.63 2139.04,1060.46 C2136.51,1065.3 2130.75,1068.75 2125.23,1070.13 C2119.7,1071.51 2110.96,1070.82 2105.89,1068.75 C2100.83,1066.68 2096.69,1062.77 2094.85,1057.7 C2093.01,1052.64 2093.47,1043.66 2094.85,1038.37 C2096.23,1033.08 2099.45,1028.47 2103.13,1025.94 C2106.82,1023.41 2111.88,1022.95 2116.94,1023.18 Z" fill="#d6aaa4" />
<path d="M1942.95,1123.99 C1948.7,1123.07 1956.76,1125.83 1960.9,1129.51 C1965.04,1133.19 1968.03,1141.48 1967.8,1146.08 C1967.57,1150.68 1961.36,1152.98 1959.52,1157.13 C1957.68,1161.27 1956.07,1166.33 1956.76,1170.94 C1957.45,1175.54 1963.66,1180.6 1963.66,1184.75 C1963.66,1188.89 1961.13,1193.72 1956.76,1195.79 C1952.38,1197.86 1942.95,1199.02 1937.42,1197.17 C1931.9,1195.33 1926.47,1191.42 1923.61,1184.75 C1920.76,1178.07 1919.84,1165.41 1920.3,1157.13 C1920.76,1148.84 1922.6,1140.56 1926.38,1135.03 C1930.15,1129.51 1937.19,1124.91 1942.95,1123.99 Z" fill="#a97262" />
<path d="M1956.76,1154.37 H1972.78 M1956.76,1160.44 H1970.57" fill="none" stroke="#c83040" stroke-width="2.2" />
<path d="M1956.76,1165.41 C1963.66,1170.94 1964.49,1184.75 1963.66,1197.17" fill="none" stroke="#d0aa40" stroke-width="2.6" />
<rect x="2020.28" y="1108.8" width="18.78" height="19.33" fill="#e07a30" rx="1.5"/>
<rect x="2021.11" y="1128.13" width="17.12" height="69.05" fill="#fafafa" stroke="#777" stroke-width="0.8" rx="8"/>
<rect x="2021.94" y="1136.41" width="15.47" height="59.38" fill="#a82a2a" rx="7"/>
<rect x="2024.14" y="1141.94" width="8.29" height="41.43" fill="#f2f2f2" />
<text x="0" y="2021" font-size="40" fill="#000" font-weight="bold">j</text>
<path d="M202.31,2202.33 C217.91,2205.93 232.3,2215.52 229.9,2227.52 C227.5,2235.91 205.91,2234.71 181.93,2229.92 C163.94,2226.32 145.95,2225.72 139.35,2228.72" fill="none" stroke="#c08a83" stroke-width="2.8" stroke-linecap="round"/>
<path d="M106.37,2204.73 C107.87,2204.03 112.96,2205.93 114.76,2207.13 C116.56,2208.33 117.56,2210.33 117.16,2211.93 C116.76,2213.53 113.96,2215.52 112.37,2216.72 C110.77,2217.92 109.97,2218.48 107.57,2219.12 C105.17,2219.76 101.57,2220.86 97.97,2220.56 C94.38,2220.26 86.98,2218.2 85.98,2217.32 C84.98,2216.44 89.18,2215.62 91.98,2215.28 C94.77,2214.94 100.47,2215.94 102.77,2215.28 C105.07,2214.62 105.17,2213.09 105.77,2211.33 C106.37,2209.57 104.87,2205.43 106.37,2204.73 Z" fill="#cf9f98" />
<path d="M185.52,2209.53 C187.92,2208.83 192.62,2210.13 193.92,2211.33 C195.22,2212.53 194.32,2215.38 193.32,2216.72 C192.32,2218.06 190.82,2218.72 187.92,2219.36 C185.02,2220 179.73,2220.56 175.93,2220.56 C172.13,2220.56 166.13,2220 165.14,2219.36 C164.14,2218.72 167.53,2217.36 169.93,2216.72 C172.33,2216.08 176.93,2216.72 179.53,2215.52 C182.13,2214.32 183.13,2210.23 185.52,2209.53 Z" fill="#cf9f98" />
<path d="M66.19,2179.54 C66.95,2178.19 69.29,2176.39 71.59,2174.75 C73.89,2173.11 76.98,2171.15 79.98,2169.71 C82.98,2168.27 86.58,2167.07 89.58,2166.11 C92.58,2165.15 94.97,2164.11 97.97,2163.95 C100.97,2163.79 104.37,2164.71 107.57,2165.15 C110.77,2165.59 112.76,2166.55 117.16,2166.59 C121.56,2166.63 129.16,2165.77 133.95,2165.39 C138.75,2165.01 141.95,2164.43 145.95,2164.31 C149.94,2164.19 154.34,2164.29 157.94,2164.67 C161.54,2165.05 164.34,2165.51 167.53,2166.59 C170.73,2167.67 173.73,2169.19 177.13,2171.15 C180.53,2173.11 184.52,2175.75 187.92,2178.34 C191.32,2180.94 194.96,2184.14 197.52,2186.74 C200.08,2189.34 202.07,2191.74 203.27,2193.94 C204.47,2196.13 204.67,2198.09 204.71,2199.93 C204.75,2201.77 204.31,2203.47 203.51,2204.97 C202.71,2206.47 201.52,2207.87 199.92,2208.93 C198.32,2209.99 196.92,2211.03 193.92,2211.33 C190.92,2211.63 185.92,2211.03 181.93,2210.73 C177.93,2210.43 173.93,2209.81 169.93,2209.53 C165.94,2209.25 161.94,2209.01 157.94,2209.05 C153.94,2209.09 149.94,2209.25 145.95,2209.77 C141.95,2210.29 137.55,2211.51 133.95,2212.17 C130.36,2212.83 127.16,2213.96 124.36,2213.73 C121.56,2213.49 119.56,2212.03 117.16,2210.73 C114.76,2209.43 112.17,2207.69 109.97,2205.93 C107.77,2204.17 105.97,2201.93 103.97,2200.17 C101.97,2198.41 100.37,2196.71 97.97,2195.38 C95.57,2194.04 92.58,2193.28 89.58,2192.14 C86.58,2191 82.98,2189.64 79.98,2188.54 C76.98,2187.44 73.75,2186.48 71.59,2185.54 C69.43,2184.6 67.93,2183.9 67.03,2182.9 C66.13,2181.9 65.43,2180.9 66.19,2179.54 Z" fill="#4a4543" />
<path d="M169.93,2209.53 C169.53,2207.73 175.93,2203.13 179.53,2199.93 C183.13,2196.73 188.12,2191.74 191.52,2190.34 C194.92,2188.94 197.82,2190.14 199.92,2191.54 C202.01,2192.94 203.51,2196.49 204.11,2198.73 C204.71,2200.97 204.21,2203.27 203.51,2204.97 C202.81,2206.67 201.52,2207.87 199.92,2208.93 C198.32,2209.99 196.92,2211.03 193.92,2211.33 C190.92,2211.63 185.92,2211.03 181.93,2210.73 C177.93,2210.43 170.33,2211.33 169.93,2209.53 Z" fill="#3f3a38" />
<path d="M97.97,2162.75 C97.37,2161.75 99.17,2159.12 100.37,2157.96 C101.57,2156.8 103.67,2155.84 105.17,2155.8 C106.67,2155.76 108.67,2156.66 109.37,2157.72 C110.07,2158.78 110.27,2161.11 109.37,2162.15 C108.47,2163.19 105.87,2163.85 103.97,2163.95 C102.07,2164.05 98.57,2163.75 97.97,2162.75 Z" fill="#3b3634" />
<path d="M104.57,2174.75 C104.37,2172.85 104.67,2169.25 105.77,2167.55 C106.87,2165.85 109.37,2164.75 111.17,2164.55 C112.96,2164.35 115.56,2164.85 116.56,2166.35 C117.56,2167.85 117.86,2171.45 117.16,2173.55 C116.46,2175.65 114.06,2178.05 112.37,2178.94 C110.67,2179.84 108.27,2179.64 106.97,2178.94 C105.67,2178.24 104.77,2176.65 104.57,2174.75 Z" fill="#c4928d" />
<ellipse cx="159.74" cy="2184.34" rx="15.5" ry="10" fill="#9c3a3b" transform="rotate(38 159.74 2184.34)"/>
<circle cx="86.58" cy="2175.35" r="1.7" fill="#111" />
<circle cx="66.79" cy="2179.3" r="1.6" fill="#d8a0a0" />
<path d="M195.81,2432.33 C211.41,2435.93 225.8,2445.52 223.4,2457.52 C221,2465.91 199.41,2464.71 175.43,2459.92 C157.44,2456.32 139.45,2455.72 132.85,2458.72" fill="none" stroke="#c08a83" stroke-width="2.8" stroke-linecap="round"/>
<path d="M99.87,2434.73 C101.37,2434.03 106.46,2435.93 108.26,2437.13 C110.06,2438.33 111.06,2440.33 110.66,2441.93 C110.26,2443.53 107.46,2445.52 105.87,2446.72 C104.27,2447.92 103.47,2448.48 101.07,2449.12 C98.67,2449.76 95.07,2450.86 91.47,2450.56 C87.88,2450.26 80.48,2448.2 79.48,2447.32 C78.48,2446.44 82.68,2445.62 85.48,2445.28 C88.27,2444.94 93.97,2445.94 96.27,2445.28 C98.57,2444.62 98.67,2443.09 99.27,2441.33 C99.87,2439.57 98.37,2435.43 99.87,2434.73 Z" fill="#cf9f98" />
<path d="M179.02,2439.53 C181.42,2438.83 186.12,2440.13 187.42,2441.33 C188.72,2442.53 187.82,2445.38 186.82,2446.72 C185.82,2448.06 184.32,2448.72 181.42,2449.36 C178.52,2450 173.23,2450.56 169.43,2450.56 C165.63,2450.56 159.63,2450 158.64,2449.36 C157.64,2448.72 161.03,2447.36 163.43,2446.72 C165.83,2446.08 170.43,2446.72 173.03,2445.52 C175.63,2444.32 176.63,2440.23 179.02,2439.53 Z" fill="#cf9f98" />
<path d="M59.69,2409.54 C60.45,2408.19 62.79,2406.39 65.09,2404.75 C67.39,2403.11 70.48,2401.15 73.48,2399.71 C76.48,2398.27 80.08,2397.07 83.08,2396.11 C86.08,2395.15 88.47,2394.11 91.47,2393.95 C94.47,2393.79 97.87,2394.71 101.07,2395.15 C104.27,2395.59 106.26,2396.55 110.66,2396.59 C115.06,2396.63 122.66,2395.77 127.45,2395.39 C132.25,2395.01 135.45,2394.43 139.45,2394.31 C143.44,2394.19 147.84,2394.29 151.44,2394.67 C155.04,2395.05 157.84,2395.51 161.03,2396.59 C164.23,2397.67 167.23,2399.19 170.63,2401.15 C174.03,2403.11 178.02,2405.75 181.42,2408.34 C184.82,2410.94 188.46,2414.14 191.02,2416.74 C193.58,2419.34 195.57,2421.74 196.77,2423.94 C197.97,2426.13 198.17,2428.09 198.21,2429.93 C198.25,2431.77 197.81,2433.47 197.01,2434.97 C196.21,2436.47 195.02,2437.87 193.42,2438.93 C191.82,2439.99 190.42,2441.03 187.42,2441.33 C184.42,2441.63 179.42,2441.03 175.43,2440.73 C171.43,2440.43 167.43,2439.81 163.43,2439.53 C159.44,2439.25 155.44,2439.01 151.44,2439.05 C147.44,2439.09 143.44,2439.25 139.45,2439.77 C135.45,2440.29 131.05,2441.51 127.45,2442.17 C123.86,2442.83 120.66,2443.96 117.86,2443.73 C115.06,2443.49 113.06,2442.03 110.66,2440.73 C108.26,2439.43 105.67,2437.69 103.47,2435.93 C101.27,2434.17 99.47,2431.93 97.47,2430.17 C95.47,2428.41 93.87,2426.71 91.47,2425.38 C89.07,2424.04 86.08,2423.28 83.08,2422.14 C80.08,2421 76.48,2419.64 73.48,2418.54 C70.48,2417.44 67.25,2416.48 65.09,2415.54 C62.93,2414.6 61.43,2413.9 60.53,2412.9 C59.63,2411.9 58.93,2410.9 59.69,2409.54 Z" fill="#4a4543" />
<path d="M163.43,2439.53 C163.03,2437.73 169.43,2433.13 173.03,2429.93 C176.63,2426.73 181.62,2421.74 185.02,2420.34 C188.42,2418.94 191.32,2420.14 193.42,2421.54 C195.51,2422.94 197.01,2426.49 197.61,2428.73 C198.21,2430.97 197.71,2433.27 197.01,2434.97 C196.31,2436.67 195.02,2437.87 193.42,2438.93 C191.82,2439.99 190.42,2441.03 187.42,2441.33 C184.42,2441.63 179.42,2441.03 175.43,2440.73 C171.43,2440.43 163.83,2441.33 163.43,2439.53 Z" fill="#3f3a38" />
<path d="M91.47,2392.75 C90.87,2391.75 92.67,2389.12 93.87,2387.96 C95.07,2386.8 97.17,2385.84 98.67,2385.8 C100.17,2385.76 102.17,2386.66 102.87,2387.72 C103.57,2388.78 103.77,2391.11 102.87,2392.15 C101.97,2393.19 99.37,2393.85 97.47,2393.95 C95.57,2394.05 92.07,2393.75 91.47,2392.75 Z" fill="#3b3634" />
<path d="M98.07,2404.75 C97.87,2402.85 98.17,2399.25 99.27,2397.55 C100.37,2395.85 102.87,2394.75 104.67,2394.55 C106.46,2394.35 109.06,2394.85 110.06,2396.35 C111.06,2397.85 111.36,2401.45 110.66,2403.55 C109.96,2405.65 107.56,2408.05 105.87,2408.94 C104.17,2409.84 101.77,2409.64 100.47,2408.94 C99.17,2408.24 98.27,2406.65 98.07,2404.75 Z" fill="#c4928d" />
<ellipse cx="153.24" cy="2414.34" rx="15.5" ry="10" fill="#9c3a3b" transform="rotate(38 153.24 2414.34)"/>
<circle cx="80.08" cy="2405.35" r="1.7" fill="#111" />
<circle cx="60.29" cy="2409.3" r="1.6" fill="#d8a0a0" />
<circle cx="213" cy="2097.5" r="6.5" fill="#c9a98a" />
<circle cx="237" cy="2114.5" r="6.5" fill="#c9a98a" />
<circle cx="225" cy="2119.5" r="6" fill="#cdb095" />
<circle cx="211" cy="2111.5" r="6.5" fill="#9a7556" />
<circle cx="221" cy="2101.5" r="7.5" fill="#8e6a4c" />
<circle cx="234" cy="2096.5" r="7" fill="#8a6547" />
<circle cx="229" cy="2109.5" r="8" fill="#93704f" />
<circle cx="240" cy="2103.5" r="5.5" fill="#d2b599" />
<circle cx="217" cy="2115.5" r="6" fill="#8e6a4c" />
<circle cx="221" cy="2101.5" r="2.2" fill="#6e4a32" />
<circle cx="234" cy="2096.5" r="2.2" fill="#6e4a32" />
<circle cx="229" cy="2109.5" r="2.2" fill="#6e4a32" />
<circle cx="211" cy="2111.5" r="2.2" fill="#6e4a32" />
<circle cx="189.5" cy="2325.5" r="6.5" fill="#c9a98a" />
<circle cx="213.5" cy="2342.5" r="6.5" fill="#c9a98a" />
<circle cx="201.5" cy="2347.5" r="6" fill="#cdb095" />
<circle cx="187.5" cy="2339.5" r="6.5" fill="#9a7556" />
<circle cx="197.5" cy="2329.5" r="7.5" fill="#8e6a4c" />
<circle cx="210.5" cy="2324.5" r="7" fill="#8a6547" />
<circle cx="205.5" cy="2337.5" r="8" fill="#93704f" />
<circle cx="216.5" cy="2331.5" r="5.5" fill="#d2b599" />
<circle cx="193.5" cy="2343.5" r="6" fill="#8e6a4c" />
<circle cx="197.5" cy="2329.5" r="2.2" fill="#6e4a32" />
<circle cx="210.5" cy="2324.5" r="2.2" fill="#6e4a32" />
<circle cx="205.5" cy="2337.5" r="2.2" fill="#6e4a32" />
<circle cx="187.5" cy="2339.5" r="2.2" fill="#6e4a32" />
<path d="M75.39,2333.16 C75.83,2330.59 77.4,2325.94 79.91,2323.74 C82.42,2321.54 86.19,2320.28 90.46,2319.97 C94.74,2319.66 101.58,2320.41 105.54,2321.85 C109.5,2323.3 112.45,2326.13 114.21,2328.64 C115.97,2331.15 116.53,2334.8 116.09,2336.93 C115.66,2339.07 113.83,2341.08 111.57,2341.45 C109.31,2341.83 105.42,2340.14 102.53,2339.19 C99.64,2338.25 97.12,2335.8 94.23,2335.8 C91.34,2335.8 88.01,2338.63 85.19,2339.19 C82.36,2339.76 78.9,2340.2 77.27,2339.19 C75.64,2338.19 74.95,2335.74 75.39,2333.16 Z" fill="#a0373a" />
<line x1="222.4" y1="2129.6" x2="196" y2="2167.5" stroke="#3d4f66" stroke-width="1.8" />
<path d="M192.7,2172.3 L194.5,2158.5 L197,2164 L203,2164.5 Z" fill="#3d4f66" />
<line x1="199.8" y1="2355.8" x2="173.5" y2="2394.2" stroke="#3d4f66" stroke-width="1.8" />
<path d="M170.4,2399 L172.2,2385.2 L174.7,2390.7 L180.7,2391.2 Z" fill="#3d4f66" />
<line x1="136.4" y1="2389.7" x2="110.5" y2="2356" stroke="#3d4f66" stroke-width="1.8" stroke-dasharray="5 4"/>
<path d="M107.4,2352 L119.5,2357.5 L113.5,2359 L112,2365 Z" fill="#3d4f66" />
<line x1="49" y1="2293.6" x2="230" y2="2293.6" stroke="#222" stroke-width="2" stroke-dasharray="7.5 6"/>
<path d="M242,2283.2 H581.4 L569.4,2264.3 L642.1,2293.5 L569.4,2322.8 L581.4,2303.9 H242 Z" fill="#3f4f66" />
<text x="248" y="2298.5" font-size="17.5" fill="#fff">Day 7</text>
<text x="306.3" y="2298.5" font-size="17.5" fill="#fff">Day 10</text>
<text x="372" y="2298.5" font-size="17.5" fill="#fff">Day 13</text>
<text x="438.7" y="2298.5" font-size="17.5" fill="#fff">Day 16</text>
<text x="504.2" y="2298.5" font-size="17.5" fill="#fff">Day 19</text>
<path d="M268.4,2340.3 H459.6 M268.4,2340.3 V2312 M334.3,2340.3 V2312 M393.8,2340.3 V2312 M459.6,2340.3 V2312" fill="none" stroke="#cf3b3c" stroke-width="1.7" />
<path d="M268.4,2305.3 L263.4,2318 L268.4,2315 L273.4,2318 Z" fill="#cf3b3c" />
<path d="M334.3,2305.3 L329.3,2318 L334.3,2315 L339.3,2318 Z" fill="#cf3b3c" />
<path d="M393.8,2305.3 L388.8,2318 L393.8,2315 L398.8,2318 Z" fill="#cf3b3c" />
<path d="M459.6,2305.3 L454.6,2318 L459.6,2315 L464.6,2318 Z" fill="#cf3b3c" />
<line x1="522.6" y1="2234.8" x2="522.6" y2="2276" stroke="#3d4f66" stroke-width="1.7" />
<path d="M522.6,2283 L517.6,2271 L522.6,2274 L527.6,2271 Z" fill="#3d4f66" />
<text x="36.6" y="2051.6" font-size="26" textLength="173.4" lengthAdjust="spacingAndGlyphs">Sham surgery</text>
<text x="246.9" y="2087.4" font-size="26">5 × 10<tspan font-size="17" dy="-10">5</tspan></text>
<text x="338.1" y="2087.4" font-size="26" textLength="225.4" lengthAdjust="spacingAndGlyphs">MC38 tumor cells</text>
<text x="466.3" y="2224.5" font-size="26" textLength="112.3" lengthAdjust="spacingAndGlyphs">Endpoint</text>
<text x="300.2" y="2379.3" font-size="26" textLength="128.2" lengthAdjust="spacingAndGlyphs">Treatment</text>
<text x="36.6" y="2546.9" font-size="26" textLength="204.7" lengthAdjust="spacingAndGlyphs">Splenectomized</text>
</svg></body></html>
